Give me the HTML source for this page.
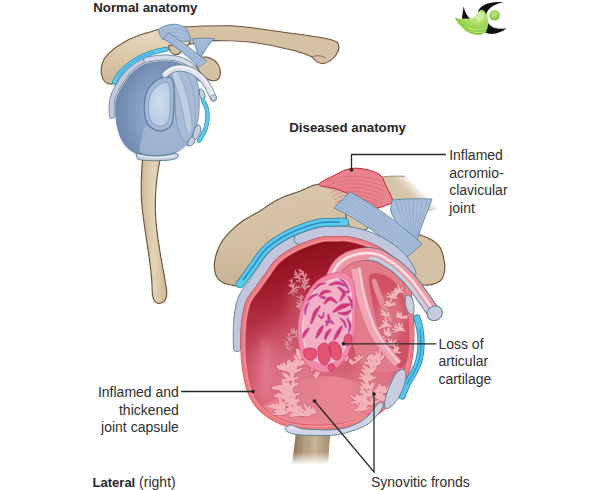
<!DOCTYPE html>
<html><head><meta charset="utf-8"><style>
html,body{margin:0;padding:0;background:#fff;width:600px;height:490px;overflow:hidden;}
svg{display:block;}
text{font-family:"Liberation Sans",sans-serif;fill:#2f2f2f;font-size:14px;}
.b{font-weight:bold;font-size:13.3px;fill:#262626;}
.bone{fill:#d5c2a5;stroke:#6a533d;stroke-width:1.15;}
.lig{fill:#a9bddb;stroke:#4f7f92;stroke-width:0.8;}
.cap{fill:#c9cde0;stroke:#4f7d8e;stroke-width:0.9;}
.bur{fill:#58c2ea;stroke:#2a7f9c;stroke-width:0.9;}
.ll{fill:none;stroke:#2a2a2a;stroke-width:1.3;}
</style></head><body>
<svg width="600" height="490" viewBox="0 0 600 490">
<defs>
  <linearGradient id="acroD" x1="0.2" x2="0.5" y1="0" y2="1">
    <stop offset="0" stop-color="#dbc9ae"/><stop offset="0.55" stop-color="#d3bfa2"/><stop offset="1" stop-color="#c7af90"/>
  </linearGradient>
  <linearGradient id="acroN" x1="0" x2="0.3" y1="1" y2="0">
    <stop offset="0" stop-color="#cdb796"/><stop offset="0.6" stop-color="#dccbab"/><stop offset="1" stop-color="#e6d8be"/>
  </linearGradient>
  <radialGradient id="glenN" cx="0.5" cy="0.45" r="0.6">
    <stop offset="0" stop-color="#d0dcee"/><stop offset="1" stop-color="#b8c9e2"/>
  </radialGradient>
  <linearGradient id="shaftDh" x1="0" x2="1" y1="0" y2="0">
    <stop offset="0" stop-color="#8a6e52"/><stop offset="0.3" stop-color="#b49c7e"/><stop offset="0.6" stop-color="#c8b498"/><stop offset="1" stop-color="#a48c70"/>
  </linearGradient>
  <linearGradient id="shaftFade" x1="0" x2="0" y1="0" y2="1">
    <stop offset="0" stop-color="#fff" stop-opacity="0"/><stop offset="0.43" stop-color="#fff" stop-opacity="0"/><stop offset="0.7" stop-color="#fff" stop-opacity="0.6"/><stop offset="0.88" stop-color="#fff" stop-opacity="1"/><stop offset="1" stop-color="#fff" stop-opacity="1"/>
  </linearGradient>
  <filter id="blur3" x="-50%" y="-50%" width="200%" height="200%"><feGaussianBlur stdDeviation="4"/></filter>
  <linearGradient id="shaftN" x1="0" x2="1" y1="0" y2="0">
    <stop offset="0" stop-color="#cdb792"/><stop offset="0.5" stop-color="#e3d4b8"/><stop offset="1" stop-color="#cdb792"/>
  </linearGradient>
  <linearGradient id="shaftD" x1="0" x2="0" y1="0" y2="1">
    <stop offset="0" stop-color="#a58e72"/><stop offset="0.6" stop-color="#c9b89c"/><stop offset="1" stop-color="#ffffff"/>
  </linearGradient>
  <radialGradient id="sockN" cx="0.62" cy="0.55" r="0.62">
    <stop offset="0" stop-color="#acbfdb"/><stop offset="0.6" stop-color="#849cc0"/><stop offset="1" stop-color="#6c86ae"/>
  </radialGradient>
  <linearGradient id="sockD" x1="0" x2="0.25" y1="0" y2="1">
    <stop offset="0" stop-color="#7c0712"/><stop offset="0.28" stop-color="#a01a2c"/><stop offset="0.6" stop-color="#c6465c"/><stop offset="1" stop-color="#e27688"/>
  </linearGradient>
  <radialGradient id="sockD2" cx="0.3" cy="0.72" r="0.35">
    <stop offset="0" stop-color="#e58096" stop-opacity="0.7"/><stop offset="1" stop-color="#e58096" stop-opacity="0"/>
  </radialGradient>
  <linearGradient id="floorD" x1="0" x2="0" y1="0" y2="1">
    <stop offset="0" stop-color="#e77888"/><stop offset="1" stop-color="#ee8896"/>
  </linearGradient>
  <linearGradient id="clavD" gradientUnits="userSpaceOnUse" x1="411" y1="203.5" x2="424" y2="190.5">
    <stop offset="0" stop-color="#d6c4a8"/><stop offset="0.4" stop-color="#dccbb2"/><stop offset="0.8" stop-color="#f4eee6"/><stop offset="1" stop-color="#ffffff"/>
  </linearGradient>
  <radialGradient id="logoG" cx="0.65" cy="0.3" r="0.8">
    <stop offset="0" stop-color="#c4ea86"/><stop offset="0.6" stop-color="#94d44a"/><stop offset="1" stop-color="#78bf2c"/>
  </radialGradient>
  <radialGradient id="logoB" cx="0.45" cy="0.4" r="0.6">
    <stop offset="0" stop-color="#c8ec94"/><stop offset="1" stop-color="#7cc232"/>
  </radialGradient>
</defs>

<!-- ============ NORMAL ANATOMY ============ -->
<path class="bone" style="fill:url(#shaftN)" d="M143,155 C141,175 140,195 143,215 C146,240 151,262 152,285 C152,296 153,303 159,303.5 C166,303 168,296 166,286 C163,268 158,245 156,222 C154,200 156,178 161,155 Z"/>
<path class="bone" d="M182,27 C200,26 218,25.5 232,25.8 C250,27 262,29 275,31 C290,33 305,35 318,37 C328,38.5 334,40 337.5,42.5 C339.5,46 339,51 336,55 C333,59 329,62 324,63.5 C319,64 315,61 312,57 C304,53 296,51 287,49 C275,46 262,43.5 250,42 C238,41 226,40.5 214,40.5 L190,44 Z"/>
<path fill="none" stroke="#6f5a46" stroke-width="0.8" d="M312,57 C316,55 322,55.5 326,58"/>
<path class="bone" style="fill:url(#acroN);stroke-width:1.1" d="M104.0,80.5 L103.5,79.7 L103.0,78.7 L102.6,77.7 L102.2,76.6 L101.8,75.4 L101.5,74.3 L101.3,73.1 L101.2,72.0 L101.1,70.9 L101.2,69.7 L101.3,68.6 L101.4,67.4 L101.6,66.3 L101.9,65.1 L102.2,64.0 L102.5,63.0 L102.8,62.0 L103.2,61.1 L103.6,60.2 L104.1,59.4 L104.6,58.6 L105.2,57.7 L105.8,56.9 L106.5,56.0 L107.3,55.1 L108.1,54.2 L109.0,53.2 L110.0,52.3 L111.0,51.4 L112.0,50.5 L113.0,49.6 L114.0,48.8 L115.0,48.0 L116.0,47.3 L117.1,46.6 L118.1,45.9 L119.1,45.3 L120.1,44.7 L121.1,44.1 L122.0,43.5 L122.8,43.0 L123.6,42.5 L124.4,42.0 L125.1,41.6 L125.8,41.2 L126.5,40.8 L127.2,40.4 L128.0,40.0 L128.8,39.6 L129.7,39.2 L130.6,38.8 L131.4,38.4 L132.3,38.1 L133.2,37.7 L134.1,37.4 L135.0,37.0 L135.9,36.6 L136.7,36.3 L137.6,35.9 L138.4,35.6 L139.3,35.3 L140.2,34.9 L141.1,34.6 L142.0,34.3 L143.0,34.0 L144.0,33.7 L145.0,33.4 L146.0,33.1 L147.0,32.8 L148.0,32.6 L149.0,32.3 L150.0,32.0 L150.9,31.7 L151.8,31.4 L152.6,31.1 L153.4,30.9 L154.3,30.6 L155.1,30.3 L156.0,30.0 L157.0,29.8 L158.0,29.6 L159.1,29.3 L160.2,29.1 L161.3,28.8 L162.5,28.6 L163.6,28.4 L164.8,28.3 L166.0,28.2 L167.2,28.2 L168.5,28.2 L169.7,28.2 L171.0,28.2 L172.3,28.4 L173.5,28.5 L174.8,28.7 L176.0,29.0 L177.2,29.3 L178.4,29.7 L179.6,30.1 L180.8,30.6 L182.0,31.1 L183.1,31.7 L184.1,32.3 L185.0,33.0 L185.9,33.7 L186.7,34.5 L187.6,35.4 L188.3,36.3 L189.0,37.2 L189.5,38.2 L189.8,39.1 L190.0,40.0 L190.0,40.9 L189.8,41.8 L189.4,42.8 L188.9,43.8 L188.3,44.7 L187.6,45.5 L186.8,46.3 L186.0,47.0 L185.0,47.6 L183.9,48.1 L182.6,48.6 L181.3,49.0 L179.9,49.3 L178.6,49.6 L177.2,49.8 L176.0,50.0 L174.8,50.1 L173.7,50.1 L172.6,50.0 L171.4,49.8 L170.3,49.7 L169.2,49.6 L168.1,49.5 L167.0,49.5 L165.9,49.6 L164.8,49.7 L163.7,49.8 L162.6,50.0 L161.4,50.2 L160.3,50.4 L159.2,50.7 L158.0,51.0 L156.8,51.3 L155.6,51.7 L154.3,52.1 L153.1,52.5 L151.8,53.0 L150.5,53.5 L149.3,54.0 L148.0,54.5 L146.7,55.0 L145.5,55.6 L144.2,56.2 L142.9,56.9 L141.6,57.5 L140.4,58.2 L139.2,58.8 L138.0,59.5 L136.9,60.2 L135.8,60.8 L134.8,61.5 L133.8,62.2 L132.8,62.9 L131.9,63.6 L130.9,64.3 L130.0,65.0 L129.1,65.7 L128.1,66.5 L127.2,67.2 L126.3,68.0 L125.4,68.8 L124.6,69.5 L123.8,70.3 L123.0,71.0 L122.3,71.7 L121.6,72.4 L120.9,73.1 L120.2,73.8 L119.6,74.4 L119.1,75.1 L118.5,75.8 L118.0,76.5 L117.5,77.3 L117.2,78.1 L116.8,78.9 L116.5,79.8 L116.2,80.6 L115.9,81.3 L115.5,82.0 L115.0,82.5 L114.4,82.9 L113.8,83.3 L113.1,83.6 L112.4,83.8 L111.7,84.0 L110.9,84.1 L110.2,84.1 L109.5,84.0 L108.8,83.8 L108.1,83.6 L107.3,83.3 L106.6,82.9 L105.9,82.4 L105.2,81.8 L104.6,81.2 Z"/>
<path class="bone" d="M168.5,46 C173,44.5 178,45 180.5,48 C182,51.5 180,54.5 176,54.5 C172,54.5 169,51 168.5,46 Z"/>
<path class="bone" d="M196,60 C201,55 211,56.5 217,63 C221.5,68.5 221.5,77 217,80 C211,82.5 204,78 200,72 C197,68 195.5,63.5 196,60 Z"/>
<path class="lig" d="M192,39 C199,38 207,38 214.5,38.5 C209,44 205,50 201.5,56.5 L197.5,56 C197,50 195,44 192,39 Z"/>
<path fill="none" stroke="#7d9cc0" stroke-width="0.5" d="M196,40 L199,55 M200,40 L200,55.5 M204,40 L200.5,55.5 M208,40 L201,55.5 M211,40 L201.5,55"/>
<path class="lig" d="M158.5,29.5 C163,26 168,24.5 173,24.3 C180,24.2 184.5,26.5 187,30 C189.5,33.5 190.5,37.5 190.5,41 C185,41.5 180,41 174,40.3 C169,39.8 165,39.5 162.5,39.3 C160,36 158.5,32.5 158.5,29.5 Z"/>
<path fill="none" stroke="#7d9cc0" stroke-width="0.5" d="M161,31 C170,27 180,28 188,33 M162,34 C172,31 182,32 189.5,37 M164,37 C174,35 183,36 190.5,40"/>
<path class="lig" d="M163,38.5 L168.5,33 C180,40 195,52 207,61.5 L199,67.5 C189,57 176,47 163,38.5 Z"/>
<path fill="none" stroke="#7d9cc0" stroke-width="0.5" d="M165,37 L202,65 M167,35 L204.5,63.5 M165.5,39.5 L200.5,66.5"/>
<path fill="#d9c7a6" d="M199,67.5 L207,61.5 L209,64 L201.5,69.5 Z" opacity="0.9"/>
<path fill="url(#sockN)" stroke="#eef1f7" stroke-width="1.3" d="M144.0,63.5 L144.7,63.3 L145.4,63.0 L146.2,62.8 L147.0,62.6 L147.7,62.5 L148.6,62.3 L149.4,62.1 L150.2,62.0 L151.0,61.9 L151.8,61.7 L152.7,61.6 L153.5,61.5 L154.2,61.4 L155.0,61.3 L155.7,61.2 L156.5,61.1 L157.2,61.0 L157.9,60.9 L158.6,60.8 L159.3,60.8 L160.0,60.7 L160.7,60.6 L161.4,60.6 L162.1,60.6 L162.8,60.5 L163.5,60.5 L164.3,60.5 L165.0,60.5 L165.8,60.5 L166.5,60.5 L167.3,60.5 L168.1,60.6 L168.9,60.6 L169.7,60.6 L170.5,60.7 L171.3,60.8 L172.1,60.8 L172.9,60.9 L173.7,61.1 L174.5,61.2 L175.2,61.3 L176.0,61.5 L176.8,61.7 L177.5,61.9 L178.3,62.1 L179.0,62.4 L179.8,62.6 L180.5,62.9 L181.2,63.2 L182.0,63.5 L182.7,63.8 L183.4,64.1 L184.1,64.4 L184.7,64.8 L185.4,65.1 L186.0,65.5 L186.6,65.9 L187.2,66.3 L187.7,66.7 L188.3,67.1 L188.8,67.5 L189.3,67.9 L189.8,68.4 L190.3,68.8 L190.8,69.3 L191.3,69.8 L191.7,70.3 L192.2,70.9 L192.6,71.4 L193.0,72.0 L193.4,72.6 L193.8,73.2 L194.2,73.9 L194.5,74.5 L194.9,75.2 L195.2,75.9 L195.6,76.6 L195.9,77.3 L196.2,78.1 L196.5,78.8 L196.7,79.6 L197.0,80.4 L197.3,81.2 L197.5,82.0 L197.7,82.8 L197.9,83.7 L198.1,84.6 L198.3,85.4 L198.5,86.3 L198.6,87.3 L198.8,88.2 L198.9,89.1 L199.0,90.1 L199.1,91.1 L199.2,92.0 L199.3,93.0 L199.4,94.0 L199.5,95.0 L199.6,96.0 L199.6,97.0 L199.7,98.1 L199.7,99.2 L199.7,100.3 L199.7,101.3 L199.8,102.4 L199.7,103.5 L199.7,104.6 L199.7,105.7 L199.7,106.8 L199.6,107.9 L199.6,109.0 L199.5,110.0 L199.4,111.0 L199.3,112.1 L199.2,113.1 L199.1,114.1 L199.0,115.2 L198.9,116.2 L198.8,117.2 L198.6,118.2 L198.5,119.2 L198.3,120.2 L198.1,121.2 L197.9,122.1 L197.7,123.1 L197.5,124.0 L197.3,124.9 L197.0,125.8 L196.7,126.7 L196.5,127.6 L196.2,128.5 L195.9,129.4 L195.6,130.2 L195.2,131.1 L194.9,131.9 L194.5,132.8 L194.2,133.6 L193.8,134.4 L193.4,135.2 L193.0,136.0 L192.6,136.8 L192.2,137.6 L191.7,138.3 L191.3,139.1 L190.8,139.8 L190.3,140.6 L189.8,141.3 L189.3,142.0 L188.8,142.7 L188.3,143.4 L187.7,144.1 L187.2,144.7 L186.6,145.4 L186.0,146.0 L185.4,146.6 L184.8,147.2 L184.2,147.8 L183.5,148.3 L182.9,148.8 L182.2,149.4 L181.6,149.9 L180.9,150.4 L180.1,150.8 L179.4,151.3 L178.6,151.8 L177.8,152.2 L176.9,152.6 L176.0,153.0 L175.0,153.4 L174.0,153.8 L173.0,154.1 L171.9,154.5 L170.7,154.8 L169.6,155.1 L168.4,155.4 L167.2,155.7 L166.0,156.0 L164.8,156.2 L163.6,156.4 L162.3,156.6 L161.2,156.8 L160.0,157.0 L158.8,157.1 L157.6,157.3 L156.4,157.4 L155.2,157.5 L153.9,157.5 L152.7,157.6 L151.4,157.6 L150.2,157.6 L149.0,157.6 L147.9,157.6 L146.8,157.5 L145.7,157.5 L144.7,157.4 L143.8,157.3 L142.9,157.2 L142.2,157.0 L141.4,156.9 L140.7,156.7 L140.1,156.5 L139.5,156.3 L138.9,156.0 L138.4,155.8 L137.8,155.5 L137.3,155.2 L136.7,155.0 L136.2,154.6 L135.6,154.3 L135.0,154.0 L134.4,153.7 L133.7,153.3 L133.1,152.9 L132.5,152.6 L131.8,152.2 L131.2,151.8 L130.6,151.4 L130.0,150.9 L129.3,150.5 L128.7,150.0 L128.2,149.5 L127.6,149.0 L127.0,148.5 L126.5,148.0 L126.0,147.5 L125.5,146.9 L125.0,146.3 L124.5,145.7 L124.1,145.1 L123.6,144.5 L123.2,143.8 L122.8,143.2 L122.4,142.5 L122.0,141.8 L121.6,141.1 L121.2,140.4 L120.9,139.7 L120.5,139.0 L120.2,138.3 L119.8,137.5 L119.5,136.8 L119.2,136.0 L118.9,135.2 L118.7,134.4 L118.4,133.6 L118.1,132.8 L117.9,132.0 L117.7,131.2 L117.4,130.4 L117.2,129.6 L117.0,128.8 L116.8,128.0 L116.6,127.2 L116.4,126.4 L116.3,125.6 L116.1,124.8 L116.0,124.0 L115.8,123.2 L115.7,122.4 L115.6,121.6 L115.5,120.8 L115.4,120.0 L115.3,119.2 L115.2,118.5 L115.1,117.7 L115.0,117.0 L114.9,116.3 L114.9,115.7 L114.8,115.0 L114.7,114.4 L114.7,113.8 L114.6,113.2 L114.6,112.6 L114.6,112.0 L114.6,111.4 L114.6,110.8 L114.6,110.2 L114.6,109.6 L114.6,109.0 L114.6,108.3 L114.6,107.6 L114.7,106.9 L114.7,106.2 L114.7,105.5 L114.8,104.7 L114.8,104.0 L114.9,103.2 L114.9,102.5 L115.0,101.7 L115.1,101.0 L115.3,100.2 L115.4,99.5 L115.6,98.7 L115.8,98.0 L116.0,97.3 L116.3,96.5 L116.5,95.8 L116.8,95.1 L117.1,94.4 L117.4,93.7 L117.8,93.0 L118.1,92.3 L118.5,91.5 L118.9,90.8 L119.3,90.0 L119.7,89.3 L120.1,88.5 L120.6,87.7 L121.1,86.9 L121.6,86.0 L122.2,85.1 L122.7,84.2 L123.3,83.2 L123.9,82.3 L124.5,81.3 L125.2,80.4 L125.8,79.5 L126.4,78.6 L127.0,77.7 L127.7,76.9 L128.2,76.1 L128.8,75.4 L129.3,74.7 L129.9,74.1 L130.4,73.5 L130.9,73.0 L131.4,72.5 L131.9,72.0 L132.4,71.5 L132.9,71.0 L133.4,70.6 L133.9,70.2 L134.4,69.8 L134.9,69.3 L135.5,68.9 L136.0,68.5 L136.5,68.1 L137.1,67.7 L137.6,67.3 L138.1,66.9 L138.7,66.5 L139.2,66.1 L139.8,65.7 L140.3,65.3 L140.9,65.0 L141.5,64.7 L142.1,64.4 L142.7,64.1 L143.3,63.8 Z"/>
<path fill="none" stroke="#6f8aa8" stroke-width="0.6" d="M144.3,64.3 L145.0,64.1 L145.7,63.9 L146.4,63.7 L147.2,63.5 L147.9,63.3 L148.7,63.2 L149.5,63.0 L150.3,62.9 L151.2,62.8 L152.0,62.6 L152.8,62.5 L153.6,62.4 L154.4,62.3 L155.1,62.2 L155.9,62.1 L156.6,62.0 L157.3,61.9 L158.0,61.8 L158.7,61.7 L159.4,61.7 L160.1,61.6 L160.8,61.5 L161.5,61.5 L162.1,61.5 L162.8,61.4 L163.5,61.4 L164.3,61.4 L165.0,61.4 L165.7,61.4 L166.5,61.4 L167.3,61.4 L168.1,61.5 L168.9,61.5 L169.6,61.5 L170.4,61.6 L171.2,61.7 L172.0,61.7 L172.8,61.8 L173.6,61.9 L174.3,62.1 L175.1,62.2 L175.8,62.4 L176.5,62.6 L177.3,62.8 L178.0,63.0 L178.7,63.2 L179.5,63.5 L180.2,63.7 L180.9,64.0 L181.6,64.3 L182.3,64.6 L183.0,64.9 L183.7,65.2 L184.3,65.6 L184.9,65.9 L185.5,66.3 L186.1,66.6 L186.7,67.0 L187.2,67.4 L187.7,67.8 L188.3,68.2 L188.8,68.6 L189.2,69.0 L189.7,69.5 L190.2,69.9 L190.6,70.4 L191.0,70.9 L191.5,71.4 L191.9,72.0 L192.3,72.5 L192.7,73.1 L193.0,73.7 L193.4,74.3 L193.7,74.9 L194.1,75.6 L194.4,76.3 L194.7,77.0 L195.0,77.7 L195.3,78.4 L195.6,79.1 L195.9,79.9 L196.2,80.7 L196.4,81.4 L196.6,82.2 L196.9,83.1 L197.1,83.9 L197.3,84.7 L197.4,85.6 L197.6,86.5 L197.7,87.4 L197.9,88.3 L198.0,89.3 L198.1,90.2 L198.3,91.2 L198.4,92.1 L198.4,93.1 L198.5,94.1 L198.6,95.1 L198.7,96.1 L198.7,97.1 L198.8,98.1 L198.8,99.2 L198.8,100.3 L198.8,101.3 L198.8,102.4 L198.8,103.5 L198.8,104.6 L198.8,105.7 L198.8,106.8 L198.7,107.8 L198.7,108.9 L198.6,109.9 L198.5,111.0 L198.4,112.0 L198.4,113.0 L198.3,114.0 L198.1,115.1 L198.0,116.1 L197.9,117.1 L197.7,118.1 L197.6,119.0 L197.4,120.0 L197.2,121.0 L197.1,121.9 L196.8,122.9 L196.6,123.8 L196.4,124.7 L196.1,125.6 L195.9,126.5 L195.6,127.4 L195.3,128.2 L195.0,129.1 L194.7,129.9 L194.4,130.8 L194.1,131.6 L193.7,132.4 L193.4,133.2 L193.0,134.0 L192.6,134.8 L192.2,135.6 L191.8,136.4 L191.4,137.1 L190.9,137.9 L190.5,138.6 L190.0,139.4 L189.6,140.1 L189.1,140.8 L188.6,141.5 L188.1,142.2 L187.6,142.9 L187.1,143.5 L186.5,144.1 L185.9,144.8 L185.4,145.4 L184.8,146.0 L184.2,146.5 L183.6,147.1 L182.9,147.6 L182.3,148.1 L181.7,148.7 L181.0,149.1 L180.4,149.6 L179.7,150.1 L178.9,150.5 L178.2,151.0 L177.4,151.4 L176.5,151.8 L175.6,152.2 L174.7,152.5 L173.7,152.9 L172.7,153.3 L171.6,153.6 L170.5,153.9 L169.3,154.2 L168.2,154.5 L167.0,154.8 L165.8,155.1 L164.6,155.3 L163.4,155.6 L162.2,155.8 L161.0,155.9 L159.9,156.1 L158.7,156.2 L157.5,156.4 L156.3,156.5 L155.1,156.6 L153.9,156.6 L152.7,156.7 L151.4,156.7 L150.2,156.7 L149.1,156.7 L147.9,156.7 L146.8,156.6 L145.8,156.6 L144.8,156.5 L143.9,156.4 L143.1,156.3 L142.3,156.2 L141.6,156.0 L141.0,155.8 L140.4,155.6 L139.8,155.4 L139.3,155.2 L138.7,155.0 L138.2,154.7 L137.7,154.4 L137.2,154.2 L136.6,153.9 L136.0,153.5 L135.4,153.2 L134.8,152.9 L134.2,152.5 L133.6,152.2 L132.9,151.8 L132.3,151.4 L131.7,151.0 L131.1,150.6 L130.5,150.2 L129.9,149.8 L129.3,149.3 L128.7,148.8 L128.2,148.4 L127.7,147.9 L127.1,147.4 L126.7,146.8 L126.2,146.3 L125.7,145.7 L125.3,145.2 L124.8,144.6 L124.4,143.9 L124.0,143.3 L123.5,142.7 L123.1,142.0 L122.8,141.4 L122.4,140.7 L122.0,140.0 L121.7,139.3 L121.3,138.6 L121.0,137.9 L120.7,137.2 L120.4,136.4 L120.1,135.7 L119.8,134.9 L119.5,134.1 L119.2,133.3 L119.0,132.6 L118.7,131.8 L118.5,131.0 L118.3,130.2 L118.1,129.4 L117.9,128.6 L117.7,127.8 L117.5,127.0 L117.3,126.2 L117.1,125.4 L117.0,124.6 L116.8,123.8 L116.7,123.0 L116.6,122.2 L116.5,121.4 L116.4,120.6 L116.2,119.9 L116.2,119.1 L116.1,118.3 L116.0,117.6 L115.9,116.9 L115.8,116.2 L115.8,115.6 L115.7,114.9 L115.6,114.3 L115.6,113.7 L115.5,113.1 L115.5,112.6 L115.5,112.0 L115.5,111.4 L115.5,110.8 L115.5,110.2 L115.5,109.6 L115.5,109.0 L115.5,108.3 L115.5,107.6 L115.6,106.9 L115.6,106.2 L115.6,105.5 L115.7,104.8 L115.7,104.1 L115.8,103.3 L115.8,102.6 L115.9,101.9 L116.0,101.1 L116.2,100.4 L116.3,99.7 L116.5,99.0 L116.7,98.2 L116.9,97.5 L117.1,96.8 L117.4,96.1 L117.6,95.5 L117.9,94.8 L118.2,94.1 L118.6,93.4 L118.9,92.7 L119.3,91.9 L119.7,91.2 L120.1,90.5 L120.5,89.7 L120.9,88.9 L121.4,88.2 L121.9,87.3 L122.4,86.5 L122.9,85.6 L123.5,84.7 L124.1,83.7 L124.7,82.8 L125.3,81.8 L125.9,80.9 L126.5,80.0 L127.2,79.1 L127.8,78.2 L128.4,77.4 L129.0,76.7 L129.5,76.0 L130.0,75.3 L130.6,74.7 L131.1,74.1 L131.6,73.6 L132.1,73.1 L132.5,72.6 L133.0,72.2 L133.5,71.7 L134.0,71.3 L134.5,70.9 L135.0,70.5 L135.5,70.0 L136.0,69.6 L136.6,69.2 L137.1,68.8 L137.6,68.4 L138.2,68.0 L138.7,67.6 L139.2,67.2 L139.7,66.8 L140.3,66.5 L140.8,66.1 L141.3,65.8 L141.9,65.5 L142.5,65.2 L143.1,64.9 L143.7,64.6 Z"/>
<path fill="#a3b6d3" opacity="0.85" d="M146.0,126.0 L146.8,125.9 L147.8,126.0 L148.8,126.3 L150.0,126.8 L151.2,127.4 L152.5,128.1 L153.8,128.8 L155.1,129.4 L156.4,130.1 L157.7,130.5 L158.9,130.9 L160.0,131.0 L161.1,130.9 L162.1,130.6 L163.2,130.1 L164.2,129.6 L165.2,129.0 L166.2,128.3 L167.2,127.7 L168.2,127.1 L169.2,126.6 L170.1,126.2 L171.1,126.0 L172.0,126.0 L172.9,126.2 L173.8,126.6 L174.7,127.1 L175.6,127.7 L176.4,128.5 L177.2,129.2 L178.1,130.1 L178.9,130.9 L179.7,131.8 L180.5,132.6 L181.2,133.3 L182.0,134.0 L182.8,134.6 L183.7,135.2 L184.6,135.8 L185.5,136.3 L186.4,136.9 L187.2,137.4 L188.0,138.0 L188.7,138.6 L189.3,139.1 L189.7,139.7 L190.0,140.3 L190.0,141.0 L189.8,141.7 L189.4,142.4 L188.9,143.2 L188.2,144.0 L187.4,144.8 L186.4,145.7 L185.4,146.5 L184.4,147.3 L183.3,148.0 L182.2,148.7 L181.1,149.4 L180.0,150.0 L178.9,150.5 L177.8,151.1 L176.6,151.5 L175.4,152.0 L174.1,152.4 L172.8,152.8 L171.5,153.1 L170.2,153.5 L168.9,153.8 L167.6,154.0 L166.3,154.3 L165.0,154.5 L163.7,154.7 L162.4,154.9 L161.1,155.0 L159.8,155.1 L158.5,155.2 L157.2,155.3 L155.9,155.3 L154.6,155.3 L153.4,155.3 L152.2,155.2 L151.1,155.1 L150.0,155.0 L149.0,154.9 L147.9,154.7 L146.9,154.5 L145.9,154.3 L144.9,154.1 L143.9,153.8 L143.1,153.5 L142.3,153.2 L141.5,152.7 L140.9,152.2 L140.4,151.7 L140.0,151.0 L139.7,150.2 L139.6,149.3 L139.6,148.4 L139.7,147.3 L139.9,146.2 L140.1,145.0 L140.4,143.8 L140.7,142.6 L141.1,141.4 L141.4,140.2 L141.7,139.1 L142.0,138.0 L142.2,136.9 L142.4,135.7 L142.6,134.5 L142.8,133.3 L143.0,132.1 L143.2,130.9 L143.5,129.7 L143.9,128.7 L144.2,127.8 L144.7,127.0 L145.3,126.4 Z"/>
<path fill="#a8bbd7" stroke="#6a8aa6" stroke-width="0.7" d="M168.0,70.0 L168.4,69.2 L169.0,68.5 L169.8,67.9 L170.7,67.5 L171.8,67.1 L172.9,66.8 L174.2,66.7 L175.4,66.5 L176.6,66.5 L177.8,66.5 L179.0,66.5 L180.0,66.5 L181.0,66.6 L181.9,66.7 L182.9,66.9 L183.9,67.2 L184.9,67.5 L185.9,67.8 L186.8,68.3 L187.7,68.7 L188.6,69.2 L189.5,69.8 L190.3,70.4 L191.0,71.0 L191.7,71.7 L192.3,72.4 L192.9,73.2 L193.5,74.0 L194.1,74.9 L194.6,75.8 L195.0,76.7 L195.5,77.7 L195.9,78.7 L196.3,79.8 L196.7,80.9 L197.0,82.0 L197.3,83.2 L197.6,84.4 L197.8,85.6 L198.1,86.9 L198.2,88.3 L198.4,89.6 L198.5,91.0 L198.7,92.4 L198.8,93.8 L198.9,95.2 L198.9,96.6 L199.0,98.0 L199.1,99.4 L199.1,100.8 L199.1,102.2 L199.1,103.7 L199.1,105.1 L199.1,106.6 L199.0,108.0 L199.0,109.4 L198.9,110.9 L198.8,112.3 L198.7,113.7 L198.5,115.0 L198.3,116.3 L198.1,117.7 L197.9,119.0 L197.6,120.3 L197.4,121.6 L197.1,122.9 L196.8,124.1 L196.5,125.4 L196.1,126.6 L195.8,127.8 L195.4,128.9 L195.0,130.0 L194.6,131.1 L194.2,132.2 L193.7,133.4 L193.2,134.5 L192.7,135.6 L192.2,136.6 L191.7,137.6 L191.2,138.5 L190.6,139.3 L190.1,140.0 L189.5,140.6 L189.0,141.0 L188.4,141.3 L187.9,141.4 L187.3,141.5 L186.7,141.4 L186.1,141.3 L185.4,141.1 L184.8,140.7 L184.2,140.3 L183.6,139.9 L183.1,139.3 L182.5,138.7 L182.0,138.0 L181.5,137.2 L181.0,136.4 L180.5,135.4 L180.1,134.3 L179.6,133.2 L179.2,132.0 L178.8,130.7 L178.4,129.4 L178.0,128.1 L177.6,126.8 L177.3,125.4 L177.0,124.0 L176.7,122.6 L176.5,121.1 L176.3,119.6 L176.1,118.0 L175.9,116.3 L175.8,114.7 L175.6,113.0 L175.5,111.4 L175.4,109.7 L175.2,108.1 L175.1,106.5 L175.0,105.0 L174.9,103.5 L174.8,102.1 L174.8,100.6 L174.8,99.2 L174.8,97.8 L174.8,96.4 L174.7,95.1 L174.7,93.7 L174.6,92.3 L174.4,90.9 L174.3,89.4 L174.0,88.0 L173.6,86.5 L173.1,84.9 L172.4,83.2 L171.7,81.5 L170.9,79.8 L170.2,78.2 L169.5,76.5 L168.9,75.0 L168.4,73.5 L168.0,72.2 L167.9,71.0 Z"/>
<path fill="#bfcee5" stroke="#7a98b4" stroke-width="0.6" d="M172.0,74.0 L172.1,73.3 L172.4,72.7 L172.7,72.1 L173.2,71.7 L173.7,71.4 L174.3,71.1 L174.9,71.0 L175.6,71.0 L176.2,71.0 L176.9,71.2 L177.5,71.6 L178.0,72.0 L178.5,72.6 L179.0,73.4 L179.5,74.3 L180.0,75.3 L180.6,76.5 L181.1,77.8 L181.6,79.1 L182.1,80.4 L182.6,81.8 L183.1,83.2 L183.5,84.6 L184.0,86.0 L184.5,87.4 L184.9,88.7 L185.4,90.2 L185.8,91.6 L186.3,93.1 L186.7,94.6 L187.1,96.2 L187.5,97.7 L187.9,99.3 L188.3,100.8 L188.7,102.4 L189.0,104.0 L189.3,105.6 L189.7,107.3 L190.0,109.1 L190.3,110.9 L190.6,112.7 L190.9,114.5 L191.2,116.3 L191.4,118.0 L191.6,119.7 L191.8,121.2 L191.9,122.7 L192.0,124.0 L192.0,125.2 L192.0,126.4 L191.9,127.6 L191.8,128.7 L191.6,129.7 L191.4,130.6 L191.2,131.5 L191.0,132.2 L190.8,132.9 L190.5,133.4 L190.3,133.8 L190.0,134.0 L189.7,134.1 L189.4,134.1 L189.1,134.0 L188.8,133.7 L188.5,133.3 L188.1,132.9 L187.8,132.3 L187.4,131.6 L187.0,130.9 L186.7,130.0 L186.3,129.0 L186.0,128.0 L185.7,126.8 L185.3,125.5 L185.0,123.9 L184.7,122.3 L184.4,120.6 L184.1,118.8 L183.7,116.9 L183.4,115.0 L183.1,113.2 L182.7,111.4 L182.4,109.6 L182.0,108.0 L181.6,106.4 L181.2,104.9 L180.8,103.3 L180.4,101.8 L180.0,100.3 L179.6,98.8 L179.1,97.3 L178.7,95.8 L178.3,94.3 L177.8,92.9 L177.4,91.4 L177.0,90.0 L176.5,88.6 L176.0,87.1 L175.5,85.5 L174.9,84.0 L174.4,82.5 L173.8,81.0 L173.3,79.6 L172.9,78.2 L172.5,77.0 L172.2,75.8 L172.0,74.8 Z"/>
<path fill="none" stroke="#7f9bb8" stroke-width="0.6" d="M186.0,72.0 L186.5,73.2 L187.0,74.3 L187.6,75.4 L188.1,76.5 L188.7,77.6 L189.2,78.8 L189.7,79.9 L190.2,81.0 L190.7,82.2 L191.2,83.4 L191.6,84.7 L192.0,86.0 L192.4,87.4 L192.7,88.7 L193.0,90.2 L193.3,91.6 L193.6,93.1 L193.9,94.6 L194.1,96.2 L194.3,97.7 L194.5,99.3 L194.7,100.8 L194.9,102.4 L195.0,104.0 L195.1,105.6 L195.2,107.3 L195.3,109.0 L195.3,110.8 L195.4,112.6 L195.4,114.4 L195.4,116.1 L195.3,117.9 L195.3,119.5 L195.2,121.1 L195.1,122.6 L195.0,124.0 L194.9,125.3 L194.7,126.5 L194.5,127.6 L194.2,128.6 L194.0,129.6 L193.7,130.5 L193.4,131.4 L193.1,132.3 L192.8,133.2 L192.5,134.1 L192.3,135.0 L192.0,136.0"/>
<path fill="#a3b8d6" stroke="#54789a" stroke-width="1.15" d="M167.0,77.0 L167.6,77.0 L168.1,77.0 L168.6,77.0 L169.1,77.1 L169.5,77.2 L169.9,77.3 L170.3,77.4 L170.7,77.6 L171.1,77.9 L171.4,78.2 L171.7,78.6 L172.0,79.0 L172.3,79.5 L172.5,80.0 L172.8,80.7 L173.0,81.3 L173.1,82.1 L173.3,82.8 L173.5,83.6 L173.6,84.4 L173.7,85.3 L173.8,86.2 L173.9,87.1 L174.0,88.0 L174.1,88.9 L174.1,89.9 L174.2,91.0 L174.2,92.0 L174.2,93.1 L174.2,94.2 L174.1,95.4 L174.1,96.5 L174.1,97.7 L174.1,98.8 L174.0,99.9 L174.0,101.0 L174.0,102.1 L174.0,103.2 L173.9,104.3 L173.9,105.4 L173.9,106.5 L173.9,107.7 L173.8,108.8 L173.8,109.9 L173.7,110.9 L173.7,112.0 L173.6,113.0 L173.5,114.0 L173.4,115.0 L173.3,116.0 L173.2,116.9 L173.1,117.9 L173.0,118.8 L172.8,119.8 L172.7,120.6 L172.5,121.5 L172.3,122.3 L172.1,123.1 L171.8,123.8 L171.5,124.5 L171.2,125.1 L170.8,125.7 L170.4,126.2 L170.0,126.7 L169.5,127.2 L169.1,127.6 L168.6,128.0 L168.1,128.3 L167.6,128.6 L167.0,128.9 L166.5,129.2 L166.0,129.5 L165.5,129.8 L164.9,130.0 L164.4,130.2 L163.8,130.4 L163.2,130.5 L162.7,130.7 L162.1,130.8 L161.5,130.8 L160.9,130.9 L160.2,130.9 L159.6,130.9 L159.0,130.8 L158.4,130.7 L157.7,130.6 L157.0,130.4 L156.3,130.2 L155.6,130.0 L154.9,129.7 L154.2,129.4 L153.5,129.1 L152.8,128.7 L152.2,128.3 L151.6,127.9 L151.0,127.5 L150.5,127.0 L150.0,126.5 L149.5,126.0 L149.0,125.5 L148.5,124.9 L148.1,124.3 L147.7,123.7 L147.3,123.0 L146.9,122.3 L146.6,121.6 L146.3,120.8 L146.0,120.0 L145.7,119.2 L145.5,118.3 L145.3,117.3 L145.1,116.3 L144.9,115.3 L144.8,114.3 L144.6,113.2 L144.5,112.2 L144.4,111.1 L144.4,110.1 L144.3,109.0 L144.3,108.0 L144.3,107.0 L144.3,106.0 L144.3,104.9 L144.4,103.9 L144.4,102.9 L144.5,101.8 L144.6,100.8 L144.7,99.8 L144.9,98.8 L145.1,97.9 L145.3,96.9 L145.5,96.0 L145.7,95.1 L146.0,94.2 L146.3,93.4 L146.6,92.6 L147.0,91.7 L147.3,90.9 L147.7,90.2 L148.1,89.4 L148.6,88.6 L149.0,87.9 L149.5,87.2 L150.0,86.5 L150.5,85.8 L151.1,85.1 L151.7,84.5 L152.4,83.8 L153.0,83.2 L153.7,82.6 L154.4,82.0 L155.1,81.4 L155.8,80.9 L156.6,80.4 L157.3,79.9 L158.0,79.5 L158.7,79.1 L159.5,78.8 L160.3,78.5 L161.1,78.2 L161.9,77.9 L162.7,77.7 L163.5,77.5 L164.3,77.3 L165.0,77.2 L165.7,77.1 L166.4,77.0 Z"/>
<path fill="url(#glenN)" stroke="#7d98ba" stroke-width="0.8" d="M165.5,82.5 L165.9,82.5 L166.2,82.5 L166.6,82.6 L166.9,82.7 L167.2,82.8 L167.4,82.9 L167.7,83.1 L167.9,83.3 L168.2,83.5 L168.4,83.8 L168.6,84.1 L168.8,84.5 L169.0,84.9 L169.2,85.4 L169.3,85.9 L169.5,86.5 L169.6,87.1 L169.7,87.7 L169.8,88.3 L169.9,89.0 L170.0,89.8 L170.1,90.5 L170.1,91.2 L170.2,92.0 L170.3,92.8 L170.3,93.6 L170.3,94.5 L170.4,95.4 L170.4,96.3 L170.4,97.3 L170.4,98.2 L170.4,99.2 L170.3,100.2 L170.3,101.1 L170.3,102.1 L170.3,103.0 L170.3,103.9 L170.3,104.9 L170.3,105.8 L170.2,106.8 L170.2,107.8 L170.2,108.7 L170.1,109.7 L170.1,110.6 L170.0,111.5 L170.0,112.4 L169.9,113.2 L169.8,114.0 L169.7,114.8 L169.6,115.5 L169.5,116.2 L169.3,116.9 L169.2,117.6 L169.0,118.2 L168.9,118.8 L168.7,119.4 L168.5,120.0 L168.3,120.5 L168.1,121.0 L167.8,121.5 L167.5,122.0 L167.2,122.4 L166.9,122.8 L166.6,123.2 L166.2,123.5 L165.8,123.8 L165.5,124.1 L165.1,124.4 L164.7,124.7 L164.3,124.9 L163.9,125.1 L163.5,125.3 L163.1,125.5 L162.7,125.6 L162.3,125.7 L161.9,125.8 L161.5,125.9 L161.1,126.0 L160.7,126.0 L160.2,126.0 L159.8,126.0 L159.4,125.9 L158.9,125.9 L158.5,125.8 L158.1,125.7 L157.6,125.6 L157.1,125.4 L156.6,125.2 L156.1,125.0 L155.7,124.8 L155.2,124.6 L154.7,124.3 L154.2,124.0 L153.8,123.7 L153.4,123.4 L153.0,123.0 L152.6,122.6 L152.3,122.2 L151.9,121.8 L151.6,121.4 L151.3,120.9 L151.0,120.5 L150.7,119.9 L150.5,119.4 L150.2,118.9 L150.0,118.3 L149.8,117.7 L149.6,117.0 L149.4,116.3 L149.3,115.6 L149.1,114.8 L149.0,114.0 L148.9,113.1 L148.8,112.2 L148.7,111.4 L148.6,110.5 L148.6,109.6 L148.5,108.7 L148.5,107.8 L148.5,107.0 L148.5,106.2 L148.6,105.3 L148.6,104.4 L148.7,103.6 L148.8,102.7 L148.9,101.8 L149.0,101.0 L149.1,100.1 L149.3,99.3 L149.4,98.5 L149.6,97.7 L149.8,97.0 L150.0,96.3 L150.3,95.6 L150.5,95.0 L150.8,94.4 L151.1,93.8 L151.4,93.2 L151.7,92.7 L152.0,92.1 L152.4,91.6 L152.7,91.0 L153.1,90.5 L153.5,90.0 L153.9,89.5 L154.4,89.0 L154.8,88.4 L155.3,87.9 L155.8,87.4 L156.4,86.9 L156.9,86.5 L157.4,86.0 L157.9,85.6 L158.5,85.2 L159.0,84.8 L159.5,84.5 L160.0,84.2 L160.5,83.9 L161.1,83.7 L161.6,83.4 L162.1,83.2 L162.7,83.0 L163.2,82.9 L163.7,82.7 L164.2,82.6 L164.7,82.6 L165.1,82.5 Z"/>
<path fill="none" stroke="#587f91" stroke-width="5.8" stroke-linecap="round" d="M111.9,116.0 L111.8,115.3 L111.7,114.6 L111.7,114.0 L111.7,113.4 L111.6,112.8 L111.6,112.1 L111.6,111.5 L111.6,110.9 L111.6,110.2 L111.6,109.6 L111.6,108.9 L111.6,108.2 L111.6,107.5 L111.7,106.8 L111.7,106.1 L111.7,105.3 L111.8,104.6 L111.8,103.8 L111.9,103.0 L112.0,102.2 L112.1,101.4 L112.2,100.5 L112.3,99.7 L112.5,98.9 L112.7,98.0 L112.9,97.2 L113.2,96.4 L113.4,95.6 L113.7,94.8 L114.0,94.0 L114.4,93.2 L114.7,92.4 L115.1,91.7 L115.4,90.9 L115.8,90.1 L116.2,89.4 L116.7,88.6 L117.1,87.8 L117.5,87.0 L118.0,86.2 L118.5,85.3 L119.0,84.5 L119.6,83.5 L120.2,82.6 L120.8,81.6 L121.4,80.7 L122.0,79.7 L122.7,78.7 L123.3,77.8 L124.0,76.9 L124.6,76.0 L125.2,75.1 L125.9,74.3 L126.5,73.5 L127.0,72.8 L127.6,72.1 L128.2,71.5 L128.7,70.9 L129.3,70.3 L129.8,69.8 L130.4,69.3 L130.9,68.8 L131.5,68.3 L132.0,67.9 L132.5,67.4 L133.1,67.0 L133.6,66.6 L134.1,66.1 L134.7,65.7 L135.2,65.3 L135.8,64.9 L136.4,64.4 L136.9,64.0 L137.5,63.6 L138.1,63.2 L138.7,62.8 L139.4,62.4 L140.0,62.0 L140.7,61.7 L141.4,61.3 L142.2,61.0 L142.9,60.7 L143.7,60.4 L144.6,60.1 L145.4,59.9 L146.3,59.7 L147.1,59.5 L148.0,59.3 L148.9,59.2 L149.7,59.0 L150.6,58.9 L151.4,58.8 L152.2,58.7 L153.0,58.5 L153.8,58.4 L154.6,58.3 L155.3,58.2 L156.1,58.1 L156.8,58.0 L157.6,57.9 L158.3,57.9 L159.0,57.8 L159.7,57.7 L160.5,57.7 L161.2,57.6 L162.0,57.6 L162.7,57.5 L163.5,57.5 L164.2,57.5 L165.0,57.5 L165.8,57.5 L166.6,57.5 L167.4,57.5 L168.2,57.6 L169.0,57.6 L169.9,57.7 L170.7,57.7 L171.6,57.8 L172.4,57.9 L173.3,58.0 L174.1,58.1 L175.0,58.2 L175.9,58.4 L176.7,58.6 L177.5,58.8 L178.3,59.0 L179.1,59.2 L179.9,59.5 L180.8,59.8 L181.6,60.1 L182.4,60.4 L183.1,60.7 L183.9,61.0 L184.7,61.4 L185.4,61.7 L186.2,62.1 L186.9,62.5 L187.6,62.9 L188.2,63.4 L188.9,63.8 L189.5,64.2 L190.1,64.7 L190.7,65.2 L191.3,65.7 L191.9,66.2 L192.4,66.7 L193.0,67.2 L193.5,67.8 L194.0,68.4 L194.5,69.0 L195.0,69.6 L195.5,70.3 L195.9,71.0 L196.4,71.7 L196.8,72.4 L197.2,73.1 L197.6,73.8 L197.9,74.6 L198.3,75.4 L198.6,76.2 L199.0,77.0 L199.3,77.8 L199.6,78.6"/>
<path fill="none" stroke="#c6c9df" stroke-width="4.4" stroke-linecap="round" d="M111.9,116.0 L111.8,115.3 L111.7,114.6 L111.7,114.0 L111.7,113.4 L111.6,112.8 L111.6,112.1 L111.6,111.5 L111.6,110.9 L111.6,110.2 L111.6,109.6 L111.6,108.9 L111.6,108.2 L111.6,107.5 L111.7,106.8 L111.7,106.1 L111.7,105.3 L111.8,104.6 L111.8,103.8 L111.9,103.0 L112.0,102.2 L112.1,101.4 L112.2,100.5 L112.3,99.7 L112.5,98.9 L112.7,98.0 L112.9,97.2 L113.2,96.4 L113.4,95.6 L113.7,94.8 L114.0,94.0 L114.4,93.2 L114.7,92.4 L115.1,91.7 L115.4,90.9 L115.8,90.1 L116.2,89.4 L116.7,88.6 L117.1,87.8 L117.5,87.0 L118.0,86.2 L118.5,85.3 L119.0,84.5 L119.6,83.5 L120.2,82.6 L120.8,81.6 L121.4,80.7 L122.0,79.7 L122.7,78.7 L123.3,77.8 L124.0,76.9 L124.6,76.0 L125.2,75.1 L125.9,74.3 L126.5,73.5 L127.0,72.8 L127.6,72.1 L128.2,71.5 L128.7,70.9 L129.3,70.3 L129.8,69.8 L130.4,69.3 L130.9,68.8 L131.5,68.3 L132.0,67.9 L132.5,67.4 L133.1,67.0 L133.6,66.6 L134.1,66.1 L134.7,65.7 L135.2,65.3 L135.8,64.9 L136.4,64.4 L136.9,64.0 L137.5,63.6 L138.1,63.2 L138.7,62.8 L139.4,62.4 L140.0,62.0 L140.7,61.7 L141.4,61.3 L142.2,61.0 L142.9,60.7 L143.7,60.4 L144.6,60.1 L145.4,59.9 L146.3,59.7 L147.1,59.5 L148.0,59.3 L148.9,59.2 L149.7,59.0 L150.6,58.9 L151.4,58.8 L152.2,58.7 L153.0,58.5 L153.8,58.4 L154.6,58.3 L155.3,58.2 L156.1,58.1 L156.8,58.0 L157.6,57.9 L158.3,57.9 L159.0,57.8 L159.7,57.7 L160.5,57.7 L161.2,57.6 L162.0,57.6 L162.7,57.5 L163.5,57.5 L164.2,57.5 L165.0,57.5 L165.8,57.5 L166.6,57.5 L167.4,57.5 L168.2,57.6 L169.0,57.6 L169.9,57.7 L170.7,57.7 L171.6,57.8 L172.4,57.9 L173.3,58.0 L174.1,58.1 L175.0,58.2 L175.9,58.4 L176.7,58.6 L177.5,58.8 L178.3,59.0 L179.1,59.2 L179.9,59.5 L180.8,59.8 L181.6,60.1 L182.4,60.4 L183.1,60.7 L183.9,61.0 L184.7,61.4 L185.4,61.7 L186.2,62.1 L186.9,62.5 L187.6,62.9 L188.2,63.4 L188.9,63.8 L189.5,64.2 L190.1,64.7 L190.7,65.2 L191.3,65.7 L191.9,66.2 L192.4,66.7 L193.0,67.2 L193.5,67.8 L194.0,68.4 L194.5,69.0 L195.0,69.6 L195.5,70.3 L195.9,71.0 L196.4,71.7 L196.8,72.4 L197.2,73.1 L197.6,73.8 L197.9,74.6 L198.3,75.4 L198.6,76.2 L199.0,77.0 L199.3,77.8 L199.6,78.6"/>
<path fill="none" stroke="#587f91" stroke-width="0.7" d="M142.6,57 L144.2,62"/>
<path fill="none" stroke="#d9dcea" stroke-width="3" stroke-linecap="round" d="M146.3,59.7 L147.1,59.5 L148.0,59.3 L148.9,59.2 L149.7,59.0 L150.6,58.9 L151.4,58.8 L152.2,58.7 L153.0,58.5 L153.8,58.4 L154.6,58.3 L155.3,58.2 L156.1,58.1 L156.8,58.0 L157.6,57.9 L158.3,57.9 L159.0,57.8 L159.7,57.7 L160.5,57.7 L161.2,57.6 L162.0,57.6 L162.7,57.5 L163.5,57.5 L164.2,57.5 L165.0,57.5 L165.8,57.5 L166.6,57.5 L167.4,57.5 L168.2,57.6 L169.0,57.6 L169.9,57.7 L170.7,57.7 L171.6,57.8 L172.4,57.9 L173.3,58.0 L174.1,58.1 L175.0,58.2 L175.9,58.4 L176.7,58.6 L177.5,58.8 L178.3,59.0 L179.1,59.2 L179.9,59.5 L180.8,59.8 L181.6,60.1 L182.4,60.4 L183.1,60.7 L183.9,61.0 L184.7,61.4 L185.4,61.7 L186.2,62.1 L186.9,62.5 L187.6,62.9 L188.2,63.4 L188.9,63.8 L189.5,64.2 L190.1,64.7 L190.7,65.2"/>
<path fill="none" stroke="#2a86a6" stroke-width="5" stroke-linecap="round" d="M114.5,82.5 L114.8,81.8 L115.1,81.1 L115.4,80.5 L115.7,79.8 L115.9,79.2 L116.2,78.5 L116.6,77.8 L117.0,77.1 L117.5,76.4 L118.0,75.6 L118.6,74.8 L119.4,74.0 L120.2,73.1 L121.0,72.2 L121.9,71.3 L122.8,70.4 L123.7,69.5 L124.6,68.6 L125.5,67.8 L126.4,67.0 L127.2,66.3 L128.1,65.5 L128.9,64.9 L129.8,64.2 L130.6,63.5 L131.4,62.9 L132.3,62.3 L133.2,61.7 L134.1,61.1 L135.0,60.5 L135.9,59.9 L136.9,59.3 L137.9,58.8 L138.9,58.2 L139.9,57.7 L140.9,57.2 L142.0,56.7 L143.0,56.2 L144.0,55.7 L145.0,55.3 L146.0,54.9 L147.0,54.5 L148.0,54.1 L149.0,53.7 L149.9,53.4 L150.9,53.0 L151.9,52.7 L152.9,52.4 L154.0,52.1 L155.0,51.8 L156.1,51.5 L157.1,51.2 L158.2,51.0 L159.3,50.7 L160.4,50.5 L161.6,50.3 L162.7,50.0 L163.8,49.8 L164.9,49.5 L166.0,49.3"/>
<path fill="none" stroke="#5cc8ef" stroke-width="3.8" stroke-linecap="round" d="M114.5,82.5 L114.8,81.8 L115.1,81.1 L115.4,80.5 L115.7,79.8 L115.9,79.2 L116.2,78.5 L116.6,77.8 L117.0,77.1 L117.5,76.4 L118.0,75.6 L118.6,74.8 L119.4,74.0 L120.2,73.1 L121.0,72.2 L121.9,71.3 L122.8,70.4 L123.7,69.5 L124.6,68.6 L125.5,67.8 L126.4,67.0 L127.2,66.3 L128.1,65.5 L128.9,64.9 L129.8,64.2 L130.6,63.5 L131.4,62.9 L132.3,62.3 L133.2,61.7 L134.1,61.1 L135.0,60.5 L135.9,59.9 L136.9,59.3 L137.9,58.8 L138.9,58.2 L139.9,57.7 L140.9,57.2 L142.0,56.7 L143.0,56.2 L144.0,55.7 L145.0,55.3 L146.0,54.9 L147.0,54.5 L148.0,54.1 L149.0,53.7 L149.9,53.4 L150.9,53.0 L151.9,52.7 L152.9,52.4 L154.0,52.1 L155.0,51.8 L156.1,51.5 L157.1,51.2 L158.2,51.0 L159.3,50.7 L160.4,50.5 L161.6,50.3 L162.7,50.0 L163.8,49.8 L164.9,49.5 L166.0,49.3"/>
<path fill="none" stroke="#2f9ccb" stroke-width="0.8" d="M118.0,75.6 L118.8,74.7 L119.7,73.8 L120.5,73.0 L121.4,72.1 L122.2,71.2 L123.0,70.3 L123.9,69.4 L124.7,68.6 L125.6,67.8 L126.4,67.0 L127.2,66.3 L128.1,65.5 L128.9,64.9 L129.8,64.2 L130.6,63.5 L131.4,62.9 L132.3,62.3 L133.2,61.7 L134.1,61.1 L135.0,60.5 L135.9,59.9 L136.9,59.3 L137.9,58.8 L138.9,58.2 L139.9,57.7 L140.9,57.2 L142.0,56.7 L143.0,56.2 L144.0,55.7 L145.0,55.3 L146.0,54.9 L147.0,54.5 L148.0,54.1 L149.0,53.8 L150.0,53.4 L151.0,53.1 L152.0,52.8 L153.0,52.5 L154.0,52.1 L155.0,51.8"/>
<path fill="none" stroke="#5c7e91" stroke-width="7" stroke-linecap="round" d="M165.0,74.5 L165.7,74.0 L166.4,73.4 L167.0,72.9 L167.7,72.3 L168.4,71.8 L169.1,71.2 L169.8,70.7 L170.5,70.3 L171.2,69.9 L172.0,69.5 L172.8,69.2 L173.7,68.9 L174.5,68.7 L175.4,68.5 L176.3,68.3 L177.2,68.1 L178.2,68.0 L179.1,68.0 L180.1,68.0 L181.0,68.0 L182.0,68.1 L183.0,68.2 L184.0,68.3 L185.0,68.5 L186.0,68.8 L187.0,69.1 L188.0,69.4 L189.0,69.7 L190.0,70.1 L191.0,70.5 L191.9,70.9 L192.9,71.4 L193.8,72.0 L194.8,72.5 L195.7,73.1 L196.6,73.8 L197.5,74.4 L198.3,75.1 L199.2,75.8 L200.0,76.5 L200.8,77.2 L201.5,78.0 L202.3,78.7 L203.0,79.5 L203.7,80.3 L204.3,81.2 L205.0,82.0 L205.7,83.0 L206.3,84.0 L207.0,85.0 L207.7,86.1 L208.3,87.3 L209.0,88.6 L209.6,89.9 L210.3,91.2 L210.9,92.6 L211.6,94.0 L212.2,95.3 L212.9,96.7 L213.5,98.0"/>
<path fill="none" stroke="#dfe2ee" stroke-width="5.6" stroke-linecap="round" d="M165.0,74.5 L165.7,74.0 L166.4,73.4 L167.0,72.9 L167.7,72.3 L168.4,71.8 L169.1,71.2 L169.8,70.7 L170.5,70.3 L171.2,69.9 L172.0,69.5 L172.8,69.2 L173.7,68.9 L174.5,68.7 L175.4,68.5 L176.3,68.3 L177.2,68.1 L178.2,68.0 L179.1,68.0 L180.1,68.0 L181.0,68.0 L182.0,68.1 L183.0,68.2 L184.0,68.3 L185.0,68.5 L186.0,68.8 L187.0,69.1 L188.0,69.4 L189.0,69.7 L190.0,70.1 L191.0,70.5 L191.9,70.9 L192.9,71.4 L193.8,72.0 L194.8,72.5 L195.7,73.1 L196.6,73.8 L197.5,74.4 L198.3,75.1 L199.2,75.8 L200.0,76.5 L200.8,77.2 L201.5,78.0 L202.3,78.7 L203.0,79.5 L203.7,80.3 L204.3,81.2 L205.0,82.0 L205.7,83.0 L206.3,84.0 L207.0,85.0 L207.7,86.1 L208.3,87.3 L209.0,88.6 L209.6,89.9 L210.3,91.2 L210.9,92.6 L211.6,94.0 L212.2,95.3 L212.9,96.7 L213.5,98.0"/>
<path fill="none" stroke="#f6f7fb" stroke-width="1.4" d="M164.3,73.5 L165.0,73.0 L165.6,72.5 L166.3,72.0 L166.9,71.4 L167.6,70.8 L168.3,70.3 L169.1,69.8 L169.9,69.2 L170.7,68.8 L171.5,68.4 L172.4,68.1 L173.3,67.8 L174.2,67.5 L175.2,67.3 L176.1,67.1 L177.1,67.0 L178.1,66.8 L179.1,66.8 L180.1,66.8 L181.1,66.8 L182.1,66.9 L183.1,67.0 L184.2,67.2 L185.2,67.4 L186.3,67.6 L187.4,67.9 L188.4,68.2 L189.5,68.6 L190.5,69.0 L191.5,69.4 L192.5,69.9 L193.5,70.4 L194.4,70.9 L195.4,71.5 L196.4,72.1 L197.3,72.8 L198.2,73.5 L199.1,74.2 L200.0,74.9 L200.8,75.6 L201.6,76.4 L202.4,77.1 L203.1,77.9 L203.9,78.7 L204.6,79.5 L205.3,80.4 L206.0,81.3 L206.6,82.3 L207.3,83.3 L208.0,84.4 L208.7,85.5 L209.4,86.7 L210.1,88.0 L210.7,89.3 L211.4,90.7 L212.0,92.1 L212.7,93.4 L213.3,94.8 L213.9,96.2 L214.6,97.5"/>
<ellipse cx="213.4" cy="97.6" rx="3" ry="2.8" fill="#cdd2e2" stroke="#5c7e91" stroke-width="0.6"/>
<path class="cap" d="M199.5,89 C202,88.5 205,92 205,97 C205,99.5 203,100 201,99 C199.5,96 199,92 199.5,89 Z"/>
<path class="cap" d="M197,125 C200,124 201.5,127.5 200.5,132 C199,136 196,140 193.5,140.5 C192,138 193,130 197,125 Z"/>
<path class="cap" d="M191,137 C193.5,136.5 195.5,139 194.5,142 C193,145 190,146.5 187.5,146 C187,143 189,139.5 191,137 Z"/>
<path fill="none" stroke="#2a86a6" stroke-width="4.4" stroke-linecap="round" d="M203.0,100.5 L203.4,101.2 L203.7,102.0 L204.1,102.7 L204.5,103.4 L204.9,104.2 L205.3,104.9 L205.6,105.6 L206.0,106.4 L206.3,107.2 L206.5,108.0 L206.7,108.8 L206.9,109.7 L207.1,110.6 L207.2,111.4 L207.3,112.3 L207.4,113.3 L207.5,114.2 L207.5,115.1 L207.5,116.1 L207.5,117.0 L207.5,118.0 L207.4,119.0 L207.3,120.0 L207.2,121.0 L207.0,122.1 L206.9,123.1 L206.7,124.1 L206.5,125.1 L206.2,126.1 L206.0,127.0 L205.7,127.9 L205.4,128.8 L205.1,129.6 L204.7,130.4 L204.4,131.3 L204.0,132.1 L203.6,132.8 L203.2,133.6 L202.9,134.3 L202.5,135.0 L202.2,135.7 L201.8,136.3 L201.4,136.9 L201.1,137.5 L200.8,138.0 L200.4,138.6 L200.1,139.1 L199.7,139.7 L199.3,140.2 L199.0,140.8"/>
<path fill="none" stroke="#5cc8ef" stroke-width="3.2" stroke-linecap="round" d="M203.0,100.5 L203.4,101.2 L203.7,102.0 L204.1,102.7 L204.5,103.4 L204.9,104.2 L205.3,104.9 L205.6,105.6 L206.0,106.4 L206.3,107.2 L206.5,108.0 L206.7,108.8 L206.9,109.7 L207.1,110.6 L207.2,111.4 L207.3,112.3 L207.4,113.3 L207.5,114.2 L207.5,115.1 L207.5,116.1 L207.5,117.0 L207.5,118.0 L207.4,119.0 L207.3,120.0 L207.2,121.0 L207.0,122.1 L206.9,123.1 L206.7,124.1 L206.5,125.1 L206.2,126.1 L206.0,127.0 L205.7,127.9 L205.4,128.8 L205.1,129.6 L204.7,130.4 L204.4,131.3 L204.0,132.1 L203.6,132.8 L203.2,133.6 L202.9,134.3 L202.5,135.0 L202.2,135.7 L201.8,136.3 L201.4,136.9 L201.1,137.5 L200.8,138.0 L200.4,138.6 L200.1,139.1 L199.7,139.7 L199.3,140.2 L199.0,140.8"/>
<path class="cap" d="M137,153.2 C146,156 160,157 172,154 C176,152.5 179,153.5 178.5,156.5 C177,159.5 170,160.5 158,160.7 C150,160.8 143,160.4 139,159.6 C136,158.6 135.5,155 137,153.2 Z"/>
<path fill="none" stroke="#eef0f7" stroke-width="1.2" d="M139,155.5 C148,157.6 162,158.3 175,155.6"/>

<!-- ============ DISEASED ANATOMY ============ -->
<path fill="url(#shaftDh)" d="M296,430 C295,442 293.5,452 292,466 L328.5,466 C328.5,452 329.5,442 331,430 Z"/>
<path fill="none" stroke="#7a6248" stroke-width="0.6" opacity="0.22" d="M302,436 L300,462 M309,436 L308,463 M318,436 L318.5,463 M324,436 L323.5,462"/>
<rect x="288" y="440" width="46" height="28" fill="url(#shaftFade)"/>
<path fill="url(#clavD)" d="M377,177 C388,176.5 398,176 406,176.3 C416,186 427,198 438,209 C430,213 416,212 402,207 C392,203 384,199 380,192 Z"/>
<path fill="none" stroke="#9c8468" stroke-width="1.3" opacity="0.75" d="M379,176.8 C390,176.2 398,176 405,176.3"/>
<path class="bone" style="fill:url(#acroD)" d="M318.0,184.3 L315.6,184.7 L313.2,185.4 L310.9,186.3 L308.6,187.3 L306.3,188.3 L304.1,189.4 L301.9,190.3 L299.7,191.2 L297.6,192.0 L295.5,192.7 L293.4,193.4 L291.4,194.1 L289.4,194.8 L287.5,195.4 L285.7,196.1 L284.0,196.8 L282.4,197.5 L280.9,198.1 L279.6,198.8 L278.3,199.4 L277.0,200.1 L275.7,200.8 L274.3,201.5 L272.8,202.4 L271.2,203.4 L269.6,204.4 L268.0,205.5 L266.3,206.7 L264.6,207.9 L262.9,209.1 L261.1,210.3 L259.3,211.4 L257.4,212.5 L255.5,213.6 L253.5,214.7 L251.4,215.8 L249.4,216.9 L247.4,218.0 L245.5,219.2 L243.6,220.4 L241.8,221.7 L240.0,223.0 L238.3,224.3 L236.6,225.7 L234.9,227.1 L233.3,228.6 L231.7,230.1 L230.2,231.6 L228.7,233.1 L227.3,234.7 L225.9,236.3 L224.6,237.9 L223.3,239.6 L222.1,241.3 L221.0,243.1 L220.0,245.0 L219.0,247.0 L218.1,249.1 L217.3,251.3 L216.5,253.5 L215.8,255.8 L215.3,257.9 L214.8,260.0 L214.5,262.0 L214.3,263.9 L214.3,265.7 L214.4,267.4 L214.5,269.1 L214.8,270.7 L215.1,272.3 L215.5,273.7 L216.0,275.0 L216.5,276.2 L217.1,277.3 L217.8,278.2 L218.5,279.1 L219.3,279.9 L220.2,280.7 L221.1,281.4 L222.0,282.0 L223.0,282.6 L224.0,283.1 L225.2,283.5 L226.3,283.9 L227.5,284.2 L228.7,284.5 L229.9,284.8 L231.0,285.0 L232.1,285.2 L233.3,285.4 L234.5,285.6 L235.7,285.8 L236.8,285.9 L238.0,285.9 L239.0,285.7 L240.0,285.5 L240.9,285.1 L241.7,284.7 L242.5,284.1 L243.2,283.4 L243.9,282.7 L244.6,281.8 L245.3,280.9 L246.0,280.0 L246.8,279.0 L247.5,277.8 L248.2,276.5 L249.0,275.2 L249.8,273.9 L250.5,272.5 L251.2,271.2 L252.0,270.0 L252.7,268.8 L253.4,267.7 L254.1,266.6 L254.8,265.6 L255.5,264.5 L256.2,263.4 L257.1,262.2 L258.0,261.0 L259.0,259.7 L260.2,258.4 L261.4,257.0 L262.6,255.6 L263.9,254.1 L265.3,252.7 L266.6,251.3 L268.0,250.0 L269.4,248.7 L270.8,247.4 L272.2,246.1 L273.7,244.9 L275.2,243.6 L276.7,242.4 L278.3,241.2 L280.0,240.0 L281.7,238.8 L283.4,237.6 L285.2,236.5 L287.0,235.3 L288.9,234.2 L290.8,233.1 L292.9,232.0 L295.0,231.0 L297.3,230.0 L299.7,229.0 L302.3,228.1 L304.9,227.1 L307.5,226.2 L310.1,225.4 L312.6,224.7 L315.0,224.0 L317.3,223.4 L319.5,222.9 L321.6,222.5 L323.8,222.1 L325.8,221.8 L327.9,221.5 L329.9,221.3 L332.0,221.0 L334.1,220.9 L336.3,220.9 L338.5,221.0 L340.7,221.2 L342.8,221.2 L344.7,221.1 L346.5,220.7 L348.0,220.0 L349.3,218.9 L350.4,217.4 L351.3,215.7 L352.1,213.8 L352.8,211.7 L353.3,209.7 L353.7,207.8 L354.0,206.0 L354.2,204.3 L354.3,202.5 L354.4,200.8 L354.2,199.0 L354.0,197.4 L353.5,195.8 L352.9,194.3 L352.0,193.0 L350.9,191.8 L349.5,190.8 L347.9,189.9 L346.1,189.1 L344.2,188.3 L342.2,187.7 L340.1,187.1 L338.0,186.5 L335.8,186.0 L333.4,185.4 L330.9,185.0 L328.3,184.6 L325.6,184.3 L323.0,184.1 L320.5,184.1 Z"/>
<path class="bone" d="M346.0,214.0 L346.3,213.5 L346.9,213.0 L347.5,212.7 L348.3,212.5 L349.2,212.3 L350.2,212.2 L351.2,212.2 L352.2,212.2 L353.2,212.3 L354.2,212.3 L355.2,212.4 L356.0,212.5 L356.8,212.6 L357.6,212.8 L358.4,212.9 L359.3,213.2 L360.1,213.4 L360.9,213.7 L361.7,214.0 L362.4,214.4 L363.1,214.8 L363.8,215.2 L364.4,215.6 L365.0,216.0 L365.5,216.5 L366.0,217.0 L366.5,217.5 L367.0,218.1 L367.4,218.7 L367.8,219.3 L368.1,219.9 L368.4,220.6 L368.6,221.2 L368.8,221.8 L368.9,222.4 L369.0,223.0 L369.0,223.6 L369.0,224.2 L368.9,224.8 L368.7,225.4 L368.6,226.0 L368.3,226.6 L368.0,227.2 L367.7,227.7 L367.3,228.2 L366.9,228.7 L366.5,229.1 L366.0,229.5 L365.5,229.8 L364.8,230.1 L364.1,230.4 L363.4,230.6 L362.6,230.8 L361.8,230.9 L360.9,231.0 L360.1,231.1 L359.2,231.1 L358.5,231.1 L357.7,231.1 L357.0,231.0 L356.3,230.9 L355.7,230.8 L355.0,230.6 L354.4,230.4 L353.8,230.2 L353.2,229.9 L352.6,229.6 L352.0,229.2 L351.5,228.8 L351.0,228.3 L350.5,227.7 L350.0,227.0 L349.5,226.2 L349.0,225.2 L348.5,224.1 L347.9,222.9 L347.4,221.6 L346.9,220.3 L346.5,219.1 L346.2,217.8 L345.9,216.7 L345.8,215.6 L345.8,214.7 Z"/>
<path class="bone" d="M404.0,236.0 L404.5,235.2 L405.1,234.5 L405.8,234.0 L406.6,233.6 L407.3,233.4 L408.2,233.2 L409.1,233.2 L410.0,233.2 L411.0,233.3 L412.0,233.4 L413.0,233.5 L414.0,233.6 L415.1,233.7 L416.3,234.0 L417.5,234.3 L418.9,234.6 L420.2,235.0 L421.6,235.5 L422.9,236.0 L424.3,236.5 L425.6,237.0 L426.8,237.5 L427.9,238.0 L429.0,238.5 L430.0,239.0 L430.9,239.5 L431.8,240.0 L432.6,240.5 L433.4,241.0 L434.2,241.5 L434.9,242.1 L435.6,242.6 L436.2,243.2 L436.8,243.8 L437.4,244.4 L438.0,245.0 L438.5,245.6 L439.0,246.2 L439.5,246.8 L439.9,247.4 L440.3,248.0 L440.6,248.6 L440.9,249.2 L441.3,249.9 L441.5,250.6 L441.8,251.4 L442.1,252.3 L442.4,253.2 L442.7,254.2 L443.0,255.3 L443.3,256.5 L443.6,257.7 L443.9,259.0 L444.1,260.4 L444.3,261.7 L444.5,263.0 L444.7,264.3 L444.8,265.6 L444.8,266.8 L444.8,268.0 L444.7,269.1 L444.6,270.2 L444.5,271.4 L444.3,272.5 L444.1,273.6 L443.8,274.6 L443.5,275.6 L443.1,276.6 L442.7,277.6 L442.2,278.4 L441.6,279.3 L441.0,280.0 L440.3,280.7 L439.5,281.3 L438.6,281.9 L437.6,282.5 L436.6,283.0 L435.5,283.4 L434.4,283.8 L433.3,284.1 L432.2,284.4 L431.1,284.7 L430.0,284.9 L429.0,285.0 L428.0,285.1 L426.9,285.1 L425.9,285.1 L424.8,285.0 L423.7,284.9 L422.6,284.7 L421.6,284.5 L420.5,284.2 L419.5,283.9 L418.5,283.5 L417.6,283.0 L416.7,282.5 L415.8,281.9 L415.0,281.3 L414.2,280.6 L413.4,279.8 L412.7,279.0 L412.0,278.1 L411.3,277.2 L410.6,276.2 L409.9,275.2 L409.3,274.2 L408.6,273.1 L408.0,272.0 L407.4,270.9 L406.8,269.7 L406.1,268.5 L405.5,267.2 L404.9,265.9 L404.3,264.6 L403.8,263.2 L403.3,261.8 L402.9,260.4 L402.5,259.0 L402.2,257.5 L402.0,256.0 L401.9,254.4 L401.8,252.7 L401.8,250.9 L401.8,249.0 L401.9,247.1 L402.0,245.2 L402.2,243.3 L402.4,241.5 L402.8,239.9 L403.1,238.4 L403.5,237.1 Z"/>
<path fill="#e9838e" stroke="#c21c2c" stroke-width="1" d="M319.0,184.5 L319.4,183.6 L320.6,182.6 L322.4,181.4 L324.6,180.2 L327.0,178.9 L329.5,177.7 L331.9,176.6 L334.0,175.5 L336.0,174.5 L337.9,173.5 L339.9,172.5 L341.9,171.5 L344.0,170.6 L346.0,169.8 L348.0,169.2 L350.0,168.7 L352.0,168.4 L354.0,168.3 L356.1,168.2 L358.1,168.3 L360.1,168.5 L362.1,168.8 L364.1,169.1 L366.0,169.5 L367.9,169.9 L369.8,170.4 L371.7,171.0 L373.6,171.6 L375.4,172.3 L377.1,173.1 L378.6,174.0 L380.0,175.0 L381.1,176.1 L382.1,177.3 L382.8,178.5 L383.5,179.9 L384.1,181.3 L384.7,182.8 L385.3,184.4 L386.0,186.0 L386.9,187.8 L387.9,189.7 L389.1,191.8 L390.2,193.9 L391.1,195.9 L391.9,197.9 L392.4,199.6 L392.5,201.0 L392.2,202.1 L391.4,203.0 L390.4,203.8 L389.2,204.3 L387.9,204.8 L386.5,205.2 L385.2,205.6 L384.0,206.0 L382.9,206.4 L381.9,206.8 L380.8,207.2 L379.8,207.5 L378.7,207.8 L377.5,207.8 L376.3,207.8 L375.0,207.5 L373.6,207.0 L372.1,206.2 L370.5,205.3 L368.8,204.2 L367.1,203.1 L365.4,202.0 L363.7,201.0 L362.0,200.0 L360.3,199.1 L358.6,198.3 L356.8,197.4 L355.1,196.6 L353.3,195.8 L351.5,195.0 L349.8,194.2 L348.0,193.5 L346.3,192.8 L344.5,192.1 L342.8,191.5 L341.1,190.8 L339.3,190.2 L337.6,189.6 L335.8,189.1 L334.0,188.5 L332.0,188.0 L329.6,187.5 L327.1,187.1 L324.7,186.8 L322.5,186.3 L320.7,185.8 L319.4,185.2 Z"/>
<path fill="none" stroke="#cf5868" stroke-width="0.6" opacity="0.8" d="M326.0,182.0 C345.0,174.0 365.0,175.0 385.0,182.0"/>
<path fill="none" stroke="#cf5868" stroke-width="0.6" opacity="0.8" d="M327.5,185.6 C345.0,177.6 365.0,178.6 384.6,186.4"/>
<path fill="none" stroke="#cf5868" stroke-width="0.6" opacity="0.8" d="M329.0,189.2 C345.0,181.2 365.0,182.2 384.2,190.8"/>
<path fill="none" stroke="#cf5868" stroke-width="0.6" opacity="0.8" d="M330.5,192.8 C345.0,184.8 365.0,185.8 383.8,195.2"/>
<path fill="none" stroke="#cf5868" stroke-width="0.6" opacity="0.8" d="M332.0,196.4 C345.0,188.4 365.0,189.4 383.4,199.6"/>
<path fill="none" stroke="#cf5868" stroke-width="0.6" opacity="0.8" d="M333.5,200.0 C345.0,192.0 365.0,193.0 383.0,204.0"/>
<path fill="none" stroke="#cf5868" stroke-width="0.6" opacity="0.8" d="M335.0,203.6 C345.0,195.6 365.0,196.6 382.6,208.4"/>
<path fill="none" stroke="#cf5868" stroke-width="0.6" opacity="0.8" d="M336.5,207.2 C345.0,199.2 365.0,200.2 382.2,212.8"/>
<path fill="none" stroke="#cf5868" stroke-width="0.6" opacity="0.8" d="M338.0,210.8 C345.0,202.8 365.0,203.8 381.8,217.2"/>
<path class="lig" d="M392,200 C405,198.8 420,198.3 432,199 C428,210 422,224 417,240 L407,239 C401,228 392,218 390.5,210 Z"/>
<line x1="395.0" y1="200" x2="408.5" y2="238" stroke="#7f9fc4" stroke-width="0.6"/>
<line x1="399.6" y1="200" x2="409.6" y2="238" stroke="#7f9fc4" stroke-width="0.6"/>
<line x1="404.2" y1="200" x2="410.7" y2="238" stroke="#7f9fc4" stroke-width="0.6"/>
<line x1="408.8" y1="200" x2="411.8" y2="238" stroke="#7f9fc4" stroke-width="0.6"/>
<line x1="413.4" y1="200" x2="412.9" y2="238" stroke="#7f9fc4" stroke-width="0.6"/>
<line x1="418.0" y1="200" x2="414.0" y2="238" stroke="#7f9fc4" stroke-width="0.6"/>
<line x1="422.6" y1="200" x2="415.1" y2="238" stroke="#7f9fc4" stroke-width="0.6"/>
<line x1="427.2" y1="200" x2="416.2" y2="238" stroke="#7f9fc4" stroke-width="0.6"/>
<path class="lig" d="M334,208 L350,192 C375,205 400,224 422,244 L406,258 C385,238 360,220 334,208 Z"/>
<path fill="none" stroke="#7f9fc4" stroke-width="0.6" d="M336.0,206.0 C364.0,218.0 382.0,236.2 408.0,256.2"/>
<path fill="none" stroke="#7f9fc4" stroke-width="0.6" d="M338.0,204.0 C366.0,216.0 384.0,234.5 410.0,254.5"/>
<path fill="none" stroke="#7f9fc4" stroke-width="0.6" d="M340.0,202.0 C368.0,214.0 386.0,232.8 412.0,252.8"/>
<path fill="none" stroke="#7f9fc4" stroke-width="0.6" d="M342.0,200.0 C370.0,212.0 388.0,231.0 414.0,251.0"/>
<path fill="none" stroke="#7f9fc4" stroke-width="0.6" d="M344.0,198.0 C372.0,210.0 390.0,229.2 416.0,249.2"/>
<path fill="none" stroke="#7f9fc4" stroke-width="0.6" d="M346.0,196.0 C374.0,208.0 392.0,227.5 418.0,247.5"/>
<path fill="none" stroke="#7f9fc4" stroke-width="0.6" d="M348.0,194.0 C376.0,206.0 394.0,225.8 420.0,245.8"/>
<path fill="url(#sockD)" d="M320.0,240.0 L321.1,239.7 L322.2,239.5 L323.2,239.4 L324.2,239.2 L325.2,239.1 L326.1,239.0 L327.0,239.0 L327.9,239.0 L328.8,239.0 L329.7,239.0 L330.5,239.0 L331.4,239.0 L332.3,239.0 L333.2,239.0 L334.1,239.0 L335.0,239.0 L335.9,239.0 L336.8,239.0 L337.7,238.9 L338.6,238.9 L339.5,238.9 L340.4,238.8 L341.3,238.8 L342.2,238.8 L343.1,238.8 L344.0,238.8 L344.9,238.9 L345.9,239.0 L346.9,239.0 L347.9,239.2 L348.9,239.3 L350.0,239.5 L351.1,239.7 L352.3,240.0 L353.5,240.2 L354.7,240.5 L355.9,240.8 L357.2,241.1 L358.5,241.5 L359.8,241.9 L361.1,242.3 L362.4,242.7 L363.7,243.1 L365.0,243.6 L366.3,244.0 L367.6,244.5 L368.8,245.0 L370.0,245.5 L371.2,246.0 L372.4,246.6 L373.6,247.2 L374.8,247.8 L376.0,248.4 L377.2,249.0 L378.3,249.7 L379.5,250.3 L380.6,251.0 L381.8,251.7 L382.9,252.4 L384.0,253.1 L385.0,253.8 L386.1,254.6 L387.0,255.3 L388.0,256.0 L388.9,256.7 L389.8,257.4 L390.7,258.1 L391.5,258.8 L392.3,259.5 L393.1,260.2 L393.9,261.0 L394.6,261.7 L395.3,262.4 L396.1,263.2 L396.7,264.0 L397.4,264.8 L398.1,265.7 L398.7,266.6 L399.4,267.5 L400.0,268.5 L400.6,269.5 L401.2,270.5 L401.8,271.6 L402.4,272.7 L403.0,273.8 L403.5,274.9 L404.0,276.1 L404.6,277.3 L405.1,278.5 L405.5,279.8 L406.0,281.0 L406.4,282.4 L406.9,283.7 L407.3,285.1 L407.6,286.5 L408.0,288.0 L408.3,289.5 L408.6,291.1 L408.9,292.8 L409.2,294.5 L409.4,296.3 L409.6,298.1 L409.8,299.9 L410.0,301.7 L410.1,303.6 L410.3,305.4 L410.4,307.3 L410.5,309.1 L410.7,310.9 L410.8,312.6 L410.9,314.3 L411.0,316.0 L411.1,317.6 L411.2,319.2 L411.3,320.8 L411.4,322.3 L411.4,323.8 L411.5,325.3 L411.6,326.8 L411.6,328.3 L411.6,329.8 L411.6,331.2 L411.6,332.7 L411.6,334.2 L411.6,335.6 L411.6,337.1 L411.6,338.5 L411.5,340.0 L411.4,341.5 L411.4,342.9 L411.3,344.4 L411.2,345.9 L411.1,347.3 L411.0,348.8 L410.9,350.2 L410.7,351.7 L410.6,353.1 L410.4,354.6 L410.2,356.0 L410.0,357.4 L409.8,358.8 L409.5,360.2 L409.3,361.6 L409.0,363.0 L408.7,364.4 L408.4,365.7 L408.0,367.1 L407.7,368.5 L407.3,369.8 L406.9,371.2 L406.5,372.5 L406.1,373.9 L405.7,375.2 L405.2,376.5 L404.7,377.8 L404.2,379.1 L403.7,380.3 L403.1,381.6 L402.6,382.8 L402.0,384.0 L401.4,385.2 L400.8,386.3 L400.1,387.5 L399.5,388.6 L398.8,389.7 L398.1,390.8 L397.4,391.9 L396.7,392.9 L395.9,394.0 L395.2,395.0 L394.4,396.0 L393.5,397.1 L392.7,398.1 L391.8,399.0 L390.9,400.0 L390.0,401.0 L389.0,402.0 L388.1,402.9 L387.1,403.9 L386.0,404.8 L385.0,405.8 L383.9,406.7 L382.8,407.6 L381.6,408.5 L380.5,409.4 L379.3,410.2 L378.1,411.1 L376.9,411.9 L375.7,412.7 L374.5,413.5 L373.2,414.3 L372.0,415.0 L370.7,415.7 L369.5,416.4 L368.2,417.1 L366.9,417.7 L365.5,418.4 L364.2,419.0 L362.8,419.6 L361.4,420.2 L360.0,420.7 L358.6,421.2 L357.2,421.8 L355.8,422.3 L354.4,422.7 L352.9,423.2 L351.5,423.6 L350.0,424.0 L348.5,424.4 L347.0,424.7 L345.5,425.1 L344.0,425.4 L342.4,425.7 L340.8,425.9 L339.3,426.2 L337.7,426.4 L336.1,426.6 L334.5,426.8 L332.9,426.9 L331.3,427.1 L329.7,427.2 L328.1,427.3 L326.6,427.4 L325.0,427.5 L323.4,427.6 L321.8,427.6 L320.2,427.6 L318.5,427.6 L316.9,427.6 L315.2,427.6 L313.6,427.5 L311.9,427.4 L310.3,427.4 L308.7,427.3 L307.1,427.1 L305.6,427.0 L304.1,426.9 L302.7,426.8 L301.3,426.6 L300.0,426.5 L298.8,426.4 L297.6,426.2 L296.4,426.1 L295.4,425.9 L294.3,425.8 L293.3,425.6 L292.4,425.4 L291.4,425.2 L290.5,425.0 L289.6,424.8 L288.7,424.5 L287.8,424.3 L286.9,424.0 L285.9,423.7 L285.0,423.4 L284.0,423.0 L283.0,422.6 L282.0,422.2 L280.9,421.8 L279.9,421.3 L278.9,420.8 L277.8,420.3 L276.8,419.8 L275.8,419.2 L274.7,418.7 L273.7,418.1 L272.7,417.5 L271.7,417.0 L270.8,416.4 L269.8,415.7 L268.9,415.1 L268.0,414.5 L267.1,413.9 L266.3,413.2 L265.4,412.6 L264.6,411.9 L263.8,411.3 L263.0,410.6 L262.2,409.9 L261.5,409.2 L260.7,408.5 L260.0,407.8 L259.3,407.0 L258.6,406.3 L257.9,405.5 L257.3,404.7 L256.6,403.8 L256.0,403.0 L255.4,402.1 L254.8,401.2 L254.3,400.3 L253.7,399.4 L253.2,398.5 L252.7,397.5 L252.2,396.6 L251.8,395.6 L251.3,394.6 L250.9,393.6 L250.4,392.5 L250.0,391.5 L249.6,390.4 L249.2,389.3 L248.9,388.1 L248.5,387.0 L248.1,385.8 L247.8,384.6 L247.5,383.3 L247.2,382.0 L246.9,380.7 L246.6,379.4 L246.4,378.0 L246.1,376.6 L245.9,375.2 L245.6,373.9 L245.4,372.5 L245.2,371.2 L245.0,369.8 L244.8,368.5 L244.7,367.2 L244.5,366.0 L244.3,364.8 L244.2,363.6 L244.1,362.4 L243.9,361.3 L243.8,360.2 L243.7,359.0 L243.7,357.9 L243.6,356.8 L243.5,355.7 L243.5,354.6 L243.4,353.5 L243.3,352.4 L243.3,351.3 L243.3,350.2 L243.2,349.1 L243.2,348.0 L243.2,346.9 L243.2,345.7 L243.1,344.6 L243.1,343.4 L243.1,342.2 L243.1,341.1 L243.2,339.9 L243.2,338.8 L243.2,337.6 L243.2,336.5 L243.3,335.3 L243.3,334.2 L243.3,333.1 L243.4,332.1 L243.4,331.0 L243.5,330.0 L243.6,329.0 L243.6,328.1 L243.7,327.1 L243.7,326.2 L243.8,325.4 L243.9,324.5 L243.9,323.7 L244.0,322.8 L244.1,322.0 L244.2,321.1 L244.3,320.3 L244.4,319.5 L244.5,318.6 L244.7,317.8 L244.8,316.9 L245.0,316.0 L245.2,315.1 L245.3,314.2 L245.5,313.2 L245.7,312.3 L245.9,311.3 L246.1,310.4 L246.3,309.4 L246.5,308.5 L246.7,307.5 L247.0,306.5 L247.3,305.6 L247.6,304.7 L247.9,303.7 L248.2,302.8 L248.6,301.9 L249.0,301.0 L249.4,300.1 L249.9,299.3 L250.4,298.4 L251.0,297.5 L251.6,296.7 L252.1,295.9 L252.8,295.0 L253.4,294.2 L254.0,293.4 L254.7,292.6 L255.3,291.8 L256.0,290.9 L256.6,290.1 L257.2,289.3 L257.8,288.5 L258.4,287.7 L259.0,286.9 L259.5,286.1 L260.1,285.3 L260.6,284.5 L261.2,283.8 L261.7,283.0 L262.2,282.2 L262.8,281.5 L263.3,280.7 L263.9,279.9 L264.4,279.1 L265.0,278.3 L265.6,277.5 L266.2,276.7 L266.8,275.9 L267.4,275.0 L268.0,274.1 L268.7,273.2 L269.3,272.3 L269.9,271.3 L270.6,270.4 L271.2,269.4 L271.9,268.4 L272.6,267.5 L273.3,266.5 L274.0,265.5 L274.7,264.5 L275.5,263.6 L276.3,262.7 L277.2,261.7 L278.1,260.9 L279.0,260.0 L280.0,259.2 L281.0,258.3 L282.1,257.5 L283.2,256.7 L284.3,255.9 L285.5,255.1 L286.6,254.3 L287.9,253.6 L289.1,252.8 L290.3,252.1 L291.6,251.4 L292.9,250.6 L294.1,250.0 L295.4,249.3 L296.7,248.6 L298.0,248.0 L299.3,247.4 L300.7,246.8 L302.0,246.2 L303.5,245.6 L304.9,245.0 L306.3,244.4 L307.8,243.8 L309.2,243.3 L310.7,242.8 L312.1,242.3 L313.5,241.8 L314.9,241.4 L316.3,241.0 L317.6,240.6 L318.8,240.3 Z"/>
<path fill="url(#sockD2)" d="M320.0,240.0 L321.1,239.7 L322.2,239.5 L323.2,239.4 L324.2,239.2 L325.2,239.1 L326.1,239.0 L327.0,239.0 L327.9,239.0 L328.8,239.0 L329.7,239.0 L330.5,239.0 L331.4,239.0 L332.3,239.0 L333.2,239.0 L334.1,239.0 L335.0,239.0 L335.9,239.0 L336.8,239.0 L337.7,238.9 L338.6,238.9 L339.5,238.9 L340.4,238.8 L341.3,238.8 L342.2,238.8 L343.1,238.8 L344.0,238.8 L344.9,238.9 L345.9,239.0 L346.9,239.0 L347.9,239.2 L348.9,239.3 L350.0,239.5 L351.1,239.7 L352.3,240.0 L353.5,240.2 L354.7,240.5 L355.9,240.8 L357.2,241.1 L358.5,241.5 L359.8,241.9 L361.1,242.3 L362.4,242.7 L363.7,243.1 L365.0,243.6 L366.3,244.0 L367.6,244.5 L368.8,245.0 L370.0,245.5 L371.2,246.0 L372.4,246.6 L373.6,247.2 L374.8,247.8 L376.0,248.4 L377.2,249.0 L378.3,249.7 L379.5,250.3 L380.6,251.0 L381.8,251.7 L382.9,252.4 L384.0,253.1 L385.0,253.8 L386.1,254.6 L387.0,255.3 L388.0,256.0 L388.9,256.7 L389.8,257.4 L390.7,258.1 L391.5,258.8 L392.3,259.5 L393.1,260.2 L393.9,261.0 L394.6,261.7 L395.3,262.4 L396.1,263.2 L396.7,264.0 L397.4,264.8 L398.1,265.7 L398.7,266.6 L399.4,267.5 L400.0,268.5 L400.6,269.5 L401.2,270.5 L401.8,271.6 L402.4,272.7 L403.0,273.8 L403.5,274.9 L404.0,276.1 L404.6,277.3 L405.1,278.5 L405.5,279.8 L406.0,281.0 L406.4,282.4 L406.9,283.7 L407.3,285.1 L407.6,286.5 L408.0,288.0 L408.3,289.5 L408.6,291.1 L408.9,292.8 L409.2,294.5 L409.4,296.3 L409.6,298.1 L409.8,299.9 L410.0,301.7 L410.1,303.6 L410.3,305.4 L410.4,307.3 L410.5,309.1 L410.7,310.9 L410.8,312.6 L410.9,314.3 L411.0,316.0 L411.1,317.6 L411.2,319.2 L411.3,320.8 L411.4,322.3 L411.4,323.8 L411.5,325.3 L411.6,326.8 L411.6,328.3 L411.6,329.8 L411.6,331.2 L411.6,332.7 L411.6,334.2 L411.6,335.6 L411.6,337.1 L411.6,338.5 L411.5,340.0 L411.4,341.5 L411.4,342.9 L411.3,344.4 L411.2,345.9 L411.1,347.3 L411.0,348.8 L410.9,350.2 L410.7,351.7 L410.6,353.1 L410.4,354.6 L410.2,356.0 L410.0,357.4 L409.8,358.8 L409.5,360.2 L409.3,361.6 L409.0,363.0 L408.7,364.4 L408.4,365.7 L408.0,367.1 L407.7,368.5 L407.3,369.8 L406.9,371.2 L406.5,372.5 L406.1,373.9 L405.7,375.2 L405.2,376.5 L404.7,377.8 L404.2,379.1 L403.7,380.3 L403.1,381.6 L402.6,382.8 L402.0,384.0 L401.4,385.2 L400.8,386.3 L400.1,387.5 L399.5,388.6 L398.8,389.7 L398.1,390.8 L397.4,391.9 L396.7,392.9 L395.9,394.0 L395.2,395.0 L394.4,396.0 L393.5,397.1 L392.7,398.1 L391.8,399.0 L390.9,400.0 L390.0,401.0 L389.0,402.0 L388.1,402.9 L387.1,403.9 L386.0,404.8 L385.0,405.8 L383.9,406.7 L382.8,407.6 L381.6,408.5 L380.5,409.4 L379.3,410.2 L378.1,411.1 L376.9,411.9 L375.7,412.7 L374.5,413.5 L373.2,414.3 L372.0,415.0 L370.7,415.7 L369.5,416.4 L368.2,417.1 L366.9,417.7 L365.5,418.4 L364.2,419.0 L362.8,419.6 L361.4,420.2 L360.0,420.7 L358.6,421.2 L357.2,421.8 L355.8,422.3 L354.4,422.7 L352.9,423.2 L351.5,423.6 L350.0,424.0 L348.5,424.4 L347.0,424.7 L345.5,425.1 L344.0,425.4 L342.4,425.7 L340.8,425.9 L339.3,426.2 L337.7,426.4 L336.1,426.6 L334.5,426.8 L332.9,426.9 L331.3,427.1 L329.7,427.2 L328.1,427.3 L326.6,427.4 L325.0,427.5 L323.4,427.6 L321.8,427.6 L320.2,427.6 L318.5,427.6 L316.9,427.6 L315.2,427.6 L313.6,427.5 L311.9,427.4 L310.3,427.4 L308.7,427.3 L307.1,427.1 L305.6,427.0 L304.1,426.9 L302.7,426.8 L301.3,426.6 L300.0,426.5 L298.8,426.4 L297.6,426.2 L296.4,426.1 L295.4,425.9 L294.3,425.8 L293.3,425.6 L292.4,425.4 L291.4,425.2 L290.5,425.0 L289.6,424.8 L288.7,424.5 L287.8,424.3 L286.9,424.0 L285.9,423.7 L285.0,423.4 L284.0,423.0 L283.0,422.6 L282.0,422.2 L280.9,421.8 L279.9,421.3 L278.9,420.8 L277.8,420.3 L276.8,419.8 L275.8,419.2 L274.7,418.7 L273.7,418.1 L272.7,417.5 L271.7,417.0 L270.8,416.4 L269.8,415.7 L268.9,415.1 L268.0,414.5 L267.1,413.9 L266.3,413.2 L265.4,412.6 L264.6,411.9 L263.8,411.3 L263.0,410.6 L262.2,409.9 L261.5,409.2 L260.7,408.5 L260.0,407.8 L259.3,407.0 L258.6,406.3 L257.9,405.5 L257.3,404.7 L256.6,403.8 L256.0,403.0 L255.4,402.1 L254.8,401.2 L254.3,400.3 L253.7,399.4 L253.2,398.5 L252.7,397.5 L252.2,396.6 L251.8,395.6 L251.3,394.6 L250.9,393.6 L250.4,392.5 L250.0,391.5 L249.6,390.4 L249.2,389.3 L248.9,388.1 L248.5,387.0 L248.1,385.8 L247.8,384.6 L247.5,383.3 L247.2,382.0 L246.9,380.7 L246.6,379.4 L246.4,378.0 L246.1,376.6 L245.9,375.2 L245.6,373.9 L245.4,372.5 L245.2,371.2 L245.0,369.8 L244.8,368.5 L244.7,367.2 L244.5,366.0 L244.3,364.8 L244.2,363.6 L244.1,362.4 L243.9,361.3 L243.8,360.2 L243.7,359.0 L243.7,357.9 L243.6,356.8 L243.5,355.7 L243.5,354.6 L243.4,353.5 L243.3,352.4 L243.3,351.3 L243.3,350.2 L243.2,349.1 L243.2,348.0 L243.2,346.9 L243.2,345.7 L243.1,344.6 L243.1,343.4 L243.1,342.2 L243.1,341.1 L243.2,339.9 L243.2,338.8 L243.2,337.6 L243.2,336.5 L243.3,335.3 L243.3,334.2 L243.3,333.1 L243.4,332.1 L243.4,331.0 L243.5,330.0 L243.6,329.0 L243.6,328.1 L243.7,327.1 L243.7,326.2 L243.8,325.4 L243.9,324.5 L243.9,323.7 L244.0,322.8 L244.1,322.0 L244.2,321.1 L244.3,320.3 L244.4,319.5 L244.5,318.6 L244.7,317.8 L244.8,316.9 L245.0,316.0 L245.2,315.1 L245.3,314.2 L245.5,313.2 L245.7,312.3 L245.9,311.3 L246.1,310.4 L246.3,309.4 L246.5,308.5 L246.7,307.5 L247.0,306.5 L247.3,305.6 L247.6,304.7 L247.9,303.7 L248.2,302.8 L248.6,301.9 L249.0,301.0 L249.4,300.1 L249.9,299.3 L250.4,298.4 L251.0,297.5 L251.6,296.7 L252.1,295.9 L252.8,295.0 L253.4,294.2 L254.0,293.4 L254.7,292.6 L255.3,291.8 L256.0,290.9 L256.6,290.1 L257.2,289.3 L257.8,288.5 L258.4,287.7 L259.0,286.9 L259.5,286.1 L260.1,285.3 L260.6,284.5 L261.2,283.8 L261.7,283.0 L262.2,282.2 L262.8,281.5 L263.3,280.7 L263.9,279.9 L264.4,279.1 L265.0,278.3 L265.6,277.5 L266.2,276.7 L266.8,275.9 L267.4,275.0 L268.0,274.1 L268.7,273.2 L269.3,272.3 L269.9,271.3 L270.6,270.4 L271.2,269.4 L271.9,268.4 L272.6,267.5 L273.3,266.5 L274.0,265.5 L274.7,264.5 L275.5,263.6 L276.3,262.7 L277.2,261.7 L278.1,260.9 L279.0,260.0 L280.0,259.2 L281.0,258.3 L282.1,257.5 L283.2,256.7 L284.3,255.9 L285.5,255.1 L286.6,254.3 L287.9,253.6 L289.1,252.8 L290.3,252.1 L291.6,251.4 L292.9,250.6 L294.1,250.0 L295.4,249.3 L296.7,248.6 L298.0,248.0 L299.3,247.4 L300.7,246.8 L302.0,246.2 L303.5,245.6 L304.9,245.0 L306.3,244.4 L307.8,243.8 L309.2,243.3 L310.7,242.8 L312.1,242.3 L313.5,241.8 L314.9,241.4 L316.3,241.0 L317.6,240.6 L318.8,240.3 Z"/>
<path fill="url(#floorD)" d="M262.0,408.0 L262.2,407.2 L262.7,406.4 L263.6,405.5 L264.7,404.7 L266.1,403.9 L267.6,403.1 L269.3,402.3 L271.0,401.5 L272.8,400.6 L274.6,399.8 L276.4,398.9 L278.0,398.0 L279.6,397.1 L281.2,396.0 L282.9,395.0 L284.6,393.9 L286.3,392.8 L288.1,391.8 L290.0,390.7 L291.9,389.6 L293.8,388.6 L295.8,387.7 L297.9,386.8 L300.0,386.0 L302.2,385.3 L304.5,384.6 L306.9,383.9 L309.4,383.3 L311.9,382.7 L314.5,382.1 L317.1,381.6 L319.7,381.2 L322.3,380.8 L324.9,380.5 L327.5,380.2 L330.0,380.0 L332.5,379.9 L335.1,379.8 L337.6,379.8 L340.2,379.9 L342.8,380.1 L345.3,380.2 L347.9,380.5 L350.4,380.7 L352.9,381.0 L355.3,381.3 L357.7,381.7 L360.0,382.0 L362.3,382.4 L364.5,382.9 L366.8,383.4 L369.0,384.0 L371.2,384.6 L373.3,385.2 L375.4,385.9 L377.4,386.4 L379.4,387.0 L381.4,387.4 L383.2,387.8 L385.0,388.0 L386.8,388.1 L388.6,387.9 L390.4,387.7 L392.1,387.3 L393.8,386.9 L395.4,386.5 L397.0,386.1 L398.3,385.8 L399.6,385.6 L400.6,385.5 L401.4,385.6 L402.0,386.0 L402.3,386.6 L402.4,387.4 L402.4,388.4 L402.1,389.6 L401.6,390.8 L401.1,392.1 L400.4,393.5 L399.6,394.9 L398.7,396.3 L397.8,397.6 L396.9,398.9 L396.0,400.0 L395.0,401.1 L394.0,402.1 L392.9,403.2 L391.7,404.2 L390.5,405.2 L389.2,406.2 L387.8,407.2 L386.4,408.2 L384.9,409.2 L383.3,410.1 L381.7,411.1 L380.0,412.0 L378.2,412.9 L376.4,413.9 L374.5,414.8 L372.5,415.7 L370.5,416.6 L368.4,417.5 L366.2,418.4 L364.0,419.2 L361.8,420.0 L359.6,420.7 L357.3,421.4 L355.0,422.0 L352.7,422.5 L350.3,423.0 L347.8,423.4 L345.3,423.8 L342.7,424.2 L340.1,424.5 L337.5,424.7 L335.0,424.9 L332.4,425.1 L329.9,425.3 L327.4,425.4 L325.0,425.5 L322.6,425.6 L320.2,425.6 L317.9,425.6 L315.5,425.5 L313.2,425.5 L310.9,425.3 L308.6,425.2 L306.4,425.0 L304.2,424.8 L302.1,424.6 L300.0,424.3 L298.0,424.0 L296.1,423.7 L294.2,423.3 L292.4,422.9 L290.7,422.5 L289.0,422.0 L287.3,421.5 L285.7,421.0 L284.1,420.5 L282.6,419.9 L281.0,419.3 L279.5,418.7 L278.0,418.0 L276.4,417.3 L274.7,416.6 L273.0,415.8 L271.2,415.0 L269.4,414.1 L267.8,413.2 L266.2,412.4 L264.8,411.5 L263.7,410.6 L262.8,409.7 L262.2,408.8 Z"/>
<path fill="#c3c6df" stroke="#4d7b8c" stroke-width="0.9" d="M233.6,348.2 L233.5,347.1 L233.5,345.9 L233.4,344.6 L233.4,343.4 L233.4,342.2 L233.3,341.0 L233.3,339.8 L233.3,338.6 L233.3,337.4 L233.3,336.2 L233.3,335.0 L233.3,333.8 L233.3,332.7 L233.3,331.6 L233.3,330.5 L233.3,329.4 L233.4,328.4 L233.4,327.4 L233.4,326.5 L233.4,325.5 L233.5,324.6 L233.5,323.6 L233.6,322.7 L233.6,321.8 L233.7,320.8 L233.8,319.9 L233.8,318.9 L233.9,318.0 L234.0,317.0 L234.2,316.0 L234.3,315.0 L234.4,314.0 L234.6,313.1 L234.7,312.2 L234.9,311.2 L235.0,310.2 L235.2,309.2 L235.4,308.1 L235.6,307.0 L235.8,305.9 L236.0,304.8 L236.3,303.6 L236.6,302.4 L237.0,301.2 L237.4,300.0 L237.8,298.7 L238.3,297.5 L238.9,296.2 L239.5,294.9 L240.2,293.6 L240.8,292.4 L241.5,291.3 L242.2,290.2 L243.0,289.2 L243.7,288.2 L244.3,287.3 L245.0,286.3 L245.7,285.5 L246.3,284.6 L246.9,283.8 L247.5,283.1 L248.0,282.3 L248.5,281.7 L249.0,281.0 L249.5,280.2 L250.0,279.4 L250.5,278.6 L251.0,277.8 L251.5,277.1 L252.0,276.3 L252.6,275.5 L253.1,274.7 L253.6,273.9 L254.2,273.1 L254.7,272.2 L255.3,271.4 L255.9,270.5 L256.5,269.7 L257.1,268.8 L257.7,267.9 L258.3,267.1 L258.8,266.4 L259.3,265.5 L259.9,264.6 L260.5,263.6 L261.2,262.6 L261.9,261.5 L262.6,260.4 L263.4,259.3 L264.2,258.1 L265.1,256.9 L266.1,255.7 L267.2,254.4 L268.3,253.2 L269.5,251.9 L270.8,250.7 L272.0,249.6 L273.3,248.6 L274.5,247.6 L275.8,246.6 L277.1,245.6 L278.5,244.7 L279.8,243.7 L281.2,242.9 L282.6,242.0 L284.0,241.1 L285.4,240.3 L286.8,239.5 L288.2,238.7 L289.6,238.0 L291.0,237.2 L292.3,236.5 L294.3,236.0 L296.3,236.3 L298.1,237.3 L299.3,238.9 L299.8,240.8 L299.6,242.9 L298.5,244.6 L296.9,245.8 L295.6,246.5 L294.3,247.2 L293.0,247.8 L291.7,248.5 L290.4,249.3 L289.1,250.0 L287.8,250.8 L286.6,251.5 L285.3,252.3 L284.1,253.1 L282.9,253.9 L281.8,254.8 L280.6,255.6 L279.5,256.4 L278.4,257.3 L277.4,258.2 L276.4,259.1 L275.5,260.1 L274.5,261.1 L273.7,262.0 L272.9,263.0 L272.1,264.1 L271.3,265.1 L270.6,266.1 L269.9,267.1 L269.2,268.1 L268.6,269.0 L267.9,270.0 L267.3,270.9 L266.7,271.8 L266.1,272.7 L265.5,273.6 L264.8,274.4 L264.2,275.3 L263.6,276.1 L263.0,276.9 L262.5,277.7 L261.9,278.5 L261.3,279.3 L260.8,280.1 L260.3,280.9 L259.7,281.6 L259.2,282.4 L258.6,283.2 L258.1,283.9 L257.6,284.7 L257.0,285.5 L256.4,286.3 L255.9,287.1 L255.3,287.9 L254.7,288.7 L254.1,289.5 L253.4,290.3 L252.8,291.1 L252.1,291.9 L251.5,292.7 L250.8,293.6 L250.2,294.5 L249.6,295.3 L249.0,296.2 L248.4,297.1 L247.8,298.1 L247.3,299.0 L246.8,300.0 L246.4,300.9 L246.0,301.9 L245.6,302.9 L245.3,303.9 L245.0,304.9 L244.7,305.9 L244.4,306.9 L244.2,307.9 L243.9,308.9 L243.7,309.9 L243.5,310.9 L243.3,311.8 L243.2,312.8 L243.0,313.7 L242.8,314.6 L242.6,315.6 L242.5,316.5 L242.3,317.4 L242.2,318.3 L242.0,319.1 L241.9,320.0 L241.8,320.9 L241.7,321.7 L241.6,322.6 L241.5,323.4 L241.5,324.3 L241.4,325.2 L241.3,326.1 L241.3,327.0 L241.2,327.9 L241.2,328.9 L241.1,329.9 L241.0,330.9 L241.0,331.9 L240.9,333.0 L240.9,334.1 L240.9,335.3 L240.8,336.4 L240.8,337.5 L240.8,338.7 L240.8,339.9 L240.7,341.1 L240.7,342.2 L240.7,343.4 L240.7,344.6 L240.8,345.8 L240.8,346.9 L240.8,348.1 L240.6,349.4 L239.8,350.6 L238.7,351.4 L237.3,351.7 L235.9,351.5 L234.7,350.8 L233.9,349.6 Z"/>
<path fill="#c3c6df" stroke="#4d7b8c" stroke-width="0.9" d="M297.1,234.5 L298.6,233.9 L300.2,233.3 L301.8,232.6 L303.4,232.0 L305.0,231.5 L306.6,230.9 L308.1,230.4 L309.7,229.9 L311.2,229.4 L312.7,228.9 L314.2,228.5 L315.6,228.1 L317.1,227.7 L318.5,227.4 L320.0,227.1 L321.4,226.9 L322.7,226.7 L324.0,226.6 L325.3,226.5 L326.5,226.4 L327.6,226.4 L328.7,226.4 L329.8,226.4 L330.7,226.4 L331.6,226.4 L332.5,226.4 L333.3,226.4 L334.0,226.4 L334.8,226.4 L335.6,226.4 L336.4,226.4 L337.3,226.3 L338.2,226.3 L339.1,226.3 L340.1,226.2 L341.1,226.2 L342.2,226.2 L343.3,226.2 L344.5,226.3 L345.7,226.3 L346.9,226.4 L348.2,226.5 L349.5,226.7 L350.9,226.9 L352.3,227.1 L353.6,227.4 L354.9,227.6 L356.3,227.9 L357.6,228.3 L359.0,228.6 L360.5,229.0 L361.9,229.4 L363.4,229.8 L364.8,230.2 L366.3,230.7 L367.8,231.2 L369.2,231.7 L370.7,232.2 L372.1,232.8 L373.6,233.3 L375.0,233.9 L376.4,234.6 L377.8,235.2 L379.1,235.9 L380.5,236.5 L381.9,237.2 L383.2,238.0 L384.5,238.7 L385.9,239.5 L387.2,240.2 L388.4,241.0 L389.7,241.8 L390.9,242.6 L392.2,243.5 L393.4,244.3 L394.5,245.1 L395.6,246.0 L396.7,246.8 L397.7,247.6 L398.7,248.4 L399.7,249.2 L400.7,250.1 L401.6,251.0 L402.6,251.9 L403.6,252.8 L404.5,253.8 L405.5,254.8 L406.4,255.9 L407.3,257.0 L408.2,258.1 L409.0,259.3 L409.9,260.6 L410.7,261.8 L411.4,263.0 L412.2,264.3 L412.9,265.5 L413.6,266.8 L414.2,268.2 L414.9,269.6 L415.5,270.8 L416.0,272.8 L415.6,274.7 L414.6,276.4 L413.0,277.6 L411.1,278.1 L409.1,277.7 L407.4,276.7 L406.2,275.1 L405.7,273.9 L405.1,272.7 L404.5,271.6 L403.9,270.4 L403.3,269.3 L402.7,268.3 L402.0,267.2 L401.4,266.2 L400.7,265.2 L400.0,264.3 L399.3,263.3 L398.6,262.5 L397.8,261.6 L397.1,260.8 L396.3,260.0 L395.5,259.2 L394.7,258.5 L393.9,257.7 L393.1,257.0 L392.2,256.3 L391.3,255.5 L390.4,254.8 L389.5,254.1 L388.5,253.3 L387.4,252.6 L386.4,251.9 L385.3,251.1 L384.2,250.4 L383.0,249.7 L381.9,249.0 L380.7,248.3 L379.5,247.6 L378.3,246.9 L377.1,246.3 L375.9,245.6 L374.6,245.0 L373.4,244.4 L372.2,243.8 L371.0,243.3 L369.7,242.8 L368.4,242.3 L367.1,241.8 L365.8,241.3 L364.5,240.8 L363.2,240.4 L361.8,240.0 L360.5,239.6 L359.2,239.2 L357.8,238.8 L356.5,238.5 L355.3,238.2 L354.0,237.9 L352.8,237.6 L351.6,237.4 L350.4,237.1 L349.3,236.9 L348.2,236.8 L347.1,236.7 L346.1,236.6 L345.1,236.5 L344.1,236.4 L343.1,236.4 L342.2,236.4 L341.3,236.4 L340.3,236.4 L339.4,236.5 L338.5,236.5 L337.7,236.5 L336.8,236.6 L335.9,236.6 L335.0,236.6 L334.1,236.6 L333.2,236.6 L332.3,236.6 L331.5,236.6 L330.6,236.6 L329.7,236.6 L328.8,236.6 L327.9,236.6 L326.9,236.6 L326.0,236.7 L325.0,236.7 L324.0,236.8 L322.9,237.0 L321.8,237.2 L320.6,237.4 L319.4,237.7 L318.2,238.0 L316.9,238.3 L315.6,238.7 L314.2,239.1 L312.8,239.6 L311.4,240.0 L309.9,240.5 L308.4,241.1 L307.0,241.6 L305.5,242.2 L304.0,242.7 L302.5,243.3 L301.1,243.9 L299.2,244.3 L297.2,244.0 L295.5,242.9 L294.4,241.2 L294.0,239.3 L294.4,237.3 L295.5,235.7 Z"/>
<path fill="none" stroke="#cf4c5a" stroke-width="5.6" d="M320.0,240.0 L321.1,239.7 L322.2,239.5 L323.2,239.4 L324.2,239.2 L325.2,239.1 L326.1,239.0 L327.0,239.0 L327.9,239.0 L328.8,239.0 L329.7,239.0 L330.5,239.0 L331.4,239.0 L332.3,239.0 L333.2,239.0 L334.1,239.0 L335.0,239.0 L335.9,239.0 L336.8,239.0 L337.7,238.9 L338.6,238.9 L339.5,238.9 L340.4,238.8 L341.3,238.8 L342.2,238.8 L343.1,238.8 L344.0,238.8 L344.9,238.9 L345.9,239.0 L346.9,239.0 L347.9,239.2 L348.9,239.3 L350.0,239.5 L351.1,239.7 L352.3,240.0 L353.5,240.2 L354.7,240.5 L355.9,240.8 L357.2,241.1 L358.5,241.5 L359.8,241.9 L361.1,242.3 L362.4,242.7 L363.7,243.1 L365.0,243.6 L366.3,244.0 L367.6,244.5 L368.8,245.0 L370.0,245.5 L371.2,246.0 L372.4,246.6 L373.6,247.2 L374.8,247.8 L376.0,248.4 L377.2,249.0 L378.3,249.7 L379.5,250.3 L380.6,251.0 L381.8,251.7 L382.9,252.4 L384.0,253.1 L385.0,253.8 L386.1,254.6 L387.0,255.3 L388.0,256.0 L388.9,256.7 L389.8,257.4 L390.7,258.1 L391.5,258.8 L392.3,259.5 L393.1,260.2 L393.9,261.0 L394.6,261.7 L395.3,262.4 L396.1,263.2 L396.7,264.0 L397.4,264.8 L398.1,265.7 L398.7,266.6 L399.4,267.5 L400.0,268.5 L400.6,269.5 L401.2,270.5 L401.8,271.6 L402.4,272.7 L403.0,273.8 L403.5,274.9 L404.0,276.1 L404.6,277.3 L405.1,278.5 L405.5,279.8 L406.0,281.0 L406.4,282.4 L406.9,283.7 L407.3,285.1 L407.6,286.5 L408.0,288.0 L408.3,289.5 L408.6,291.1 L408.9,292.8 L409.2,294.5 L409.4,296.3 L409.6,298.1 L409.8,299.9 L410.0,301.7 L410.1,303.6 L410.3,305.4 L410.4,307.3 L410.5,309.1 L410.7,310.9 L410.8,312.6 L410.9,314.3 L411.0,316.0 L411.1,317.6 L411.2,319.2 L411.3,320.8 L411.4,322.3 L411.4,323.8 L411.5,325.3 L411.6,326.8 L411.6,328.3 L411.6,329.8 L411.6,331.2 L411.6,332.7 L411.6,334.2 L411.6,335.6 L411.6,337.1 L411.6,338.5 L411.5,340.0 L411.4,341.5 L411.4,342.9 L411.3,344.4 L411.2,345.9 L411.1,347.3 L411.0,348.8 L410.9,350.2 L410.7,351.7 L410.6,353.1 L410.4,354.6 L410.2,356.0 L410.0,357.4 L409.8,358.8 L409.5,360.2 L409.3,361.6 L409.0,363.0 L408.7,364.4 L408.4,365.7 L408.0,367.1 L407.7,368.5 L407.3,369.8 L406.9,371.2 L406.5,372.5 L406.1,373.9 L405.7,375.2 L405.2,376.5 L404.7,377.8 L404.2,379.1 L403.7,380.3 L403.1,381.6 L402.6,382.8 L402.0,384.0 L401.4,385.2 L400.8,386.3 L400.1,387.5 L399.5,388.6 L398.8,389.7 L398.1,390.8 L397.4,391.9 L396.7,392.9 L395.9,394.0 L395.2,395.0 L394.4,396.0 L393.5,397.1 L392.7,398.1 L391.8,399.0 L390.9,400.0 L390.0,401.0 L389.0,402.0 L388.1,402.9 L387.1,403.9 L386.0,404.8 L385.0,405.8 L383.9,406.7 L382.8,407.6 L381.6,408.5 L380.5,409.4 L379.3,410.2 L378.1,411.1 L376.9,411.9 L375.7,412.7 L374.5,413.5 L373.2,414.3 L372.0,415.0 L370.7,415.7 L369.5,416.4 L368.2,417.1 L366.9,417.7 L365.5,418.4 L364.2,419.0 L362.8,419.6 L361.4,420.2 L360.0,420.7 L358.6,421.2 L357.2,421.8 L355.8,422.3 L354.4,422.7 L352.9,423.2 L351.5,423.6 L350.0,424.0 L348.5,424.4 L347.0,424.7 L345.5,425.1 L344.0,425.4 L342.4,425.7 L340.8,425.9 L339.3,426.2 L337.7,426.4 L336.1,426.6 L334.5,426.8 L332.9,426.9 L331.3,427.1 L329.7,427.2 L328.1,427.3 L326.6,427.4 L325.0,427.5 L323.4,427.6 L321.8,427.6 L320.2,427.6 L318.5,427.6 L316.9,427.6 L315.2,427.6 L313.6,427.5 L311.9,427.4 L310.3,427.4 L308.7,427.3 L307.1,427.1 L305.6,427.0 L304.1,426.9 L302.7,426.8 L301.3,426.6 L300.0,426.5 L298.8,426.4 L297.6,426.2 L296.4,426.1 L295.4,425.9 L294.3,425.8 L293.3,425.6 L292.4,425.4 L291.4,425.2 L290.5,425.0 L289.6,424.8 L288.7,424.5 L287.8,424.3 L286.9,424.0 L285.9,423.7 L285.0,423.4 L284.0,423.0 L283.0,422.6 L282.0,422.2 L280.9,421.8 L279.9,421.3 L278.9,420.8 L277.8,420.3 L276.8,419.8 L275.8,419.2 L274.7,418.7 L273.7,418.1 L272.7,417.5 L271.7,417.0 L270.8,416.4 L269.8,415.7 L268.9,415.1 L268.0,414.5 L267.1,413.9 L266.3,413.2 L265.4,412.6 L264.6,411.9 L263.8,411.3 L263.0,410.6 L262.2,409.9 L261.5,409.2 L260.7,408.5 L260.0,407.8 L259.3,407.0 L258.6,406.3 L257.9,405.5 L257.3,404.7 L256.6,403.8 L256.0,403.0 L255.4,402.1 L254.8,401.2 L254.3,400.3 L253.7,399.4 L253.2,398.5 L252.7,397.5 L252.2,396.6 L251.8,395.6 L251.3,394.6 L250.9,393.6 L250.4,392.5 L250.0,391.5 L249.6,390.4 L249.2,389.3 L248.9,388.1 L248.5,387.0 L248.1,385.8 L247.8,384.6 L247.5,383.3 L247.2,382.0 L246.9,380.7 L246.6,379.4 L246.4,378.0 L246.1,376.6 L245.9,375.2 L245.6,373.9 L245.4,372.5 L245.2,371.2 L245.0,369.8 L244.8,368.5 L244.7,367.2 L244.5,366.0 L244.3,364.8 L244.2,363.6 L244.1,362.4 L243.9,361.3 L243.8,360.2 L243.7,359.0 L243.7,357.9 L243.6,356.8 L243.5,355.7 L243.5,354.6 L243.4,353.5 L243.3,352.4 L243.3,351.3 L243.3,350.2 L243.2,349.1 L243.2,348.0 L243.2,346.9 L243.2,345.7 L243.1,344.6 L243.1,343.4 L243.1,342.2 L243.1,341.1 L243.2,339.9 L243.2,338.8 L243.2,337.6 L243.2,336.5 L243.3,335.3 L243.3,334.2 L243.3,333.1 L243.4,332.1 L243.4,331.0 L243.5,330.0 L243.6,329.0 L243.6,328.1 L243.7,327.1 L243.7,326.2 L243.8,325.4 L243.9,324.5 L243.9,323.7 L244.0,322.8 L244.1,322.0 L244.2,321.1 L244.3,320.3 L244.4,319.5 L244.5,318.6 L244.7,317.8 L244.8,316.9 L245.0,316.0 L245.2,315.1 L245.3,314.2 L245.5,313.2 L245.7,312.3 L245.9,311.3 L246.1,310.4 L246.3,309.4 L246.5,308.5 L246.7,307.5 L247.0,306.5 L247.3,305.6 L247.6,304.7 L247.9,303.7 L248.2,302.8 L248.6,301.9 L249.0,301.0 L249.4,300.1 L249.9,299.3 L250.4,298.4 L251.0,297.5 L251.6,296.7 L252.1,295.9 L252.8,295.0 L253.4,294.2 L254.0,293.4 L254.7,292.6 L255.3,291.8 L256.0,290.9 L256.6,290.1 L257.2,289.3 L257.8,288.5 L258.4,287.7 L259.0,286.9 L259.5,286.1 L260.1,285.3 L260.6,284.5 L261.2,283.8 L261.7,283.0 L262.2,282.2 L262.8,281.5 L263.3,280.7 L263.9,279.9 L264.4,279.1 L265.0,278.3 L265.6,277.5 L266.2,276.7 L266.8,275.9 L267.4,275.0 L268.0,274.1 L268.7,273.2 L269.3,272.3 L269.9,271.3 L270.6,270.4 L271.2,269.4 L271.9,268.4 L272.6,267.5 L273.3,266.5 L274.0,265.5 L274.7,264.5 L275.5,263.6 L276.3,262.7 L277.2,261.7 L278.1,260.9 L279.0,260.0 L280.0,259.2 L281.0,258.3 L282.1,257.5 L283.2,256.7 L284.3,255.9 L285.5,255.1 L286.6,254.3 L287.9,253.6 L289.1,252.8 L290.3,252.1 L291.6,251.4 L292.9,250.6 L294.1,250.0 L295.4,249.3 L296.7,248.6 L298.0,248.0 L299.3,247.4 L300.7,246.8 L302.0,246.2 L303.5,245.6 L304.9,245.0 L306.3,244.4 L307.8,243.8 L309.2,243.3 L310.7,242.8 L312.1,242.3 L313.5,241.8 L314.9,241.4 L316.3,241.0 L317.6,240.6 L318.8,240.3 Z"/>
<path fill="none" stroke="#ee7a82" stroke-width="4.4" d="M320.0,240.0 L321.1,239.7 L322.2,239.5 L323.2,239.4 L324.2,239.2 L325.2,239.1 L326.1,239.0 L327.0,239.0 L327.9,239.0 L328.8,239.0 L329.7,239.0 L330.5,239.0 L331.4,239.0 L332.3,239.0 L333.2,239.0 L334.1,239.0 L335.0,239.0 L335.9,239.0 L336.8,239.0 L337.7,238.9 L338.6,238.9 L339.5,238.9 L340.4,238.8 L341.3,238.8 L342.2,238.8 L343.1,238.8 L344.0,238.8 L344.9,238.9 L345.9,239.0 L346.9,239.0 L347.9,239.2 L348.9,239.3 L350.0,239.5 L351.1,239.7 L352.3,240.0 L353.5,240.2 L354.7,240.5 L355.9,240.8 L357.2,241.1 L358.5,241.5 L359.8,241.9 L361.1,242.3 L362.4,242.7 L363.7,243.1 L365.0,243.6 L366.3,244.0 L367.6,244.5 L368.8,245.0 L370.0,245.5 L371.2,246.0 L372.4,246.6 L373.6,247.2 L374.8,247.8 L376.0,248.4 L377.2,249.0 L378.3,249.7 L379.5,250.3 L380.6,251.0 L381.8,251.7 L382.9,252.4 L384.0,253.1 L385.0,253.8 L386.1,254.6 L387.0,255.3 L388.0,256.0 L388.9,256.7 L389.8,257.4 L390.7,258.1 L391.5,258.8 L392.3,259.5 L393.1,260.2 L393.9,261.0 L394.6,261.7 L395.3,262.4 L396.1,263.2 L396.7,264.0 L397.4,264.8 L398.1,265.7 L398.7,266.6 L399.4,267.5 L400.0,268.5 L400.6,269.5 L401.2,270.5 L401.8,271.6 L402.4,272.7 L403.0,273.8 L403.5,274.9 L404.0,276.1 L404.6,277.3 L405.1,278.5 L405.5,279.8 L406.0,281.0 L406.4,282.4 L406.9,283.7 L407.3,285.1 L407.6,286.5 L408.0,288.0 L408.3,289.5 L408.6,291.1 L408.9,292.8 L409.2,294.5 L409.4,296.3 L409.6,298.1 L409.8,299.9 L410.0,301.7 L410.1,303.6 L410.3,305.4 L410.4,307.3 L410.5,309.1 L410.7,310.9 L410.8,312.6 L410.9,314.3 L411.0,316.0 L411.1,317.6 L411.2,319.2 L411.3,320.8 L411.4,322.3 L411.4,323.8 L411.5,325.3 L411.6,326.8 L411.6,328.3 L411.6,329.8 L411.6,331.2 L411.6,332.7 L411.6,334.2 L411.6,335.6 L411.6,337.1 L411.6,338.5 L411.5,340.0 L411.4,341.5 L411.4,342.9 L411.3,344.4 L411.2,345.9 L411.1,347.3 L411.0,348.8 L410.9,350.2 L410.7,351.7 L410.6,353.1 L410.4,354.6 L410.2,356.0 L410.0,357.4 L409.8,358.8 L409.5,360.2 L409.3,361.6 L409.0,363.0 L408.7,364.4 L408.4,365.7 L408.0,367.1 L407.7,368.5 L407.3,369.8 L406.9,371.2 L406.5,372.5 L406.1,373.9 L405.7,375.2 L405.2,376.5 L404.7,377.8 L404.2,379.1 L403.7,380.3 L403.1,381.6 L402.6,382.8 L402.0,384.0 L401.4,385.2 L400.8,386.3 L400.1,387.5 L399.5,388.6 L398.8,389.7 L398.1,390.8 L397.4,391.9 L396.7,392.9 L395.9,394.0 L395.2,395.0 L394.4,396.0 L393.5,397.1 L392.7,398.1 L391.8,399.0 L390.9,400.0 L390.0,401.0 L389.0,402.0 L388.1,402.9 L387.1,403.9 L386.0,404.8 L385.0,405.8 L383.9,406.7 L382.8,407.6 L381.6,408.5 L380.5,409.4 L379.3,410.2 L378.1,411.1 L376.9,411.9 L375.7,412.7 L374.5,413.5 L373.2,414.3 L372.0,415.0 L370.7,415.7 L369.5,416.4 L368.2,417.1 L366.9,417.7 L365.5,418.4 L364.2,419.0 L362.8,419.6 L361.4,420.2 L360.0,420.7 L358.6,421.2 L357.2,421.8 L355.8,422.3 L354.4,422.7 L352.9,423.2 L351.5,423.6 L350.0,424.0 L348.5,424.4 L347.0,424.7 L345.5,425.1 L344.0,425.4 L342.4,425.7 L340.8,425.9 L339.3,426.2 L337.7,426.4 L336.1,426.6 L334.5,426.8 L332.9,426.9 L331.3,427.1 L329.7,427.2 L328.1,427.3 L326.6,427.4 L325.0,427.5 L323.4,427.6 L321.8,427.6 L320.2,427.6 L318.5,427.6 L316.9,427.6 L315.2,427.6 L313.6,427.5 L311.9,427.4 L310.3,427.4 L308.7,427.3 L307.1,427.1 L305.6,427.0 L304.1,426.9 L302.7,426.8 L301.3,426.6 L300.0,426.5 L298.8,426.4 L297.6,426.2 L296.4,426.1 L295.4,425.9 L294.3,425.8 L293.3,425.6 L292.4,425.4 L291.4,425.2 L290.5,425.0 L289.6,424.8 L288.7,424.5 L287.8,424.3 L286.9,424.0 L285.9,423.7 L285.0,423.4 L284.0,423.0 L283.0,422.6 L282.0,422.2 L280.9,421.8 L279.9,421.3 L278.9,420.8 L277.8,420.3 L276.8,419.8 L275.8,419.2 L274.7,418.7 L273.7,418.1 L272.7,417.5 L271.7,417.0 L270.8,416.4 L269.8,415.7 L268.9,415.1 L268.0,414.5 L267.1,413.9 L266.3,413.2 L265.4,412.6 L264.6,411.9 L263.8,411.3 L263.0,410.6 L262.2,409.9 L261.5,409.2 L260.7,408.5 L260.0,407.8 L259.3,407.0 L258.6,406.3 L257.9,405.5 L257.3,404.7 L256.6,403.8 L256.0,403.0 L255.4,402.1 L254.8,401.2 L254.3,400.3 L253.7,399.4 L253.2,398.5 L252.7,397.5 L252.2,396.6 L251.8,395.6 L251.3,394.6 L250.9,393.6 L250.4,392.5 L250.0,391.5 L249.6,390.4 L249.2,389.3 L248.9,388.1 L248.5,387.0 L248.1,385.8 L247.8,384.6 L247.5,383.3 L247.2,382.0 L246.9,380.7 L246.6,379.4 L246.4,378.0 L246.1,376.6 L245.9,375.2 L245.6,373.9 L245.4,372.5 L245.2,371.2 L245.0,369.8 L244.8,368.5 L244.7,367.2 L244.5,366.0 L244.3,364.8 L244.2,363.6 L244.1,362.4 L243.9,361.3 L243.8,360.2 L243.7,359.0 L243.7,357.9 L243.6,356.8 L243.5,355.7 L243.5,354.6 L243.4,353.5 L243.3,352.4 L243.3,351.3 L243.3,350.2 L243.2,349.1 L243.2,348.0 L243.2,346.9 L243.2,345.7 L243.1,344.6 L243.1,343.4 L243.1,342.2 L243.1,341.1 L243.2,339.9 L243.2,338.8 L243.2,337.6 L243.2,336.5 L243.3,335.3 L243.3,334.2 L243.3,333.1 L243.4,332.1 L243.4,331.0 L243.5,330.0 L243.6,329.0 L243.6,328.1 L243.7,327.1 L243.7,326.2 L243.8,325.4 L243.9,324.5 L243.9,323.7 L244.0,322.8 L244.1,322.0 L244.2,321.1 L244.3,320.3 L244.4,319.5 L244.5,318.6 L244.7,317.8 L244.8,316.9 L245.0,316.0 L245.2,315.1 L245.3,314.2 L245.5,313.2 L245.7,312.3 L245.9,311.3 L246.1,310.4 L246.3,309.4 L246.5,308.5 L246.7,307.5 L247.0,306.5 L247.3,305.6 L247.6,304.7 L247.9,303.7 L248.2,302.8 L248.6,301.9 L249.0,301.0 L249.4,300.1 L249.9,299.3 L250.4,298.4 L251.0,297.5 L251.6,296.7 L252.1,295.9 L252.8,295.0 L253.4,294.2 L254.0,293.4 L254.7,292.6 L255.3,291.8 L256.0,290.9 L256.6,290.1 L257.2,289.3 L257.8,288.5 L258.4,287.7 L259.0,286.9 L259.5,286.1 L260.1,285.3 L260.6,284.5 L261.2,283.8 L261.7,283.0 L262.2,282.2 L262.8,281.5 L263.3,280.7 L263.9,279.9 L264.4,279.1 L265.0,278.3 L265.6,277.5 L266.2,276.7 L266.8,275.9 L267.4,275.0 L268.0,274.1 L268.7,273.2 L269.3,272.3 L269.9,271.3 L270.6,270.4 L271.2,269.4 L271.9,268.4 L272.6,267.5 L273.3,266.5 L274.0,265.5 L274.7,264.5 L275.5,263.6 L276.3,262.7 L277.2,261.7 L278.1,260.9 L279.0,260.0 L280.0,259.2 L281.0,258.3 L282.1,257.5 L283.2,256.7 L284.3,255.9 L285.5,255.1 L286.6,254.3 L287.9,253.6 L289.1,252.8 L290.3,252.1 L291.6,251.4 L292.9,250.6 L294.1,250.0 L295.4,249.3 L296.7,248.6 L298.0,248.0 L299.3,247.4 L300.7,246.8 L302.0,246.2 L303.5,245.6 L304.9,245.0 L306.3,244.4 L307.8,243.8 L309.2,243.3 L310.7,242.8 L312.1,242.3 L313.5,241.8 L314.9,241.4 L316.3,241.0 L317.6,240.6 L318.8,240.3 Z"/>
<path fill="none" stroke="#f6a4a8" stroke-width="0.9" d="M320.3,241.2 L321.4,240.9 L322.4,240.7 L323.4,240.5 L324.4,240.4 L325.3,240.3 L326.2,240.2 L327.1,240.2 L328.0,240.2 L328.8,240.2 L329.7,240.2 L330.5,240.2 L331.4,240.2 L332.3,240.2 L333.2,240.2 L334.1,240.2 L335.0,240.2 L336.0,240.2 L336.9,240.2 L337.8,240.1 L338.7,240.1 L339.6,240.1 L340.4,240.0 L341.3,240.0 L342.2,240.0 L343.1,240.0 L344.0,240.0 L344.9,240.1 L345.8,240.1 L346.8,240.2 L347.7,240.4 L348.7,240.5 L349.8,240.7 L350.9,240.9 L352.0,241.1 L353.2,241.4 L354.4,241.7 L355.7,242.0 L356.9,242.3 L358.2,242.7 L359.5,243.0 L360.8,243.4 L362.1,243.8 L363.3,244.2 L364.6,244.7 L365.9,245.1 L367.1,245.6 L368.3,246.1 L369.5,246.6 L370.7,247.1 L371.9,247.7 L373.1,248.2 L374.2,248.8 L375.4,249.4 L376.6,250.1 L377.7,250.7 L378.9,251.4 L380.0,252.1 L381.1,252.7 L382.2,253.4 L383.3,254.1 L384.3,254.8 L385.4,255.5 L386.3,256.2 L387.3,257.0 L388.2,257.7 L389.1,258.4 L389.9,259.0 L390.7,259.7 L391.5,260.4 L392.3,261.1 L393.0,261.8 L393.8,262.5 L394.5,263.3 L395.2,264.0 L395.8,264.8 L396.5,265.6 L397.1,266.4 L397.8,267.3 L398.4,268.2 L399.0,269.1 L399.6,270.1 L400.2,271.1 L400.8,272.2 L401.3,273.2 L401.9,274.3 L402.4,275.4 L402.9,276.6 L403.5,277.7 L403.9,278.9 L404.4,280.2 L404.9,281.4 L405.3,282.7 L405.7,284.1 L406.1,285.4 L406.5,286.8 L406.8,288.3 L407.2,289.8 L407.4,291.3 L407.7,293.0 L408.0,294.7 L408.2,296.4 L408.4,298.2 L408.6,300.0 L408.8,301.8 L408.9,303.7 L409.1,305.5 L409.2,307.3 L409.3,309.2 L409.5,311.0 L409.6,312.7 L409.7,314.4 L409.8,316.1 L409.9,317.7 L410.0,319.3 L410.1,320.8 L410.2,322.4 L410.2,323.9 L410.3,325.4 L410.4,326.9 L410.4,328.3 L410.4,329.8 L410.4,331.3 L410.4,332.7 L410.4,334.2 L410.4,335.6 L410.4,337.0 L410.4,338.5 L410.3,340.0 L410.2,341.4 L410.2,342.9 L410.1,344.3 L410.0,345.8 L409.9,347.2 L409.8,348.7 L409.7,350.1 L409.5,351.6 L409.4,353.0 L409.2,354.4 L409.0,355.8 L408.8,357.2 L408.6,358.6 L408.4,360.0 L408.1,361.4 L407.8,362.7 L407.5,364.1 L407.2,365.5 L406.9,366.8 L406.5,368.2 L406.2,369.5 L405.8,370.9 L405.4,372.2 L405.0,373.5 L404.5,374.8 L404.1,376.1 L403.6,377.4 L403.1,378.6 L402.6,379.9 L402.0,381.1 L401.5,382.3 L400.9,383.5 L400.3,384.6 L399.7,385.8 L399.1,386.9 L398.5,388.0 L397.8,389.1 L397.1,390.1 L396.4,391.2 L395.7,392.2 L395.0,393.3 L394.2,394.3 L393.4,395.3 L392.6,396.3 L391.8,397.3 L390.9,398.2 L390.0,399.2 L389.1,400.2 L388.2,401.1 L387.2,402.1 L386.2,403.0 L385.2,403.9 L384.2,404.9 L383.1,405.8 L382.0,406.7 L380.9,407.6 L379.8,408.4 L378.6,409.3 L377.4,410.1 L376.2,410.9 L375.1,411.7 L373.8,412.5 L372.6,413.2 L371.4,414.0 L370.2,414.7 L368.9,415.3 L367.6,416.0 L366.3,416.7 L365.0,417.3 L363.7,417.9 L362.3,418.5 L361.0,419.0 L359.6,419.6 L358.2,420.1 L356.8,420.6 L355.4,421.1 L354.0,421.6 L352.6,422.0 L351.1,422.4 L349.7,422.8 L348.2,423.2 L346.8,423.6 L345.3,423.9 L343.7,424.2 L342.2,424.5 L340.7,424.7 L339.1,425.0 L337.5,425.2 L336.0,425.4 L334.4,425.6 L332.8,425.7 L331.2,425.9 L329.6,426.0 L328.1,426.1 L326.5,426.2 L324.9,426.3 L323.4,426.4 L321.8,426.4 L320.2,426.4 L318.5,426.4 L316.9,426.4 L315.3,426.4 L313.6,426.3 L312.0,426.2 L310.4,426.2 L308.8,426.1 L307.2,426.0 L305.7,425.8 L304.2,425.7 L302.8,425.6 L301.4,425.4 L300.1,425.3 L298.9,425.2 L297.7,425.0 L296.6,424.9 L295.5,424.7 L294.5,424.6 L293.6,424.4 L292.6,424.2 L291.7,424.0 L290.8,423.8 L289.9,423.6 L289.0,423.4 L288.1,423.1 L287.2,422.9 L286.3,422.6 L285.4,422.2 L284.4,421.9 L283.4,421.5 L282.4,421.1 L281.4,420.7 L280.4,420.2 L279.4,419.7 L278.4,419.2 L277.3,418.7 L276.3,418.2 L275.3,417.6 L274.3,417.1 L273.3,416.5 L272.3,415.9 L271.4,415.3 L270.5,414.7 L269.6,414.1 L268.7,413.5 L267.8,412.9 L267.0,412.3 L266.2,411.6 L265.4,411.0 L264.6,410.4 L263.8,409.7 L263.0,409.0 L262.3,408.3 L261.6,407.6 L260.9,406.9 L260.2,406.2 L259.5,405.5 L258.8,404.7 L258.2,403.9 L257.6,403.1 L257.0,402.3 L256.4,401.5 L255.8,400.6 L255.3,399.7 L254.8,398.8 L254.3,397.9 L253.8,397.0 L253.3,396.1 L252.8,395.1 L252.4,394.1 L252.0,393.1 L251.5,392.1 L251.1,391.0 L250.8,390.0 L250.4,388.9 L250.0,387.8 L249.6,386.6 L249.3,385.5 L249.0,384.3 L248.7,383.0 L248.4,381.8 L248.1,380.5 L247.8,379.1 L247.5,377.8 L247.3,376.4 L247.1,375.0 L246.8,373.7 L246.6,372.3 L246.4,371.0 L246.2,369.7 L246.0,368.3 L245.9,367.1 L245.7,365.8 L245.5,364.6 L245.4,363.5 L245.3,362.3 L245.1,361.2 L245.0,360.0 L244.9,358.9 L244.9,357.8 L244.8,356.7 L244.7,355.6 L244.7,354.6 L244.6,353.5 L244.5,352.4 L244.5,351.3 L244.5,350.2 L244.4,349.1 L244.4,348.0 L244.4,346.8 L244.4,345.7 L244.3,344.6 L244.3,343.4 L244.3,342.2 L244.3,341.1 L244.4,339.9 L244.4,338.8 L244.4,337.6 L244.4,336.5 L244.5,335.4 L244.5,334.3 L244.5,333.2 L244.6,332.1 L244.6,331.1 L244.7,330.1 L244.8,329.1 L244.8,328.1 L244.9,327.2 L244.9,326.3 L245.0,325.5 L245.1,324.6 L245.1,323.8 L245.2,322.9 L245.3,322.1 L245.4,321.3 L245.5,320.5 L245.6,319.6 L245.7,318.8 L245.9,318.0 L246.0,317.1 L246.2,316.2 L246.4,315.3 L246.5,314.4 L246.7,313.4 L246.9,312.5 L247.1,311.6 L247.3,310.6 L247.5,309.7 L247.7,308.7 L247.9,307.8 L248.2,306.9 L248.4,305.9 L248.7,305.0 L249.0,304.1 L249.3,303.2 L249.7,302.4 L250.1,301.5 L250.5,300.7 L251.0,299.9 L251.5,299.0 L252.0,298.2 L252.5,297.4 L253.1,296.6 L253.7,295.8 L254.3,294.9 L255.0,294.1 L255.6,293.3 L256.3,292.5 L256.9,291.7 L257.5,290.9 L258.2,290.0 L258.8,289.2 L259.4,288.4 L260.0,287.6 L260.5,286.8 L261.1,286.0 L261.6,285.2 L262.1,284.4 L262.7,283.7 L263.2,282.9 L263.7,282.1 L264.3,281.4 L264.8,280.6 L265.4,279.8 L266.0,279.0 L266.5,278.2 L267.1,277.4 L267.7,276.6 L268.4,275.7 L269.0,274.8 L269.7,273.9 L270.3,273.0 L270.9,272.0 L271.6,271.0 L272.2,270.1 L272.9,269.1 L273.6,268.1 L274.2,267.2 L274.9,266.2 L275.7,265.3 L276.4,264.4 L277.2,263.5 L278.0,262.6 L278.9,261.7 L279.8,260.9 L280.7,260.1 L281.7,259.3 L282.8,258.5 L283.9,257.7 L285.0,256.9 L286.1,256.1 L287.3,255.3 L288.5,254.6 L289.7,253.8 L290.9,253.1 L292.2,252.4 L293.4,251.7 L294.7,251.0 L296.0,250.4 L297.3,249.7 L298.5,249.1 L299.8,248.5 L301.1,247.9 L302.5,247.3 L303.9,246.7 L305.3,246.1 L306.8,245.5 L308.2,245.0 L309.7,244.4 L311.1,243.9 L312.5,243.4 L313.9,243.0 L315.3,242.6 L316.6,242.2 L317.9,241.8 L319.1,241.5 Z"/>
<path fill="none" stroke="#2a7f9c" stroke-width="8.6" stroke-linecap="round" d="M240.1,284.0 L240.8,283.0 L241.5,282.2 L242.1,281.3 L242.7,280.6 L243.3,279.8 L243.8,279.2 L244.3,278.6 L244.7,277.9 L245.2,277.2 L245.8,276.5 L246.3,275.7 L246.8,274.9 L247.4,274.2 L247.9,273.4 L248.4,272.6 L249.0,271.8 L249.6,271.0 L250.1,270.2 L250.7,269.4 L251.3,268.5 L251.9,267.7 L252.6,266.8 L253.2,265.9 L253.9,265.1 L254.4,264.4 L254.9,263.7 L255.4,262.9 L256.0,262.0 L256.6,261.0 L257.3,260.0 L258.0,258.9 L258.8,257.8 L259.7,256.6 L260.6,255.4 L261.6,254.1 L262.7,252.8 L263.8,251.4 L265.1,250.1 L266.4,248.7 L267.8,247.4 L269.2,246.3 L270.6,245.2 L271.9,244.1 L273.3,243.1 L274.7,242.1 L276.1,241.1 L277.6,240.2 L279.0,239.3 L280.4,238.4 L281.9,237.5 L283.4,236.7 L284.8,235.9 L286.3,235.1 L287.7,234.4 L289.2,233.6 L290.7,232.9 L292.2,232.2 L293.8,231.4 L295.4,230.7 L297.0,230.0 L298.6,229.4 L300.3,228.7 L301.9,228.1 L303.6,227.5 L305.2,226.9 L306.8,226.4 L308.4,225.9 L310.0,225.4 L311.5,224.9 L313.1,224.5 L314.6,224.0 L316.1,223.7 L317.6,223.3 L319.2,223.0 L320.7,222.7 L322.2,222.5 L323.6,222.4 L325.0,222.3 L326.3,222.2 L327.6,222.2 L328.7,222.2 L329.8,222.2 L330.8,222.2 L331.7,222.2 L332.5,222.2 L333.3,222.2 L334.0,222.2 L334.7,222.2 L335.5,222.2 L336.3,222.2 L337.2,222.1 L338.1,222.1 L339.0,222.1 L340.0,222.0 L341.1,222.0 L342.2,222.0 L343.4,222.0 L344.6,222.1"/>
<path fill="none" stroke="#5ccaf0" stroke-width="7.0" stroke-linecap="round" d="M240.1,284.0 L240.8,283.0 L241.5,282.2 L242.1,281.3 L242.7,280.6 L243.3,279.8 L243.8,279.2 L244.3,278.6 L244.7,277.9 L245.2,277.2 L245.8,276.5 L246.3,275.7 L246.8,274.9 L247.4,274.2 L247.9,273.4 L248.4,272.6 L249.0,271.8 L249.6,271.0 L250.1,270.2 L250.7,269.4 L251.3,268.5 L251.9,267.7 L252.6,266.8 L253.2,265.9 L253.9,265.1 L254.4,264.4 L254.9,263.7 L255.4,262.9 L256.0,262.0 L256.6,261.0 L257.3,260.0 L258.0,258.9 L258.8,257.8 L259.7,256.6 L260.6,255.4 L261.6,254.1 L262.7,252.8 L263.8,251.4 L265.1,250.1 L266.4,248.7 L267.8,247.4 L269.2,246.3 L270.6,245.2 L271.9,244.1 L273.3,243.1 L274.7,242.1 L276.1,241.1 L277.6,240.2 L279.0,239.3 L280.4,238.4 L281.9,237.5 L283.4,236.7 L284.8,235.9 L286.3,235.1 L287.7,234.4 L289.2,233.6 L290.7,232.9 L292.2,232.2 L293.8,231.4 L295.4,230.7 L297.0,230.0 L298.6,229.4 L300.3,228.7 L301.9,228.1 L303.6,227.5 L305.2,226.9 L306.8,226.4 L308.4,225.9 L310.0,225.4 L311.5,224.9 L313.1,224.5 L314.6,224.0 L316.1,223.7 L317.6,223.3 L319.2,223.0 L320.7,222.7 L322.2,222.5 L323.6,222.4 L325.0,222.3 L326.3,222.2 L327.6,222.2 L328.7,222.2 L329.8,222.2 L330.8,222.2 L331.7,222.2 L332.5,222.2 L333.3,222.2 L334.0,222.2 L334.7,222.2 L335.5,222.2 L336.3,222.2 L337.2,222.1 L338.1,222.1 L339.0,222.1 L340.0,222.0 L341.1,222.0 L342.2,222.0 L343.4,222.0 L344.6,222.1"/>
<path fill="none" stroke="#2b8fc2" stroke-width="1.7" stroke-linecap="round" d="M243.3,279.8 L243.8,279.2 L244.3,278.6 L244.7,277.9 L245.2,277.2 L245.8,276.5 L246.3,275.7 L246.8,274.9 L247.4,274.2 L247.9,273.4 L248.4,272.6 L249.0,271.8 L249.6,271.0 L250.1,270.2 L250.7,269.4 L251.3,268.5 L251.9,267.7 L252.6,266.8 L253.2,265.9 L253.9,265.1 L254.4,264.4 L254.9,263.7 L255.4,262.9 L256.0,262.0 L256.6,261.0 L257.3,260.0 L258.0,258.9 L258.8,257.8 L259.7,256.6 L260.6,255.4 L261.6,254.1 L262.7,252.8 L263.8,251.4 L265.1,250.1 L266.4,248.7 L267.8,247.4 L269.2,246.3 L270.6,245.2 L271.9,244.1 L273.3,243.1 L274.7,242.1 L276.1,241.1 L277.6,240.2 L279.0,239.3 L280.4,238.4 L281.9,237.5 L283.4,236.7 L284.8,235.9 L286.3,235.1 L287.7,234.4 L289.2,233.6 L290.7,232.9 L292.2,232.2 L293.8,231.4 L295.4,230.7 L297.0,230.0 L298.6,229.4 L300.3,228.7 L301.9,228.1 L303.6,227.5 L305.2,226.9 L306.8,226.4 L308.4,225.9 L310.0,225.4 L311.5,224.9 L313.1,224.5 L314.6,224.0 L316.1,223.7 L317.6,223.3 L319.2,223.0 L320.7,222.7 L322.2,222.5 L323.6,222.4 L325.0,222.3 L326.3,222.2 L327.6,222.2 L328.7,222.2 L329.8,222.2 L330.8,222.2 L331.7,222.2 L332.5,222.2 L333.3,222.2 L334.0,222.2 L334.7,222.2 L335.5,222.2 L336.3,222.2 L337.2,222.1 L338.1,222.1 L339.0,222.1"/>
<path fill="#e27c8a" d="M340.0,262.0 L340.7,260.3 L341.8,259.0 L343.2,258.0 L344.9,257.2 L346.8,256.6 L348.9,256.2 L351.1,256.0 L353.4,255.9 L355.7,255.9 L357.9,255.9 L360.0,256.0 L362.0,256.0 L363.9,256.0 L365.8,256.2 L367.8,256.4 L369.8,256.7 L371.8,257.0 L373.8,257.5 L375.8,258.0 L377.7,258.7 L379.6,259.4 L381.5,260.2 L383.3,261.0 L385.0,262.0 L386.7,263.0 L388.3,264.2 L389.9,265.4 L391.4,266.7 L393.0,268.0 L394.4,269.5 L395.9,271.0 L397.2,272.7 L398.5,274.4 L399.8,276.2 L400.9,278.0 L402.0,280.0 L403.0,282.1 L403.9,284.3 L404.8,286.7 L405.6,289.1 L406.3,291.6 L407.0,294.2 L407.6,296.9 L408.2,299.6 L408.7,302.2 L409.2,304.9 L409.6,307.5 L410.0,310.0 L410.3,312.5 L410.6,315.1 L410.8,317.7 L411.0,320.3 L411.1,322.9 L411.2,325.5 L411.2,328.1 L411.2,330.6 L411.2,333.1 L411.1,335.5 L411.1,337.8 L411.0,340.0 L410.9,342.2 L410.8,344.3 L410.7,346.4 L410.6,348.4 L410.4,350.4 L410.2,352.4 L409.9,354.2 L409.7,356.0 L409.3,357.7 L409.0,359.2 L408.5,360.7 L408.0,362.0 L407.4,363.2 L406.8,364.2 L406.2,365.1 L405.5,365.9 L404.7,366.6 L403.9,367.2 L403.1,367.8 L402.2,368.3 L401.2,368.8 L400.2,369.2 L399.1,369.6 L398.0,370.0 L396.8,370.4 L395.5,370.8 L394.1,371.1 L392.6,371.4 L391.1,371.7 L389.5,371.9 L387.9,372.1 L386.3,372.2 L384.7,372.3 L383.1,372.3 L381.5,372.2 L380.0,372.0 L378.5,371.8 L376.9,371.6 L375.3,371.3 L373.7,371.0 L372.1,370.6 L370.5,370.2 L368.9,369.6 L367.4,369.0 L365.9,368.2 L364.5,367.3 L363.2,366.2 L362.0,365.0 L360.9,363.6 L359.8,362.0 L358.8,360.4 L357.8,358.6 L356.9,356.6 L356.0,354.6 L355.2,352.4 L354.4,350.1 L353.8,347.7 L353.1,345.2 L352.5,342.7 L352.0,340.0 L351.6,337.2 L351.3,334.2 L351.1,331.0 L351.0,327.7 L351.0,324.3 L351.0,320.8 L351.0,317.3 L351.0,313.7 L350.9,310.2 L350.7,306.7 L350.4,303.3 L350.0,300.0 L349.3,296.7 L348.4,293.2 L347.3,289.6 L346.1,286.0 L344.8,282.4 L343.5,278.9 L342.3,275.5 L341.3,272.2 L340.4,269.2 L339.9,266.5 L339.7,264.0 Z"/>
<path fill="#cf5063" d="M370.0,275.0 L370.9,274.2 L372.1,273.7 L373.6,273.4 L375.3,273.3 L377.1,273.4 L379.0,273.7 L381.0,274.1 L383.0,274.7 L384.9,275.4 L386.8,276.2 L388.5,277.1 L390.0,278.0 L391.4,279.0 L392.8,280.3 L394.1,281.6 L395.4,283.1 L396.7,284.8 L397.9,286.5 L399.1,288.3 L400.2,290.2 L401.3,292.1 L402.3,294.1 L403.2,296.0 L404.0,298.0 L404.8,300.0 L405.4,302.1 L406.0,304.2 L406.6,306.4 L407.0,308.6 L407.4,310.9 L407.8,313.2 L408.1,315.5 L408.4,317.9 L408.6,320.2 L408.8,322.6 L409.0,325.0 L409.1,327.4 L409.2,330.0 L409.3,332.7 L409.3,335.4 L409.3,338.1 L409.2,340.9 L409.1,343.6 L408.9,346.1 L408.7,348.6 L408.5,350.9 L408.3,353.1 L408.0,355.0 L407.7,356.7 L407.3,358.4 L406.9,359.9 L406.5,361.4 L406.1,362.7 L405.6,363.9 L405.0,364.9 L404.5,365.9 L403.9,366.6 L403.3,367.2 L402.7,367.7 L402.0,368.0 L401.3,368.1 L400.6,368.1 L399.8,367.9 L399.0,367.5 L398.2,367.0 L397.4,366.4 L396.5,365.6 L395.6,364.7 L394.7,363.7 L393.8,362.6 L392.9,361.3 L392.0,360.0 L391.1,358.5 L390.1,356.9 L389.0,355.2 L388.0,353.3 L386.9,351.3 L385.9,349.2 L384.8,347.0 L383.8,344.7 L382.8,342.4 L381.8,339.9 L380.9,337.5 L380.0,335.0 L379.2,332.4 L378.4,329.6 L377.6,326.7 L376.8,323.7 L376.1,320.6 L375.4,317.5 L374.7,314.4 L374.1,311.3 L373.5,308.3 L372.9,305.4 L372.4,302.6 L372.0,300.0 L371.6,297.5 L371.1,294.9 L370.6,292.4 L370.1,289.9 L369.6,287.5 L369.2,285.1 L369.0,282.9 L368.8,280.9 L368.8,279.0 L369.0,277.4 L369.4,276.1 Z"/>
<path fill="#e9a0a6" opacity="0.8" d="M372.0,282.0 L372.0,281.2 L372.0,280.5 L372.2,279.9 L372.4,279.3 L372.8,278.9 L373.1,278.6 L373.5,278.5 L374.0,278.4 L374.5,278.6 L375.0,278.9 L375.5,279.3 L376.0,280.0 L376.5,280.9 L377.1,282.1 L377.7,283.5 L378.4,285.1 L379.0,286.9 L379.8,288.8 L380.5,290.7 L381.2,292.7 L381.9,294.6 L382.6,296.5 L383.3,298.3 L384.0,300.0 L384.7,301.6 L385.5,303.3 L386.3,305.0 L387.1,306.7 L387.9,308.5 L388.8,310.1 L389.5,311.7 L390.2,313.3 L390.8,314.7 L391.4,315.9 L391.8,317.1 L392.0,318.0 L392.1,318.8 L392.1,319.5 L392.0,320.1 L391.8,320.7 L391.5,321.1 L391.1,321.4 L390.7,321.5 L390.2,321.6 L389.7,321.4 L389.2,321.1 L388.6,320.7 L388.0,320.0 L387.4,319.1 L386.6,317.9 L385.8,316.5 L385.0,314.9 L384.1,313.1 L383.1,311.2 L382.2,309.3 L381.3,307.3 L380.4,305.4 L379.5,303.5 L378.7,301.7 L378.0,300.0 L377.3,298.4 L376.7,296.7 L376.0,295.0 L375.3,293.3 L374.7,291.5 L374.1,289.9 L373.6,288.3 L373.1,286.7 L372.7,285.3 L372.4,284.1 L372.1,282.9 Z"/>
<ellipse cx="390" cy="318" rx="14" ry="26" fill="#e48896" opacity="0.6" filter="url(#blur3)"/>
<path fill="none" stroke="#c04a5c" stroke-width="2.25" stroke-linecap="round" opacity="0.7" d="M388.0,336.0 Q388.5,332.9 388.9,329.9 M388.0,336.0 Q390.0,333.6 392.4,331.8 M386.0,326.0 Q386.4,323.3 387.1,320.6 M386.0,316.0 Q387.0,313.9 388.3,311.9 M389.0,306.0 Q389.9,304.0 390.5,301.9 M399.0,292.0 Q396.9,290.3 395.2,288.2 M400.0,330.0 Q401.5,329.3 402.7,328.3 M400.0,330.0 Q402.6,330.4 405.2,331.2 M380.0,340.0 Q378.5,338.4 376.7,337.2 M396.0,352.0 Q398.3,352.1 400.6,352.3"/>
<path fill="none" stroke="#c04a5c" stroke-width="2.50" stroke-linecap="round" opacity="0.7" d="M392.0,345.0 Q391.7,342.3 391.7,339.6 M392.0,345.0 Q393.0,343.8 394.3,342.8 M392.0,345.0 Q393.7,344.6 395.2,343.8 M388.0,336.0 Q388.4,333.4 389.0,330.9 M388.0,336.0 Q387.8,332.0 388.0,328.0 M388.0,336.0 Q389.5,335.3 391.0,334.9 M386.0,326.0 Q384.4,325.3 382.9,324.6 M386.0,326.0 Q383.5,325.5 381.1,324.9 M386.0,326.0 Q387.3,324.3 389.0,323.0 M386.0,326.0 Q387.2,325.1 388.4,324.1 M386.0,316.0 Q384.7,313.7 383.7,311.2 M386.0,316.0 Q384.0,313.2 381.4,311.1 M386.0,316.0 Q384.5,314.2 382.9,312.6 M386.0,316.0 Q383.2,314.8 380.4,314.0 M386.0,316.0 Q387.3,314.5 388.7,313.2 M386.0,316.0 Q387.5,314.4 389.2,313.0 M389.0,306.0 Q388.5,303.4 387.7,300.9 M389.0,306.0 Q388.1,303.8 386.8,301.8 M389.0,306.0 Q388.3,303.9 387.5,301.9 M389.0,306.0 Q387.1,304.2 385.8,302.1 M389.0,306.0 Q391.8,304.0 394.9,302.7 M389.0,306.0 Q392.1,305.2 395.2,304.8 M394.0,298.0 Q392.9,296.1 392.1,294.0 M394.0,298.0 Q390.9,295.8 387.9,293.4 M394.0,298.0 Q394.1,296.0 394.0,293.9 M399.0,292.0 Q397.2,292.6 395.7,293.5 M399.0,292.0 Q397.3,290.3 395.3,288.9 M399.0,292.0 Q396.1,291.8 393.3,291.2 M399.0,292.0 Q399.3,290.2 399.4,288.3 M399.0,292.0 Q400.9,289.8 402.8,287.6 M400.0,330.0 Q397.4,328.0 394.4,326.8 M400.0,330.0 Q397.3,327.4 395.4,324.2 M400.0,330.0 Q397.1,330.8 394.5,332.3 M402.0,318.0 Q401.4,315.3 401.2,312.5 M402.0,318.0 Q400.1,314.6 397.4,311.8 M402.0,318.0 Q399.4,315.5 396.5,313.5 M402.0,318.0 Q399.1,317.0 396.4,315.5 M402.0,318.0 Q399.7,317.0 397.4,316.2 M402.0,318.0 Q399.2,317.7 396.7,316.7 M380.0,340.0 Q377.9,338.7 375.6,337.8 M396.0,352.0 Q394.7,348.3 394.2,344.4 M396.0,352.0 Q393.7,350.8 391.6,349.4 M396.0,352.0 Q392.4,352.6 389.0,353.6 M396.0,352.0 Q393.5,349.9 390.6,348.6 M396.0,352.0 Q397.5,350.0 398.7,347.8 M396.0,352.0 Q397.7,352.2 399.3,352.9"/>
<path fill="none" stroke="#c04a5c" stroke-width="2.75" stroke-linecap="round" opacity="0.7" d="M392.0,345.0 Q389.2,344.5 386.3,344.3 M392.0,345.0 Q390.8,343.8 389.4,343.0 M392.0,345.0 Q390.1,344.0 388.6,342.6 M392.0,345.0 Q390.1,341.9 388.2,338.7 M392.0,345.0 Q391.4,343.4 391.0,341.8 M392.0,345.0 Q395.2,344.2 398.4,343.7 M392.0,345.0 Q393.9,342.6 395.8,340.1 M388.0,336.0 Q386.1,334.4 384.1,333.0 M388.0,336.0 Q388.2,332.0 389.4,328.3 M388.0,336.0 Q387.5,334.0 387.3,332.0 M388.0,336.0 Q389.0,334.7 390.3,333.7 M386.0,326.0 Q385.9,323.6 385.7,321.1 M386.0,326.0 Q384.5,323.4 383.1,320.8 M386.0,326.0 Q388.5,325.9 391.0,325.8 M386.0,316.0 Q383.8,312.7 381.3,309.8 M386.0,316.0 Q385.6,314.5 385.3,313.0 M386.0,316.0 Q387.8,315.6 389.6,315.1 M389.0,306.0 Q387.8,304.4 386.9,302.6 M389.0,306.0 Q386.8,305.5 384.8,304.6 M389.0,306.0 Q389.8,302.7 391.3,299.6 M394.0,298.0 Q393.3,295.1 391.9,292.5 M394.0,298.0 Q391.8,297.7 389.6,297.1 M394.0,298.0 Q390.4,297.1 386.9,296.3 M394.0,298.0 Q395.1,296.5 396.3,295.0 M394.0,298.0 Q395.6,295.3 397.7,293.1 M394.0,298.0 Q395.5,297.8 397.0,297.7 M399.0,292.0 Q398.8,288.3 397.8,284.8 M399.0,292.0 Q396.8,291.3 394.6,290.8 M399.0,292.0 Q401.3,291.7 403.5,291.8 M399.0,292.0 Q400.5,290.4 402.1,288.7 M400.0,330.0 Q399.5,326.5 398.6,323.2 M400.0,330.0 Q399.5,326.8 399.5,323.7 M400.0,330.0 Q401.8,329.5 403.4,328.5 M400.0,330.0 Q401.1,327.0 402.4,324.1 M402.0,318.0 Q403.8,317.6 405.6,317.4 M402.0,318.0 Q404.3,316.9 406.6,315.9 M402.0,318.0 Q403.8,317.6 405.4,316.8 M402.0,318.0 Q404.5,317.9 407.1,317.6 M380.0,340.0 Q377.8,340.0 375.7,340.4 M380.0,340.0 Q376.9,339.0 373.7,338.2 M380.0,340.0 Q382.0,338.2 383.9,336.3 M380.0,340.0 Q382.6,339.5 385.1,339.0 M380.0,340.0 Q382.3,339.9 384.6,340.2 M380.0,340.0 Q381.3,338.5 382.3,336.8 M396.0,352.0 Q393.8,352.0 391.7,352.4 M396.0,352.0 Q395.2,348.3 393.9,344.8 M396.0,352.0 Q397.0,349.3 397.3,346.5"/>
<path fill="none" stroke="#c04a5c" stroke-width="3.00" stroke-linecap="round" opacity="0.7" d="M388.0,336.0 Q385.9,332.9 384.2,329.5 M386.0,326.0 Q385.7,322.1 385.5,318.1 M386.0,326.0 Q382.4,326.9 379.0,328.2 M394.0,298.0 Q394.5,294.8 395.8,291.8 M400.0,330.0 Q396.5,329.8 393.0,329.3 M380.0,340.0 Q378.1,339.1 376.4,338.0 M380.0,340.0 Q376.6,339.2 373.2,339.1"/>
<path fill="none" stroke="#f0b6bc" stroke-width="1.25" stroke-linecap="round" d="M388.0,336.0 Q388.5,332.9 388.9,329.9 M388.0,336.0 Q390.0,333.6 392.4,331.8 M386.0,326.0 Q386.4,323.3 387.1,320.6 M386.0,316.0 Q387.0,313.9 388.3,311.9 M389.0,306.0 Q389.9,304.0 390.5,301.9 M399.0,292.0 Q396.9,290.3 395.2,288.2 M400.0,330.0 Q401.5,329.3 402.7,328.3 M400.0,330.0 Q402.6,330.4 405.2,331.2 M380.0,340.0 Q378.5,338.4 376.7,337.2 M396.0,352.0 Q398.3,352.1 400.6,352.3"/>
<path fill="none" stroke="#f0b6bc" stroke-width="1.50" stroke-linecap="round" d="M392.0,345.0 Q391.7,342.3 391.7,339.6 M392.0,345.0 Q393.0,343.8 394.3,342.8 M392.0,345.0 Q393.7,344.6 395.2,343.8 M388.0,336.0 Q388.4,333.4 389.0,330.9 M388.0,336.0 Q387.8,332.0 388.0,328.0 M388.0,336.0 Q389.5,335.3 391.0,334.9 M386.0,326.0 Q384.4,325.3 382.9,324.6 M386.0,326.0 Q383.5,325.5 381.1,324.9 M386.0,326.0 Q387.3,324.3 389.0,323.0 M386.0,326.0 Q387.2,325.1 388.4,324.1 M386.0,316.0 Q384.7,313.7 383.7,311.2 M386.0,316.0 Q384.0,313.2 381.4,311.1 M386.0,316.0 Q384.5,314.2 382.9,312.6 M386.0,316.0 Q383.2,314.8 380.4,314.0 M386.0,316.0 Q387.3,314.5 388.7,313.2 M386.0,316.0 Q387.5,314.4 389.2,313.0 M389.0,306.0 Q388.5,303.4 387.7,300.9 M389.0,306.0 Q388.1,303.8 386.8,301.8 M389.0,306.0 Q388.3,303.9 387.5,301.9 M389.0,306.0 Q387.1,304.2 385.8,302.1 M389.0,306.0 Q391.8,304.0 394.9,302.7 M389.0,306.0 Q392.1,305.2 395.2,304.8 M394.0,298.0 Q392.9,296.1 392.1,294.0 M394.0,298.0 Q390.9,295.8 387.9,293.4 M394.0,298.0 Q394.1,296.0 394.0,293.9 M399.0,292.0 Q397.2,292.6 395.7,293.5 M399.0,292.0 Q397.3,290.3 395.3,288.9 M399.0,292.0 Q396.1,291.8 393.3,291.2 M399.0,292.0 Q399.3,290.2 399.4,288.3 M399.0,292.0 Q400.9,289.8 402.8,287.6 M400.0,330.0 Q397.4,328.0 394.4,326.8 M400.0,330.0 Q397.3,327.4 395.4,324.2 M400.0,330.0 Q397.1,330.8 394.5,332.3 M402.0,318.0 Q401.4,315.3 401.2,312.5 M402.0,318.0 Q400.1,314.6 397.4,311.8 M402.0,318.0 Q399.4,315.5 396.5,313.5 M402.0,318.0 Q399.1,317.0 396.4,315.5 M402.0,318.0 Q399.7,317.0 397.4,316.2 M402.0,318.0 Q399.2,317.7 396.7,316.7 M380.0,340.0 Q377.9,338.7 375.6,337.8 M396.0,352.0 Q394.7,348.3 394.2,344.4 M396.0,352.0 Q393.7,350.8 391.6,349.4 M396.0,352.0 Q392.4,352.6 389.0,353.6 M396.0,352.0 Q393.5,349.9 390.6,348.6 M396.0,352.0 Q397.5,350.0 398.7,347.8 M396.0,352.0 Q397.7,352.2 399.3,352.9"/>
<path fill="none" stroke="#f0b6bc" stroke-width="1.75" stroke-linecap="round" d="M392.0,345.0 Q389.2,344.5 386.3,344.3 M392.0,345.0 Q390.8,343.8 389.4,343.0 M392.0,345.0 Q390.1,344.0 388.6,342.6 M392.0,345.0 Q390.1,341.9 388.2,338.7 M392.0,345.0 Q391.4,343.4 391.0,341.8 M392.0,345.0 Q395.2,344.2 398.4,343.7 M392.0,345.0 Q393.9,342.6 395.8,340.1 M388.0,336.0 Q386.1,334.4 384.1,333.0 M388.0,336.0 Q388.2,332.0 389.4,328.3 M388.0,336.0 Q387.5,334.0 387.3,332.0 M388.0,336.0 Q389.0,334.7 390.3,333.7 M386.0,326.0 Q385.9,323.6 385.7,321.1 M386.0,326.0 Q384.5,323.4 383.1,320.8 M386.0,326.0 Q388.5,325.9 391.0,325.8 M386.0,316.0 Q383.8,312.7 381.3,309.8 M386.0,316.0 Q385.6,314.5 385.3,313.0 M386.0,316.0 Q387.8,315.6 389.6,315.1 M389.0,306.0 Q387.8,304.4 386.9,302.6 M389.0,306.0 Q386.8,305.5 384.8,304.6 M389.0,306.0 Q389.8,302.7 391.3,299.6 M394.0,298.0 Q393.3,295.1 391.9,292.5 M394.0,298.0 Q391.8,297.7 389.6,297.1 M394.0,298.0 Q390.4,297.1 386.9,296.3 M394.0,298.0 Q395.1,296.5 396.3,295.0 M394.0,298.0 Q395.6,295.3 397.7,293.1 M394.0,298.0 Q395.5,297.8 397.0,297.7 M399.0,292.0 Q398.8,288.3 397.8,284.8 M399.0,292.0 Q396.8,291.3 394.6,290.8 M399.0,292.0 Q401.3,291.7 403.5,291.8 M399.0,292.0 Q400.5,290.4 402.1,288.7 M400.0,330.0 Q399.5,326.5 398.6,323.2 M400.0,330.0 Q399.5,326.8 399.5,323.7 M400.0,330.0 Q401.8,329.5 403.4,328.5 M400.0,330.0 Q401.1,327.0 402.4,324.1 M402.0,318.0 Q403.8,317.6 405.6,317.4 M402.0,318.0 Q404.3,316.9 406.6,315.9 M402.0,318.0 Q403.8,317.6 405.4,316.8 M402.0,318.0 Q404.5,317.9 407.1,317.6 M380.0,340.0 Q377.8,340.0 375.7,340.4 M380.0,340.0 Q376.9,339.0 373.7,338.2 M380.0,340.0 Q382.0,338.2 383.9,336.3 M380.0,340.0 Q382.6,339.5 385.1,339.0 M380.0,340.0 Q382.3,339.9 384.6,340.2 M380.0,340.0 Q381.3,338.5 382.3,336.8 M396.0,352.0 Q393.8,352.0 391.7,352.4 M396.0,352.0 Q395.2,348.3 393.9,344.8 M396.0,352.0 Q397.0,349.3 397.3,346.5"/>
<path fill="none" stroke="#f0b6bc" stroke-width="2.00" stroke-linecap="round" d="M388.0,336.0 Q385.9,332.9 384.2,329.5 M386.0,326.0 Q385.7,322.1 385.5,318.1 M386.0,326.0 Q382.4,326.9 379.0,328.2 M394.0,298.0 Q394.5,294.8 395.8,291.8 M400.0,330.0 Q396.5,329.8 393.0,329.3 M380.0,340.0 Q378.1,339.1 376.4,338.0 M380.0,340.0 Q376.6,339.2 373.2,339.1"/>
<path fill="#f0a6b4" stroke="#d4707f" stroke-width="0.7" d="M361.4,267.0 L361.8,269.3 L362.2,271.5 L362.5,273.7 L362.8,275.9 L363.2,278.1 L363.6,280.3 L363.9,282.4 L364.3,284.6 L364.7,286.7 L365.2,288.8 L365.7,291.0 L366.2,293.2 L366.7,295.4 L367.2,297.6 L367.8,299.8 L368.3,301.9 L368.9,304.1 L369.6,306.2 L370.2,308.3 L370.8,310.4 L371.5,312.5 L372.2,314.5 L372.9,316.5 L373.6,318.5 L374.3,320.4 L375.0,322.4 L375.8,324.2 L376.6,326.1 L377.4,327.9 L378.3,329.7 L379.3,331.5 L380.3,333.3 L381.4,335.1 L382.5,336.9 L383.7,338.7 L384.9,340.4 L386.1,342.2 L387.4,343.9 L388.6,345.6 L389.7,347.2 L390.9,348.7 L392.0,350.1 L393.1,351.5 L394.3,352.9 L395.4,354.2 L396.6,355.5 L397.8,356.9 L399.0,358.2 L400.2,359.6 L401.4,361.0 L394.6,367.0 L393.4,365.6 L392.2,364.3 L391.0,363.0 L389.8,361.6 L388.6,360.3 L387.3,358.9 L386.1,357.5 L384.8,356.0 L383.5,354.5 L382.3,352.8 L381.0,351.2 L379.7,349.5 L378.4,347.7 L377.1,345.9 L375.8,344.1 L374.5,342.2 L373.2,340.3 L372.0,338.3 L370.8,336.3 L369.7,334.3 L368.6,332.3 L367.6,330.2 L366.7,328.2 L365.8,326.1 L365.0,324.1 L364.2,322.0 L363.4,319.9 L362.6,317.8 L361.9,315.7 L361.2,313.6 L360.4,311.4 L359.7,309.2 L359.0,307.0 L358.4,304.7 L357.7,302.5 L357.1,300.2 L356.5,297.9 L355.9,295.7 L355.4,293.4 L354.8,291.2 L354.3,288.9 L353.8,286.6 L353.4,284.4 L353.0,282.1 L352.6,279.9 L352.2,277.7 L351.8,275.5 L351.4,273.3 L351.0,271.1 L350.6,269.0 Z"/>
<path fill="none" stroke="#f9d2da" stroke-width="1.6" d="M359.0,267.5 L359.3,269.7 L359.7,271.9 L360.0,274.1 L360.4,276.3 L360.7,278.5 L361.1,280.7 L361.5,282.9 L361.9,285.1 L362.3,287.2 L362.7,289.4 L363.2,291.6 L363.7,293.8 L364.2,296.0 L364.8,298.2 L365.4,300.4 L365.9,302.6 L366.5,304.8 L367.2,307.0 L367.8,309.1 L368.5,311.2 L369.1,313.3 L369.8,315.3 L370.5,317.4 L371.2,319.4 L372.0,321.3 L372.7,323.3 L373.5,325.2 L374.3,327.1 L375.2,329.0 L376.1,330.9 L377.1,332.7 L378.2,334.6 L379.3,336.4 L380.4,338.3 L381.6,340.1 L382.9,341.9 L384.1,343.6 L385.3,345.4 L386.6,347.0 L387.8,348.7 L388.9,350.2 L390.1,351.7 L391.2,353.1 L392.4,354.5 L393.6,355.9 L394.7,357.2 L395.9,358.5 L397.1,359.9 L398.3,361.3 L399.5,362.7"/>
<ellipse cx="266" cy="368" rx="7" ry="30" fill="#e88a9c" opacity="0.55" filter="url(#blur3)"/>
<path fill="#e98492" d="M296.0,384.0 L296.9,383.2 L297.9,382.5 L299.1,381.8 L300.3,381.1 L301.6,380.4 L303.0,379.8 L304.4,379.2 L305.9,378.7 L307.4,378.2 L309.0,377.8 L310.5,377.4 L312.0,377.0 L313.5,376.7 L315.1,376.4 L316.7,376.2 L318.4,376.0 L320.0,375.9 L321.8,375.8 L323.5,375.8 L325.2,375.7 L326.9,375.8 L328.6,375.8 L330.3,375.9 L332.0,376.0 L333.7,376.1 L335.4,376.3 L337.1,376.6 L338.9,376.8 L340.6,377.1 L342.4,377.4 L344.1,377.8 L345.8,378.2 L347.4,378.6 L349.0,379.0 L350.5,379.5 L352.0,380.0 L353.4,380.5 L354.8,381.0 L356.1,381.6 L357.4,382.1 L358.7,382.7 L359.9,383.4 L361.0,384.0 L362.1,384.7 L363.2,385.5 L364.2,386.3 L365.1,387.1 L366.0,388.0 L366.8,389.0 L367.6,390.0 L368.3,391.1 L369.0,392.3 L369.6,393.5 L370.1,394.8 L370.6,396.0 L371.0,397.3 L371.4,398.5 L371.7,399.7 L371.9,400.9 L372.0,402.0 L372.1,403.1 L372.1,404.2 L372.0,405.3 L371.9,406.3 L371.6,407.4 L371.4,408.4 L371.0,409.5 L370.6,410.4 L370.1,411.4 L369.5,412.3 L368.8,413.2 L368.0,414.0 L367.1,414.8 L366.1,415.5 L365.0,416.2 L363.8,416.9 L362.5,417.5 L361.1,418.1 L359.7,418.7 L358.2,419.2 L356.7,419.7 L355.2,420.2 L353.6,420.6 L352.0,421.0 L350.4,421.4 L348.7,421.7 L346.9,422.1 L345.1,422.4 L343.3,422.6 L341.4,422.8 L339.5,423.0 L337.6,423.2 L335.6,423.3 L333.7,423.4 L331.9,423.5 L330.0,423.5 L328.1,423.5 L326.2,423.5 L324.3,423.4 L322.3,423.4 L320.3,423.2 L318.4,423.1 L316.5,422.9 L314.6,422.6 L312.8,422.3 L311.1,422.0 L309.5,421.5 L308.0,421.0 L306.6,420.4 L305.3,419.7 L304.1,418.9 L303.0,418.1 L301.9,417.2 L300.9,416.2 L299.9,415.2 L299.0,414.2 L298.2,413.2 L297.4,412.1 L296.7,411.0 L296.0,410.0 L295.4,408.9 L294.8,407.8 L294.2,406.7 L293.8,405.5 L293.4,404.3 L293.0,403.1 L292.7,401.8 L292.4,400.6 L292.2,399.4 L292.1,398.3 L292.0,397.1 L292.0,396.0 L292.0,394.9 L292.1,393.8 L292.2,392.7 L292.3,391.7 L292.5,390.6 L292.8,389.6 L293.1,388.5 L293.5,387.6 L294.0,386.6 L294.5,385.7 L295.2,384.8 Z"/>
<path fill="none" stroke="#d4606e" stroke-width="1" opacity="0.7" d="M296.0,384.0 L297.3,383.4 L298.6,382.8 L299.9,382.1 L301.2,381.4 L302.5,380.8 L303.8,380.1 L305.0,379.5 L306.4,378.9 L307.7,378.3 L309.1,377.8 L310.5,377.4 L312.0,377.0 L313.5,376.7 L315.1,376.4 L316.7,376.2 L318.4,376.0 L320.0,375.9 L321.8,375.8 L323.5,375.8 L325.2,375.7 L326.9,375.8 L328.6,375.8 L330.3,375.9 L332.0,376.0 L333.7,376.1 L335.4,376.3 L337.1,376.6 L338.9,376.8 L340.6,377.1 L342.4,377.4 L344.1,377.8 L345.8,378.2 L347.4,378.6 L349.0,379.0 L350.5,379.5 L352.0,380.0 L353.4,380.5 L354.7,381.1 L355.9,381.7 L357.1,382.4 L358.3,383.0 L359.4,383.8 L360.5,384.5 L361.6,385.2 L362.6,385.9 L363.7,386.6 L364.9,387.3 L366.0,388.0"/>
<ellipse cx="300" cy="390" rx="20" ry="28" fill="#e07b8c" opacity="0.6" filter="url(#blur3)"/>
<ellipse cx="372" cy="380" rx="20" ry="24" fill="#e07b8c" opacity="0.6" filter="url(#blur3)"/>
<ellipse cx="297" cy="318" rx="10" ry="36" fill="#cc5468" opacity="0.6" filter="url(#blur3)"/>














<path fill="none" stroke="#a52a40" stroke-width="2.0" stroke-linecap="round" stroke-linejoin="round" opacity="0.55" d="M301.7,340.1 L301.2,338.3 L301.1,336.4 L300.8,334.5 L300.7,332.6 L301.3,330.8 L302.1,329.1 M301.2,338.3 L300.6,333.9 M301.2,338.3 L306.2,337.2 M301.1,336.4 L300.3,331.9 M301.1,336.4 L305.7,333.6 M300.8,334.5 L300.0,329.5 M300.8,334.5 L304.8,332.6 M300.7,332.6 L299.2,329.1 M300.7,332.6 L303.1,331.4 M301.3,330.8 L299.5,327.5 M301.3,330.8 L304.0,330.2 M302.1,329.1 L301.0,325.7 M302.1,329.1 L304.2,328.3"/>
<path fill="none" stroke="#a52a40" stroke-width="2.0" stroke-linecap="round" stroke-linejoin="round" opacity="0.55" d="M301.6,307.0 L301.2,305.4 L301.0,303.8 L300.7,302.1 L300.8,300.5 L300.5,298.8 L299.9,297.3 M301.2,305.4 L296.8,302.2 M301.2,305.4 L302.0,302.1 M301.0,303.8 L296.1,302.5 M301.0,303.8 L302.5,301.1 M300.7,302.1 L297.5,300.0 M300.7,302.1 L301.5,299.1 M300.8,300.5 L303.4,296.8 M300.5,298.8 L302.0,295.8 M299.9,297.3 L296.7,296.9 M299.9,297.3 L301.6,295.1"/>
<path fill="none" stroke="#a52a40" stroke-width="2.0" stroke-linecap="round" stroke-linejoin="round" opacity="0.55" d="M298.4,337.6 L297.1,336.1 L295.8,334.6 L294.6,333.1 L293.2,331.6 L291.6,330.5 L290.1,329.3 M297.1,336.1 L292.2,336.9 M297.1,336.1 L296.6,330.1 M295.8,334.6 L296.1,330.1 M294.6,333.1 L291.5,333.3 M294.6,333.1 L294.1,328.1 M293.2,331.6 L289.5,333.1 M293.2,331.6 L293.6,327.9 M291.6,330.5 L291.7,327.7"/>
<path fill="none" stroke="#a52a40" stroke-width="2.0" stroke-linecap="round" stroke-linejoin="round" opacity="0.55" d="M303.4,313.8 L303.6,312.1 L303.2,310.4 L302.3,308.9 L301.2,307.6 L299.8,306.6 L298.4,305.6 M303.6,312.1 L299.4,313.0 M303.6,312.1 L302.4,307.9 M303.2,310.4 L301.4,305.4 M302.3,308.9 L298.9,309.3 M302.3,308.9 L302.0,305.9 M301.2,307.6 L297.0,307.6 M301.2,307.6 L300.7,305.0 M299.8,306.6 L296.9,306.5 M299.8,306.6 L298.8,304.6 M298.4,305.6 L296.5,305.9 M298.4,305.6 L297.9,303.0"/>
<path fill="none" stroke="#a52a40" stroke-width="2.0" stroke-linecap="round" stroke-linejoin="round" opacity="0.55" d="M300.4,282.2 L299.5,280.7 L299.2,279.1 L298.6,277.6 L297.6,276.3 L296.5,275.0 L295.2,274.0 M299.5,280.7 L296.3,280.9 M299.5,280.7 L299.6,277.0 M299.2,279.1 L299.7,275.6 M298.6,277.6 L293.9,277.6 M298.6,277.6 L298.0,275.0 M297.6,276.3 L294.2,277.8 M297.6,276.3 L296.6,274.1 M296.5,275.0 L294.4,274.7 M296.5,275.0 L296.8,272.6 M295.2,274.0 L295.4,270.3"/>
<path fill="none" stroke="#a52a40" stroke-width="2.0" stroke-linecap="round" stroke-linejoin="round" opacity="0.55" d="M304.9,280.8 L304.8,279.0 L304.2,277.2 L303.4,275.6 L303.0,273.8 L302.2,272.2 L301.2,270.6 M304.8,279.0 L298.9,278.4 M304.8,279.0 L306.8,274.1 M304.2,277.2 L306.0,273.9 M303.4,275.6 L299.1,273.9 M303.4,275.6 L303.7,272.7 M303.0,273.8 L299.0,273.2 M303.0,273.8 L303.6,271.3 M302.2,272.2 L299.5,270.7 M301.2,270.6 L299.1,269.6"/>
<path fill="none" stroke="#a52a40" stroke-width="2.0" stroke-linecap="round" stroke-linejoin="round" opacity="0.55" d="M299.2,350.0 L300.5,348.9 L301.9,348.0 L303.3,346.9 L304.5,345.7 L305.3,344.2 L306.0,342.7 M300.5,348.9 L303.5,348.0 M301.9,348.0 L300.4,345.0 M301.9,348.0 L305.8,345.6 M303.3,346.9 L303.0,343.9 M304.5,345.7 L303.2,342.7 M305.3,344.2 L303.6,341.5 M305.3,344.2 L307.1,343.1 M306.0,342.7 L309.1,340.5"/>
<path fill="none" stroke="#a52a40" stroke-width="2.0" stroke-linecap="round" stroke-linejoin="round" opacity="0.55" d="M290.8,351.2 L289.5,350.2 L288.4,348.8 L287.5,347.4 L286.7,345.8 L286.2,344.2 L286.1,342.5 M289.5,350.2 L286.1,347.5 M289.5,350.2 L293.4,347.5 M288.4,348.8 L291.3,346.0 M287.5,347.4 L285.6,344.5 M287.5,347.4 L289.4,343.9 M286.7,345.8 L284.0,343.1 M286.7,345.8 L288.4,343.3 M286.2,344.2 L287.6,342.6 M286.1,342.5 L283.9,339.5 M286.1,342.5 L289.3,340.4"/>
<path fill="none" stroke="#a52a40" stroke-width="2.0" stroke-linecap="round" stroke-linejoin="round" opacity="0.55" d="M298.6,354.4 L299.2,352.8 L300.2,351.4 L301.5,350.4 L302.9,349.4 L304.4,348.7 L305.9,347.8 M300.2,351.4 L300.2,348.3 M300.2,351.4 L303.4,352.8 M301.5,350.4 L302.0,348.0 M301.5,350.4 L305.1,351.0 M302.9,349.4 L303.3,345.3 M302.9,349.4 L305.8,349.5 M304.4,348.7 L305.5,346.7 M305.9,347.8 L305.7,344.0"/>
<path fill="none" stroke="#a52a40" stroke-width="2.0" stroke-linecap="round" stroke-linejoin="round" opacity="0.55" d="M294.1,291.2 L293.6,289.6 L293.1,287.9 L292.4,286.3 L292.2,284.6 L291.7,283.0 L291.2,281.4 M293.1,287.9 L288.9,285.0 M293.1,287.9 L294.2,283.9 M292.4,286.3 L290.4,284.8 M292.4,286.3 L294.7,283.4 M291.7,283.0 L292.3,281.1 M291.2,281.4 L289.6,280.4 M291.2,281.4 L291.8,279.0"/>
<path fill="none" stroke="#a52a40" stroke-width="2.0" stroke-linecap="round" stroke-linejoin="round" opacity="0.55" d="M291.7,343.8 L291.0,342.4 L290.2,341.1 L289.5,339.7 L289.1,338.2 L289.0,336.6 L289.3,335.1 M291.0,342.4 L288.9,337.5 M290.2,341.1 L287.1,338.1 M290.2,341.1 L292.1,339.2 M289.5,339.7 L285.8,336.4 M289.5,339.7 L294.0,337.3 M289.1,338.2 L291.9,336.1 M289.0,336.6 L287.6,333.4 M289.3,335.1 L288.0,333.0 M289.3,335.1 L291.8,334.1"/>
<path fill="none" stroke="#a52a40" stroke-width="2.0" stroke-linecap="round" stroke-linejoin="round" opacity="0.55" d="M305.2,290.7 L304.6,289.1 L304.3,287.3 L304.5,285.6 L305.1,283.9 L305.9,282.4 L306.2,280.6 M304.6,289.1 L301.7,285.7 M304.6,289.1 L309.7,286.3 M304.3,287.3 L301.7,284.6 M304.3,287.3 L309.4,285.2 M304.5,285.6 L302.2,281.1 M304.5,285.6 L308.1,282.5 M305.1,283.9 L302.8,279.9 M305.9,282.4 L304.5,280.2 M305.9,282.4 L309.0,279.4 M306.2,280.6 L305.1,278.7 M306.2,280.6 L308.9,278.7"/>
<path fill="none" stroke="#a52a40" stroke-width="2.0" stroke-linecap="round" stroke-linejoin="round" opacity="0.55" d="M302.9,329.8 L303.4,328.5 L304.2,327.4 L304.6,326.2 L304.9,324.8 L305.1,323.5 L305.1,322.2 M303.4,328.5 L301.6,325.4 M304.2,327.4 L301.5,325.8 M304.6,326.2 L302.5,324.4 M304.6,326.2 L307.0,324.5 M304.9,324.8 L301.2,322.4 M304.9,324.8 L308.0,323.2 M305.1,323.5 L303.6,321.1 M305.1,322.2 L304.0,320.5 M305.1,322.2 L307.5,319.4"/>
<path fill="none" stroke="#a52a40" stroke-width="2.0" stroke-linecap="round" stroke-linejoin="round" opacity="0.55" d="M288.5,293.7 L290.3,292.6 L291.9,291.1 L293.3,289.5 L295.2,288.4 L297.1,287.3 L299.1,286.5 M290.3,292.6 L292.7,289.5 M290.3,292.6 L294.2,295.1 M291.9,291.1 L293.3,287.4 M291.9,291.1 L294.5,293.0 M293.3,289.5 L293.9,284.8 M293.3,289.5 L297.0,292.5 M295.2,288.4 L296.5,286.1 M295.2,288.4 L297.7,290.5 M297.1,287.3 L301.0,287.8"/>
<path fill="none" stroke="#de8e9a" stroke-width="1.1" stroke-linecap="round" stroke-linejoin="round" d="M301.7,340.1 L301.2,338.3 L301.1,336.4 L300.8,334.5 L300.7,332.6 L301.3,330.8 L302.1,329.1 M301.2,338.3 L300.6,333.9 M301.2,338.3 L306.2,337.2 M301.1,336.4 L300.3,331.9 M301.1,336.4 L305.7,333.6 M300.8,334.5 L300.0,329.5 M300.8,334.5 L304.8,332.6 M300.7,332.6 L299.2,329.1 M300.7,332.6 L303.1,331.4 M301.3,330.8 L299.5,327.5 M301.3,330.8 L304.0,330.2 M302.1,329.1 L301.0,325.7 M302.1,329.1 L304.2,328.3"/>
<path fill="none" stroke="#de8e9a" stroke-width="1.1" stroke-linecap="round" stroke-linejoin="round" d="M301.6,307.0 L301.2,305.4 L301.0,303.8 L300.7,302.1 L300.8,300.5 L300.5,298.8 L299.9,297.3 M301.2,305.4 L296.8,302.2 M301.2,305.4 L302.0,302.1 M301.0,303.8 L296.1,302.5 M301.0,303.8 L302.5,301.1 M300.7,302.1 L297.5,300.0 M300.7,302.1 L301.5,299.1 M300.8,300.5 L303.4,296.8 M300.5,298.8 L302.0,295.8 M299.9,297.3 L296.7,296.9 M299.9,297.3 L301.6,295.1"/>
<path fill="none" stroke="#de8e9a" stroke-width="1.1" stroke-linecap="round" stroke-linejoin="round" d="M298.4,337.6 L297.1,336.1 L295.8,334.6 L294.6,333.1 L293.2,331.6 L291.6,330.5 L290.1,329.3 M297.1,336.1 L292.2,336.9 M297.1,336.1 L296.6,330.1 M295.8,334.6 L296.1,330.1 M294.6,333.1 L291.5,333.3 M294.6,333.1 L294.1,328.1 M293.2,331.6 L289.5,333.1 M293.2,331.6 L293.6,327.9 M291.6,330.5 L291.7,327.7"/>
<path fill="none" stroke="#de8e9a" stroke-width="1.1" stroke-linecap="round" stroke-linejoin="round" d="M303.4,313.8 L303.6,312.1 L303.2,310.4 L302.3,308.9 L301.2,307.6 L299.8,306.6 L298.4,305.6 M303.6,312.1 L299.4,313.0 M303.6,312.1 L302.4,307.9 M303.2,310.4 L301.4,305.4 M302.3,308.9 L298.9,309.3 M302.3,308.9 L302.0,305.9 M301.2,307.6 L297.0,307.6 M301.2,307.6 L300.7,305.0 M299.8,306.6 L296.9,306.5 M299.8,306.6 L298.8,304.6 M298.4,305.6 L296.5,305.9 M298.4,305.6 L297.9,303.0"/>
<path fill="none" stroke="#de8e9a" stroke-width="1.1" stroke-linecap="round" stroke-linejoin="round" d="M300.4,282.2 L299.5,280.7 L299.2,279.1 L298.6,277.6 L297.6,276.3 L296.5,275.0 L295.2,274.0 M299.5,280.7 L296.3,280.9 M299.5,280.7 L299.6,277.0 M299.2,279.1 L299.7,275.6 M298.6,277.6 L293.9,277.6 M298.6,277.6 L298.0,275.0 M297.6,276.3 L294.2,277.8 M297.6,276.3 L296.6,274.1 M296.5,275.0 L294.4,274.7 M296.5,275.0 L296.8,272.6 M295.2,274.0 L295.4,270.3"/>
<path fill="none" stroke="#de8e9a" stroke-width="1.1" stroke-linecap="round" stroke-linejoin="round" d="M304.9,280.8 L304.8,279.0 L304.2,277.2 L303.4,275.6 L303.0,273.8 L302.2,272.2 L301.2,270.6 M304.8,279.0 L298.9,278.4 M304.8,279.0 L306.8,274.1 M304.2,277.2 L306.0,273.9 M303.4,275.6 L299.1,273.9 M303.4,275.6 L303.7,272.7 M303.0,273.8 L299.0,273.2 M303.0,273.8 L303.6,271.3 M302.2,272.2 L299.5,270.7 M301.2,270.6 L299.1,269.6"/>
<path fill="none" stroke="#de8e9a" stroke-width="1.1" stroke-linecap="round" stroke-linejoin="round" d="M299.2,350.0 L300.5,348.9 L301.9,348.0 L303.3,346.9 L304.5,345.7 L305.3,344.2 L306.0,342.7 M300.5,348.9 L303.5,348.0 M301.9,348.0 L300.4,345.0 M301.9,348.0 L305.8,345.6 M303.3,346.9 L303.0,343.9 M304.5,345.7 L303.2,342.7 M305.3,344.2 L303.6,341.5 M305.3,344.2 L307.1,343.1 M306.0,342.7 L309.1,340.5"/>
<path fill="none" stroke="#de8e9a" stroke-width="1.1" stroke-linecap="round" stroke-linejoin="round" d="M290.8,351.2 L289.5,350.2 L288.4,348.8 L287.5,347.4 L286.7,345.8 L286.2,344.2 L286.1,342.5 M289.5,350.2 L286.1,347.5 M289.5,350.2 L293.4,347.5 M288.4,348.8 L291.3,346.0 M287.5,347.4 L285.6,344.5 M287.5,347.4 L289.4,343.9 M286.7,345.8 L284.0,343.1 M286.7,345.8 L288.4,343.3 M286.2,344.2 L287.6,342.6 M286.1,342.5 L283.9,339.5 M286.1,342.5 L289.3,340.4"/>
<path fill="none" stroke="#de8e9a" stroke-width="1.1" stroke-linecap="round" stroke-linejoin="round" d="M298.6,354.4 L299.2,352.8 L300.2,351.4 L301.5,350.4 L302.9,349.4 L304.4,348.7 L305.9,347.8 M300.2,351.4 L300.2,348.3 M300.2,351.4 L303.4,352.8 M301.5,350.4 L302.0,348.0 M301.5,350.4 L305.1,351.0 M302.9,349.4 L303.3,345.3 M302.9,349.4 L305.8,349.5 M304.4,348.7 L305.5,346.7 M305.9,347.8 L305.7,344.0"/>
<path fill="none" stroke="#de8e9a" stroke-width="1.1" stroke-linecap="round" stroke-linejoin="round" d="M294.1,291.2 L293.6,289.6 L293.1,287.9 L292.4,286.3 L292.2,284.6 L291.7,283.0 L291.2,281.4 M293.1,287.9 L288.9,285.0 M293.1,287.9 L294.2,283.9 M292.4,286.3 L290.4,284.8 M292.4,286.3 L294.7,283.4 M291.7,283.0 L292.3,281.1 M291.2,281.4 L289.6,280.4 M291.2,281.4 L291.8,279.0"/>
<path fill="none" stroke="#de8e9a" stroke-width="1.1" stroke-linecap="round" stroke-linejoin="round" d="M291.7,343.8 L291.0,342.4 L290.2,341.1 L289.5,339.7 L289.1,338.2 L289.0,336.6 L289.3,335.1 M291.0,342.4 L288.9,337.5 M290.2,341.1 L287.1,338.1 M290.2,341.1 L292.1,339.2 M289.5,339.7 L285.8,336.4 M289.5,339.7 L294.0,337.3 M289.1,338.2 L291.9,336.1 M289.0,336.6 L287.6,333.4 M289.3,335.1 L288.0,333.0 M289.3,335.1 L291.8,334.1"/>
<path fill="none" stroke="#de8e9a" stroke-width="1.1" stroke-linecap="round" stroke-linejoin="round" d="M305.2,290.7 L304.6,289.1 L304.3,287.3 L304.5,285.6 L305.1,283.9 L305.9,282.4 L306.2,280.6 M304.6,289.1 L301.7,285.7 M304.6,289.1 L309.7,286.3 M304.3,287.3 L301.7,284.6 M304.3,287.3 L309.4,285.2 M304.5,285.6 L302.2,281.1 M304.5,285.6 L308.1,282.5 M305.1,283.9 L302.8,279.9 M305.9,282.4 L304.5,280.2 M305.9,282.4 L309.0,279.4 M306.2,280.6 L305.1,278.7 M306.2,280.6 L308.9,278.7"/>
<path fill="none" stroke="#de8e9a" stroke-width="1.1" stroke-linecap="round" stroke-linejoin="round" d="M302.9,329.8 L303.4,328.5 L304.2,327.4 L304.6,326.2 L304.9,324.8 L305.1,323.5 L305.1,322.2 M303.4,328.5 L301.6,325.4 M304.2,327.4 L301.5,325.8 M304.6,326.2 L302.5,324.4 M304.6,326.2 L307.0,324.5 M304.9,324.8 L301.2,322.4 M304.9,324.8 L308.0,323.2 M305.1,323.5 L303.6,321.1 M305.1,322.2 L304.0,320.5 M305.1,322.2 L307.5,319.4"/>
<path fill="none" stroke="#de8e9a" stroke-width="1.1" stroke-linecap="round" stroke-linejoin="round" d="M288.5,293.7 L290.3,292.6 L291.9,291.1 L293.3,289.5 L295.2,288.4 L297.1,287.3 L299.1,286.5 M290.3,292.6 L292.7,289.5 M290.3,292.6 L294.2,295.1 M291.9,291.1 L293.3,287.4 M291.9,291.1 L294.5,293.0 M293.3,289.5 L293.9,284.8 M293.3,289.5 L297.0,292.5 M295.2,288.4 L296.5,286.1 M295.2,288.4 L297.7,290.5 M297.1,287.3 L301.0,287.8"/>
<path fill="none" stroke="#c24c5e" stroke-width="2.50" stroke-linecap="round" opacity="0.7" d="M293.0,404.0 Q295.9,401.9 298.2,399.3 M280.0,408.0 Q280.8,405.8 281.7,403.7 M312.0,370.0 Q313.3,367.2 315.3,365.0 M318.0,366.0 Q318.4,363.9 318.9,361.8 M316.0,378.0 Q314.7,376.4 313.7,374.7 M380.0,360.0 Q382.0,359.0 383.8,357.7"/>
<path fill="none" stroke="#c24c5e" stroke-width="2.75" stroke-linecap="round" opacity="0.7" d="M296.0,412.0 Q294.4,408.0 293.4,403.7 M296.0,412.0 Q298.6,408.7 301.5,405.7 M293.0,404.0 Q290.2,399.2 287.7,394.2 M293.0,404.0 Q289.4,402.9 285.8,401.6 M293.0,404.0 Q289.4,404.4 285.9,405.2 M293.0,404.0 Q294.2,402.3 295.6,400.9 M293.0,404.0 Q295.7,401.5 298.3,398.9 M291.0,396.0 Q287.8,390.8 283.5,386.7 M291.0,396.0 Q291.7,392.7 292.6,389.5 M291.0,396.0 Q291.5,393.9 291.9,391.8 M290.0,388.0 Q285.7,384.6 282.1,380.4 M290.0,388.0 Q285.2,386.8 280.3,386.0 M290.0,388.0 Q287.1,384.3 284.0,380.8 M290.0,388.0 Q291.8,384.1 293.9,380.5 M290.0,388.0 Q291.7,386.2 293.5,384.6 M292.0,380.0 Q292.8,377.1 293.8,374.2 M292.0,380.0 Q295.0,378.6 297.9,377.1 M295.0,372.0 Q291.8,370.2 289.3,367.7 M295.0,372.0 Q298.4,370.3 301.7,368.3 M299.0,365.0 Q298.0,362.1 296.2,359.7 M299.0,365.0 Q297.2,362.1 295.8,359.0 M299.0,365.0 Q294.1,364.0 289.2,363.8 M299.0,365.0 Q301.2,363.2 303.8,362.1 M303.0,358.0 Q300.3,355.6 297.1,354.1 M303.0,358.0 Q299.9,355.4 296.6,353.2 M303.0,358.0 Q300.0,354.4 296.8,351.0 M306.0,352.0 Q304.8,347.9 303.9,343.7 M306.0,352.0 Q304.6,347.9 304.4,343.6 M306.0,352.0 Q306.2,349.1 305.7,346.3 M306.0,352.0 Q308.2,349.2 310.0,346.2 M306.0,352.0 Q306.3,349.6 306.5,347.1 M306.0,352.0 Q306.5,348.2 307.5,344.5 M284.0,414.0 Q278.9,412.7 274.3,410.2 M284.0,414.0 Q286.8,412.6 289.2,410.6 M284.0,414.0 Q285.7,411.5 288.0,409.7 M284.0,414.0 Q283.9,409.8 283.3,405.6 M280.0,408.0 Q280.4,402.8 281.8,397.9 M280.0,408.0 Q279.6,402.3 279.3,396.6 M280.0,408.0 Q282.5,406.6 284.7,404.7 M302.0,415.0 Q297.8,412.0 293.5,409.0 M302.0,415.0 Q296.7,414.7 291.4,415.1 M302.0,415.0 Q304.1,414.4 306.1,413.7 M302.0,415.0 Q301.6,410.7 300.3,406.7 M309.0,414.0 Q308.4,410.6 308.2,407.1 M309.0,414.0 Q306.4,409.5 304.3,404.8 M309.0,414.0 Q309.7,409.8 310.3,405.6 M309.0,414.0 Q311.2,410.9 313.1,407.7 M309.0,414.0 Q312.2,411.7 315.2,409.1 M309.0,414.0 Q311.9,412.9 314.5,411.3 M286.0,398.0 Q284.3,395.2 282.3,392.8 M286.0,398.0 Q285.9,394.9 285.8,391.8 M286.0,398.0 Q287.0,396.1 288.0,394.2 M284.0,390.0 Q280.9,387.8 277.3,386.7 M284.0,390.0 Q279.3,388.4 274.7,386.4 M284.0,390.0 Q283.4,386.7 283.8,383.4 M284.0,390.0 Q287.5,388.6 291.1,387.8 M312.0,370.0 Q312.1,367.8 312.3,365.5 M318.0,366.0 Q317.6,363.0 317.0,360.1 M324.0,368.0 Q324.7,366.0 325.7,364.1 M316.0,378.0 Q316.3,374.8 316.7,371.6 M372.0,404.0 Q371.3,400.9 370.5,397.8 M370.0,396.0 Q368.1,392.0 366.0,388.0 M370.0,396.0 Q366.7,395.4 363.3,394.9 M370.0,396.0 Q371.8,394.8 373.8,394.0 M370.0,396.0 Q369.9,393.4 369.1,391.0 M370.0,380.0 Q368.2,377.1 366.3,374.3 M370.0,380.0 Q370.7,377.7 371.6,375.6 M372.0,372.0 Q366.7,370.9 361.6,369.6 M372.0,372.0 Q372.3,368.4 371.8,365.0 M372.0,372.0 Q372.4,368.3 372.2,364.6 M372.0,372.0 Q373.8,369.6 376.0,367.6 M376.0,365.0 Q374.9,361.3 373.5,357.8 M376.0,365.0 Q373.4,360.2 371.0,355.4 M376.0,365.0 Q376.9,362.2 378.3,359.7 M380.0,360.0 Q376.0,359.3 371.9,359.4 M380.0,360.0 Q381.8,357.9 383.6,355.9 M380.0,360.0 Q381.5,357.8 383.5,356.0 M380.0,360.0 Q382.1,356.9 384.3,354.0 M360.0,402.0 Q359.3,398.3 358.0,394.8 M360.0,402.0 Q360.9,399.5 361.9,397.0 M364.0,410.0 Q366.5,408.7 369.1,407.6 M382.0,400.0 Q377.5,396.0 374.1,391.2 M382.0,400.0 Q384.6,398.3 387.3,396.8 M386.0,392.0 Q387.4,388.7 389.6,385.9 M352.0,364.0 Q351.0,362.7 349.7,361.8 M358.0,360.0 Q359.0,357.8 359.4,355.5 M358.0,360.0 Q356.3,358.8 354.7,357.6 M358.0,360.0 Q357.0,358.6 355.9,357.4 M346.0,360.0 Q345.5,356.6 344.2,353.5 M346.0,360.0 Q346.9,358.7 348.0,357.7 M346.0,360.0 Q346.5,357.7 347.3,355.6"/>
<path fill="none" stroke="#c24c5e" stroke-width="3.00" stroke-linecap="round" opacity="0.7" d="M296.0,412.0 Q292.0,410.5 287.9,409.2 M296.0,412.0 Q299.2,411.2 302.4,410.3 M293.0,404.0 Q289.0,402.6 284.9,401.4 M293.0,404.0 Q292.6,398.5 293.6,393.2 M293.0,404.0 Q292.0,401.2 291.6,398.3 M293.0,404.0 Q288.4,400.8 283.4,398.1 M293.0,404.0 Q294.0,401.2 295.1,398.4 M293.0,404.0 Q296.5,402.5 299.5,400.3 M291.0,396.0 Q295.0,394.4 299.2,393.7 M291.0,396.0 Q293.3,395.7 295.6,396.0 M290.0,388.0 Q286.5,386.4 282.7,385.4 M290.0,388.0 Q286.1,386.9 282.2,385.7 M290.0,388.0 Q293.6,386.0 297.3,384.0 M290.0,388.0 Q292.6,385.6 294.6,382.8 M292.0,380.0 Q292.8,374.6 294.4,369.4 M292.0,380.0 Q287.1,380.2 282.3,379.7 M292.0,380.0 Q293.1,376.3 293.4,372.5 M292.0,380.0 Q291.8,376.8 291.0,373.7 M295.0,372.0 Q294.8,367.8 294.4,363.7 M295.0,372.0 Q297.9,370.5 300.9,369.3 M295.0,372.0 Q297.4,370.8 299.8,369.7 M295.0,372.0 Q295.8,370.0 296.2,367.9 M299.0,365.0 Q296.3,360.6 294.7,355.7 M299.0,365.0 Q301.8,364.0 304.7,363.5 M299.0,365.0 Q301.0,363.0 302.7,360.7 M299.0,365.0 Q301.4,363.4 303.5,361.4 M299.0,365.0 Q299.4,362.2 299.9,359.5 M303.0,358.0 Q300.2,356.5 297.4,354.9 M303.0,358.0 Q298.8,357.8 294.5,357.6 M303.0,358.0 Q305.7,356.5 307.8,354.3 M303.0,358.0 Q302.8,354.3 302.3,350.7 M303.0,358.0 Q303.7,355.3 303.7,352.5 M306.0,352.0 Q301.1,351.3 296.6,349.5 M306.0,352.0 Q303.9,348.1 301.5,344.3 M306.0,352.0 Q301.9,351.2 297.8,350.9 M306.0,352.0 Q309.1,350.6 312.1,348.9 M284.0,414.0 Q282.2,411.0 280.0,408.4 M284.0,414.0 Q278.8,413.9 273.6,413.9 M284.0,414.0 Q280.7,411.6 277.1,409.9 M284.0,414.0 Q282.1,409.3 281.3,404.4 M284.0,414.0 Q286.7,412.5 289.2,410.7 M280.0,408.0 Q280.4,404.7 281.6,401.6 M280.0,408.0 Q278.1,406.1 276.6,403.8 M280.0,408.0 Q281.6,405.6 283.4,403.4 M280.0,408.0 Q280.4,405.2 280.9,402.5 M302.0,415.0 Q296.6,414.2 291.2,413.5 M302.0,415.0 Q297.9,411.4 293.5,408.1 M302.0,415.0 Q305.7,414.8 309.4,415.5 M309.0,414.0 Q304.9,412.3 301.4,409.7 M309.0,414.0 Q307.5,411.4 306.5,408.6 M309.0,414.0 Q306.9,408.9 304.3,404.0 M309.0,414.0 Q312.7,413.0 316.4,412.2 M286.0,398.0 Q285.6,394.8 285.8,391.7 M286.0,398.0 Q285.4,395.3 284.8,392.6 M286.0,398.0 Q282.3,395.2 278.1,393.6 M286.0,398.0 Q287.8,394.8 290.1,392.0 M286.0,398.0 Q288.3,396.5 290.5,394.7 M286.0,398.0 Q288.6,396.1 291.6,394.7 M284.0,390.0 Q282.7,385.4 282.7,380.8 M284.0,390.0 Q284.9,387.2 285.7,384.4 M284.0,390.0 Q287.8,389.3 291.7,389.5 M288.0,370.0 Q284.8,368.0 281.8,365.8 M288.0,370.0 Q289.7,367.8 291.8,366.0 M288.0,370.0 Q289.6,367.0 291.0,363.9 M288.0,370.0 Q290.1,368.3 291.9,366.3 M288.0,370.0 Q291.1,368.0 293.8,365.6 M312.0,370.0 Q312.6,366.6 313.4,363.4 M312.0,370.0 Q313.0,368.8 314.3,367.8 M318.0,366.0 Q318.4,364.0 319.3,362.2 M318.0,366.0 Q316.4,363.2 315.2,360.2 M324.0,368.0 Q321.3,366.2 318.3,365.3 M324.0,368.0 Q323.9,366.4 323.7,364.8 M316.0,378.0 Q317.4,375.2 319.0,372.4 M372.0,404.0 Q369.2,402.6 366.7,400.8 M372.0,404.0 Q367.0,402.3 362.0,400.8 M372.0,404.0 Q367.1,403.3 362.2,402.4 M372.0,404.0 Q367.4,400.8 362.8,397.7 M372.0,404.0 Q372.8,402.0 373.1,399.9 M370.0,396.0 Q365.3,392.8 361.6,388.6 M370.0,396.0 Q366.0,393.6 361.6,392.2 M370.0,396.0 Q373.4,394.0 376.7,392.0 M369.0,388.0 Q367.7,383.2 366.1,378.4 M369.0,388.0 Q365.8,386.8 362.8,385.2 M369.0,388.0 Q371.1,387.0 373.2,386.3 M369.0,388.0 Q370.8,385.1 372.8,382.3 M370.0,380.0 Q370.6,378.0 371.2,376.0 M370.0,380.0 Q370.9,378.2 372.2,376.6 M372.0,372.0 Q371.1,369.6 370.6,367.1 M372.0,372.0 Q370.9,366.4 368.6,361.2 M376.0,365.0 Q375.2,361.0 374.1,357.1 M376.0,365.0 Q373.8,361.3 371.6,357.5 M376.0,365.0 Q370.6,363.2 364.9,362.3 M380.0,360.0 Q379.6,354.5 379.8,349.0 M380.0,360.0 Q377.5,357.9 375.6,355.3 M360.0,402.0 Q355.6,398.6 350.9,395.9 M360.0,402.0 Q358.7,399.6 357.0,397.5 M360.0,402.0 Q357.9,399.2 356.0,396.3 M360.0,402.0 Q357.0,400.7 354.3,398.8 M360.0,402.0 Q360.9,399.7 361.5,397.4 M360.0,402.0 Q362.0,400.0 364.0,397.9 M364.0,410.0 Q363.3,407.5 363.0,404.9 M364.0,410.0 Q359.5,406.2 355.6,401.9 M364.0,410.0 Q360.0,409.8 355.9,409.7 M364.0,410.0 Q362.1,407.0 360.9,403.7 M364.0,410.0 Q360.5,410.0 357.1,410.9 M364.0,410.0 Q363.9,404.2 364.4,398.4 M364.0,410.0 Q364.2,407.0 364.3,404.0 M364.0,410.0 Q365.4,407.0 365.9,403.8 M382.0,400.0 Q378.9,397.9 375.7,396.1 M382.0,400.0 Q384.1,399.2 386.4,398.9 M382.0,400.0 Q383.0,397.8 384.2,395.8 M386.0,392.0 Q385.3,389.2 385.1,386.4 M386.0,392.0 Q382.4,388.4 379.1,384.6 M386.0,392.0 Q382.0,390.7 377.9,390.5 M386.0,392.0 Q388.4,390.9 390.9,390.2 M352.0,364.0 Q351.8,362.3 351.7,360.5 M352.0,364.0 Q354.4,362.2 357.2,361.0 M352.0,364.0 Q350.7,362.1 349.9,360.0 M358.0,360.0 Q360.4,357.9 362.9,356.1 M346.0,360.0 Q343.5,357.7 341.2,355.3"/>
<path fill="none" stroke="#c24c5e" stroke-width="3.25" stroke-linecap="round" opacity="0.7" d="M296.0,412.0 Q292.8,409.5 289.2,407.7 M296.0,412.0 Q293.2,411.1 290.4,410.1 M296.0,412.0 Q296.7,409.0 297.9,406.2 M296.0,412.0 Q296.0,407.9 295.8,403.7 M296.0,412.0 Q297.2,409.8 298.5,407.6 M293.0,404.0 Q289.1,399.8 285.3,395.5 M291.0,396.0 Q287.1,395.9 283.3,396.6 M291.0,396.0 Q285.3,396.6 279.5,397.1 M291.0,396.0 Q289.1,393.0 288.1,389.6 M291.0,396.0 Q291.5,391.8 291.4,387.7 M290.0,388.0 Q286.8,387.9 283.7,388.6 M290.0,388.0 Q288.7,385.0 287.8,381.9 M290.0,388.0 Q284.9,387.4 279.8,387.1 M290.0,388.0 Q293.9,385.8 297.6,383.2 M292.0,380.0 Q289.3,379.1 286.8,377.8 M292.0,380.0 Q287.1,377.0 283.1,373.1 M292.0,380.0 Q288.3,377.5 284.3,375.5 M292.0,380.0 Q289.0,377.5 285.6,375.8 M292.0,380.0 Q292.5,377.8 293.0,375.6 M295.0,372.0 Q295.1,368.8 295.3,365.7 M295.0,372.0 Q291.9,370.7 289.4,368.6 M295.0,372.0 Q291.9,367.2 287.8,363.3 M295.0,372.0 Q290.0,370.5 284.9,370.0 M295.0,372.0 Q296.0,368.2 297.1,364.5 M299.0,365.0 Q293.2,363.7 287.6,361.6 M299.0,365.0 Q297.9,362.2 296.8,359.4 M299.0,365.0 Q296.8,362.8 294.2,361.2 M303.0,358.0 Q301.7,353.6 300.8,349.1 M303.0,358.0 Q303.5,354.2 304.8,350.7 M303.0,358.0 Q302.6,353.5 301.0,349.4 M306.0,352.0 Q303.3,351.2 300.8,350.0 M306.0,352.0 Q304.3,350.1 302.3,348.3 M306.0,352.0 Q304.1,347.2 303.6,342.1 M284.0,414.0 Q279.5,412.8 275.2,411.3 M284.0,414.0 Q286.4,412.7 288.2,410.9 M280.0,408.0 Q277.0,406.7 274.0,405.4 M280.0,408.0 Q280.9,404.4 281.0,400.7 M302.0,415.0 Q298.8,413.5 295.6,412.0 M302.0,415.0 Q299.8,413.7 297.6,412.4 M302.0,415.0 Q298.9,412.3 295.8,409.7 M302.0,415.0 Q305.2,412.3 308.8,410.4 M302.0,415.0 Q304.8,413.7 307.8,412.7 M309.0,414.0 Q303.9,413.9 299.0,415.0 M309.0,414.0 Q309.1,410.7 309.7,407.5 M309.0,414.0 Q305.0,411.1 300.6,409.1 M286.0,398.0 Q284.1,394.4 282.4,390.6 M286.0,398.0 Q283.6,394.5 281.2,391.0 M286.0,398.0 Q280.2,396.9 274.5,396.0 M284.0,390.0 Q281.2,389.2 278.7,387.9 M284.0,390.0 Q282.0,387.7 279.9,385.5 M284.0,390.0 Q284.6,387.8 284.8,385.5 M284.0,390.0 Q284.2,386.1 284.2,382.3 M288.0,370.0 Q287.8,367.5 287.8,365.0 M288.0,370.0 Q286.2,366.5 283.8,363.5 M288.0,370.0 Q290.2,368.3 292.7,367.2 M324.0,368.0 Q325.1,366.0 325.7,363.7 M316.0,378.0 Q315.7,375.7 316.0,373.4 M372.0,404.0 Q368.8,404.2 365.7,404.9 M372.0,404.0 Q372.7,400.3 373.7,396.7 M372.0,404.0 Q372.5,401.8 373.3,399.8 M372.0,404.0 Q375.3,402.4 378.7,400.9 M370.0,396.0 Q365.1,393.9 360.8,390.8 M370.0,396.0 Q370.9,392.4 371.1,388.7 M369.0,388.0 Q364.6,387.3 360.2,387.3 M369.0,388.0 Q365.2,385.5 361.5,383.0 M369.0,388.0 Q366.0,383.0 363.2,378.0 M369.0,388.0 Q367.7,385.1 366.4,382.2 M369.0,388.0 Q371.4,385.6 374.3,383.9 M369.0,388.0 Q370.8,387.0 372.3,385.7 M370.0,380.0 Q367.3,376.3 365.8,372.1 M370.0,380.0 Q369.4,376.5 369.2,372.9 M370.0,380.0 Q367.2,379.3 364.4,378.8 M370.0,380.0 Q369.0,376.6 368.4,373.1 M370.0,380.0 Q364.9,378.3 359.7,377.9 M370.0,380.0 Q372.3,378.5 374.9,377.5 M372.0,372.0 Q367.9,369.3 363.6,367.0 M372.0,372.0 Q372.2,366.7 372.8,361.5 M372.0,372.0 Q368.1,369.3 364.4,366.3 M372.0,372.0 Q368.1,368.7 363.6,366.0 M372.0,372.0 Q373.7,369.4 375.2,366.7 M376.0,365.0 Q370.5,363.6 365.0,363.4 M376.0,365.0 Q371.3,362.3 367.3,358.7 M376.0,365.0 Q378.1,364.1 380.2,363.1 M376.0,365.0 Q378.7,362.6 380.7,359.7 M376.0,365.0 Q377.3,363.4 378.8,362.1 M380.0,360.0 Q378.1,355.9 376.1,351.8 M380.0,360.0 Q374.2,358.7 368.4,357.4 M360.0,402.0 Q358.8,399.5 356.9,397.4 M360.0,402.0 Q355.6,401.8 351.3,402.6 M360.0,402.0 Q358.9,398.0 357.4,394.3 M360.0,402.0 Q362.9,399.2 366.3,397.3 M364.0,410.0 Q359.5,409.6 355.0,409.8 M364.0,410.0 Q361.0,408.8 357.9,407.9 M364.0,410.0 Q365.3,408.0 366.3,405.8 M382.0,400.0 Q379.2,398.4 376.3,397.2 M382.0,400.0 Q378.4,397.1 374.2,395.1 M382.0,400.0 Q381.0,396.5 379.5,393.3 M382.0,400.0 Q384.2,398.4 386.6,397.2 M386.0,392.0 Q382.6,389.3 379.3,386.4 M386.0,392.0 Q381.8,389.9 377.4,388.3 M386.0,392.0 Q388.2,390.9 390.4,390.2 M386.0,392.0 Q387.2,389.9 388.9,388.2"/>
<path fill="none" stroke="#c24c5e" stroke-width="3.50" stroke-linecap="round" opacity="0.7" d="M296.0,412.0 Q292.4,409.0 289.7,405.2 M296.0,412.0 Q294.6,406.7 292.5,401.7 M296.0,412.0 Q291.5,410.3 286.9,409.2 M296.0,412.0 Q292.7,409.4 289.5,406.8 M291.0,396.0 Q288.4,392.9 286.6,389.4 M291.0,396.0 Q287.5,394.2 284.0,392.2 M291.0,396.0 Q287.7,396.1 284.4,396.2 M291.0,396.0 Q288.6,393.9 285.9,392.1 M292.0,380.0 Q291.2,375.9 290.6,371.8 M292.0,380.0 Q288.7,377.3 285.6,374.5 M295.0,372.0 Q293.7,369.0 292.4,366.0 M295.0,372.0 Q290.9,370.8 286.7,370.0 M299.0,365.0 Q297.7,361.3 296.4,357.7 M303.0,358.0 Q301.1,354.1 298.3,350.9 M303.0,358.0 Q303.0,354.9 302.9,351.8 M284.0,414.0 Q283.8,408.7 284.3,403.4 M284.0,414.0 Q280.0,409.7 275.6,405.9 M280.0,408.0 Q276.2,406.0 272.2,404.5 M280.0,408.0 Q276.8,407.5 273.6,407.7 M280.0,408.0 Q274.3,406.6 268.5,406.3 M302.0,415.0 Q296.0,414.9 290.2,416.1 M286.0,398.0 Q281.8,396.1 277.4,394.6 M284.0,390.0 Q281.0,388.3 278.5,386.1 M284.0,390.0 Q278.2,389.5 272.7,387.9 M288.0,370.0 Q284.4,367.6 281.2,364.8 M288.0,370.0 Q283.6,369.2 279.1,368.4 M288.0,370.0 Q288.1,365.4 289.1,361.0 M288.0,370.0 Q282.8,368.5 277.9,366.1 M288.0,370.0 Q283.0,368.7 278.1,367.2 M372.0,404.0 Q372.8,399.9 374.5,396.2 M372.0,404.0 Q367.5,402.5 362.8,401.5 M370.0,396.0 Q370.6,391.5 371.7,387.1 M370.0,396.0 Q365.6,393.3 360.7,391.8 M370.0,396.0 Q364.1,396.1 358.3,397.1 M369.0,388.0 Q367.0,382.4 365.5,376.6 M369.0,388.0 Q366.2,382.8 363.0,377.9 M370.0,380.0 Q367.2,375.1 363.4,371.0 M370.0,380.0 Q365.2,377.4 360.8,374.2 M372.0,372.0 Q371.8,369.4 371.3,366.8 M376.0,365.0 Q370.7,363.7 365.3,362.9 M380.0,360.0 Q375.4,357.5 370.8,355.1 M380.0,360.0 Q377.4,358.5 374.6,357.3 M380.0,360.0 Q374.7,357.8 369.3,356.2 M382.0,400.0 Q380.0,396.9 377.3,394.3 M382.0,400.0 Q381.9,394.7 382.2,389.5 M382.0,400.0 Q379.3,395.9 377.1,391.6 M386.0,392.0 Q384.9,389.2 383.2,386.9 M386.0,392.0 Q381.0,390.2 375.8,389.9 M386.0,392.0 Q382.1,389.5 378.0,387.4"/>
<path fill="none" stroke="#f3b2b8" stroke-width="1.50" stroke-linecap="round" d="M293.0,404.0 Q295.9,401.9 298.2,399.3 M280.0,408.0 Q280.8,405.8 281.7,403.7 M312.0,370.0 Q313.3,367.2 315.3,365.0 M318.0,366.0 Q318.4,363.9 318.9,361.8 M316.0,378.0 Q314.7,376.4 313.7,374.7 M380.0,360.0 Q382.0,359.0 383.8,357.7"/>
<path fill="none" stroke="#f3b2b8" stroke-width="1.75" stroke-linecap="round" d="M296.0,412.0 Q294.4,408.0 293.4,403.7 M296.0,412.0 Q298.6,408.7 301.5,405.7 M293.0,404.0 Q290.2,399.2 287.7,394.2 M293.0,404.0 Q289.4,402.9 285.8,401.6 M293.0,404.0 Q289.4,404.4 285.9,405.2 M293.0,404.0 Q294.2,402.3 295.6,400.9 M293.0,404.0 Q295.7,401.5 298.3,398.9 M291.0,396.0 Q287.8,390.8 283.5,386.7 M291.0,396.0 Q291.7,392.7 292.6,389.5 M291.0,396.0 Q291.5,393.9 291.9,391.8 M290.0,388.0 Q285.7,384.6 282.1,380.4 M290.0,388.0 Q285.2,386.8 280.3,386.0 M290.0,388.0 Q287.1,384.3 284.0,380.8 M290.0,388.0 Q291.8,384.1 293.9,380.5 M290.0,388.0 Q291.7,386.2 293.5,384.6 M292.0,380.0 Q292.8,377.1 293.8,374.2 M292.0,380.0 Q295.0,378.6 297.9,377.1 M295.0,372.0 Q291.8,370.2 289.3,367.7 M295.0,372.0 Q298.4,370.3 301.7,368.3 M299.0,365.0 Q298.0,362.1 296.2,359.7 M299.0,365.0 Q297.2,362.1 295.8,359.0 M299.0,365.0 Q294.1,364.0 289.2,363.8 M299.0,365.0 Q301.2,363.2 303.8,362.1 M303.0,358.0 Q300.3,355.6 297.1,354.1 M303.0,358.0 Q299.9,355.4 296.6,353.2 M303.0,358.0 Q300.0,354.4 296.8,351.0 M306.0,352.0 Q304.8,347.9 303.9,343.7 M306.0,352.0 Q304.6,347.9 304.4,343.6 M306.0,352.0 Q306.2,349.1 305.7,346.3 M306.0,352.0 Q308.2,349.2 310.0,346.2 M306.0,352.0 Q306.3,349.6 306.5,347.1 M306.0,352.0 Q306.5,348.2 307.5,344.5 M284.0,414.0 Q278.9,412.7 274.3,410.2 M284.0,414.0 Q286.8,412.6 289.2,410.6 M284.0,414.0 Q285.7,411.5 288.0,409.7 M284.0,414.0 Q283.9,409.8 283.3,405.6 M280.0,408.0 Q280.4,402.8 281.8,397.9 M280.0,408.0 Q279.6,402.3 279.3,396.6 M280.0,408.0 Q282.5,406.6 284.7,404.7 M302.0,415.0 Q297.8,412.0 293.5,409.0 M302.0,415.0 Q296.7,414.7 291.4,415.1 M302.0,415.0 Q304.1,414.4 306.1,413.7 M302.0,415.0 Q301.6,410.7 300.3,406.7 M309.0,414.0 Q308.4,410.6 308.2,407.1 M309.0,414.0 Q306.4,409.5 304.3,404.8 M309.0,414.0 Q309.7,409.8 310.3,405.6 M309.0,414.0 Q311.2,410.9 313.1,407.7 M309.0,414.0 Q312.2,411.7 315.2,409.1 M309.0,414.0 Q311.9,412.9 314.5,411.3 M286.0,398.0 Q284.3,395.2 282.3,392.8 M286.0,398.0 Q285.9,394.9 285.8,391.8 M286.0,398.0 Q287.0,396.1 288.0,394.2 M284.0,390.0 Q280.9,387.8 277.3,386.7 M284.0,390.0 Q279.3,388.4 274.7,386.4 M284.0,390.0 Q283.4,386.7 283.8,383.4 M284.0,390.0 Q287.5,388.6 291.1,387.8 M312.0,370.0 Q312.1,367.8 312.3,365.5 M318.0,366.0 Q317.6,363.0 317.0,360.1 M324.0,368.0 Q324.7,366.0 325.7,364.1 M316.0,378.0 Q316.3,374.8 316.7,371.6 M372.0,404.0 Q371.3,400.9 370.5,397.8 M370.0,396.0 Q368.1,392.0 366.0,388.0 M370.0,396.0 Q366.7,395.4 363.3,394.9 M370.0,396.0 Q371.8,394.8 373.8,394.0 M370.0,396.0 Q369.9,393.4 369.1,391.0 M370.0,380.0 Q368.2,377.1 366.3,374.3 M370.0,380.0 Q370.7,377.7 371.6,375.6 M372.0,372.0 Q366.7,370.9 361.6,369.6 M372.0,372.0 Q372.3,368.4 371.8,365.0 M372.0,372.0 Q372.4,368.3 372.2,364.6 M372.0,372.0 Q373.8,369.6 376.0,367.6 M376.0,365.0 Q374.9,361.3 373.5,357.8 M376.0,365.0 Q373.4,360.2 371.0,355.4 M376.0,365.0 Q376.9,362.2 378.3,359.7 M380.0,360.0 Q376.0,359.3 371.9,359.4 M380.0,360.0 Q381.8,357.9 383.6,355.9 M380.0,360.0 Q381.5,357.8 383.5,356.0 M380.0,360.0 Q382.1,356.9 384.3,354.0 M360.0,402.0 Q359.3,398.3 358.0,394.8 M360.0,402.0 Q360.9,399.5 361.9,397.0 M364.0,410.0 Q366.5,408.7 369.1,407.6 M382.0,400.0 Q377.5,396.0 374.1,391.2 M382.0,400.0 Q384.6,398.3 387.3,396.8 M386.0,392.0 Q387.4,388.7 389.6,385.9 M352.0,364.0 Q351.0,362.7 349.7,361.8 M358.0,360.0 Q359.0,357.8 359.4,355.5 M358.0,360.0 Q356.3,358.8 354.7,357.6 M358.0,360.0 Q357.0,358.6 355.9,357.4 M346.0,360.0 Q345.5,356.6 344.2,353.5 M346.0,360.0 Q346.9,358.7 348.0,357.7 M346.0,360.0 Q346.5,357.7 347.3,355.6"/>
<path fill="none" stroke="#f3b2b8" stroke-width="2.00" stroke-linecap="round" d="M296.0,412.0 Q292.0,410.5 287.9,409.2 M296.0,412.0 Q299.2,411.2 302.4,410.3 M293.0,404.0 Q289.0,402.6 284.9,401.4 M293.0,404.0 Q292.6,398.5 293.6,393.2 M293.0,404.0 Q292.0,401.2 291.6,398.3 M293.0,404.0 Q288.4,400.8 283.4,398.1 M293.0,404.0 Q294.0,401.2 295.1,398.4 M293.0,404.0 Q296.5,402.5 299.5,400.3 M291.0,396.0 Q295.0,394.4 299.2,393.7 M291.0,396.0 Q293.3,395.7 295.6,396.0 M290.0,388.0 Q286.5,386.4 282.7,385.4 M290.0,388.0 Q286.1,386.9 282.2,385.7 M290.0,388.0 Q293.6,386.0 297.3,384.0 M290.0,388.0 Q292.6,385.6 294.6,382.8 M292.0,380.0 Q292.8,374.6 294.4,369.4 M292.0,380.0 Q287.1,380.2 282.3,379.7 M292.0,380.0 Q293.1,376.3 293.4,372.5 M292.0,380.0 Q291.8,376.8 291.0,373.7 M295.0,372.0 Q294.8,367.8 294.4,363.7 M295.0,372.0 Q297.9,370.5 300.9,369.3 M295.0,372.0 Q297.4,370.8 299.8,369.7 M295.0,372.0 Q295.8,370.0 296.2,367.9 M299.0,365.0 Q296.3,360.6 294.7,355.7 M299.0,365.0 Q301.8,364.0 304.7,363.5 M299.0,365.0 Q301.0,363.0 302.7,360.7 M299.0,365.0 Q301.4,363.4 303.5,361.4 M299.0,365.0 Q299.4,362.2 299.9,359.5 M303.0,358.0 Q300.2,356.5 297.4,354.9 M303.0,358.0 Q298.8,357.8 294.5,357.6 M303.0,358.0 Q305.7,356.5 307.8,354.3 M303.0,358.0 Q302.8,354.3 302.3,350.7 M303.0,358.0 Q303.7,355.3 303.7,352.5 M306.0,352.0 Q301.1,351.3 296.6,349.5 M306.0,352.0 Q303.9,348.1 301.5,344.3 M306.0,352.0 Q301.9,351.2 297.8,350.9 M306.0,352.0 Q309.1,350.6 312.1,348.9 M284.0,414.0 Q282.2,411.0 280.0,408.4 M284.0,414.0 Q278.8,413.9 273.6,413.9 M284.0,414.0 Q280.7,411.6 277.1,409.9 M284.0,414.0 Q282.1,409.3 281.3,404.4 M284.0,414.0 Q286.7,412.5 289.2,410.7 M280.0,408.0 Q280.4,404.7 281.6,401.6 M280.0,408.0 Q278.1,406.1 276.6,403.8 M280.0,408.0 Q281.6,405.6 283.4,403.4 M280.0,408.0 Q280.4,405.2 280.9,402.5 M302.0,415.0 Q296.6,414.2 291.2,413.5 M302.0,415.0 Q297.9,411.4 293.5,408.1 M302.0,415.0 Q305.7,414.8 309.4,415.5 M309.0,414.0 Q304.9,412.3 301.4,409.7 M309.0,414.0 Q307.5,411.4 306.5,408.6 M309.0,414.0 Q306.9,408.9 304.3,404.0 M309.0,414.0 Q312.7,413.0 316.4,412.2 M286.0,398.0 Q285.6,394.8 285.8,391.7 M286.0,398.0 Q285.4,395.3 284.8,392.6 M286.0,398.0 Q282.3,395.2 278.1,393.6 M286.0,398.0 Q287.8,394.8 290.1,392.0 M286.0,398.0 Q288.3,396.5 290.5,394.7 M286.0,398.0 Q288.6,396.1 291.6,394.7 M284.0,390.0 Q282.7,385.4 282.7,380.8 M284.0,390.0 Q284.9,387.2 285.7,384.4 M284.0,390.0 Q287.8,389.3 291.7,389.5 M288.0,370.0 Q284.8,368.0 281.8,365.8 M288.0,370.0 Q289.7,367.8 291.8,366.0 M288.0,370.0 Q289.6,367.0 291.0,363.9 M288.0,370.0 Q290.1,368.3 291.9,366.3 M288.0,370.0 Q291.1,368.0 293.8,365.6 M312.0,370.0 Q312.6,366.6 313.4,363.4 M312.0,370.0 Q313.0,368.8 314.3,367.8 M318.0,366.0 Q318.4,364.0 319.3,362.2 M318.0,366.0 Q316.4,363.2 315.2,360.2 M324.0,368.0 Q321.3,366.2 318.3,365.3 M324.0,368.0 Q323.9,366.4 323.7,364.8 M316.0,378.0 Q317.4,375.2 319.0,372.4 M372.0,404.0 Q369.2,402.6 366.7,400.8 M372.0,404.0 Q367.0,402.3 362.0,400.8 M372.0,404.0 Q367.1,403.3 362.2,402.4 M372.0,404.0 Q367.4,400.8 362.8,397.7 M372.0,404.0 Q372.8,402.0 373.1,399.9 M370.0,396.0 Q365.3,392.8 361.6,388.6 M370.0,396.0 Q366.0,393.6 361.6,392.2 M370.0,396.0 Q373.4,394.0 376.7,392.0 M369.0,388.0 Q367.7,383.2 366.1,378.4 M369.0,388.0 Q365.8,386.8 362.8,385.2 M369.0,388.0 Q371.1,387.0 373.2,386.3 M369.0,388.0 Q370.8,385.1 372.8,382.3 M370.0,380.0 Q370.6,378.0 371.2,376.0 M370.0,380.0 Q370.9,378.2 372.2,376.6 M372.0,372.0 Q371.1,369.6 370.6,367.1 M372.0,372.0 Q370.9,366.4 368.6,361.2 M376.0,365.0 Q375.2,361.0 374.1,357.1 M376.0,365.0 Q373.8,361.3 371.6,357.5 M376.0,365.0 Q370.6,363.2 364.9,362.3 M380.0,360.0 Q379.6,354.5 379.8,349.0 M380.0,360.0 Q377.5,357.9 375.6,355.3 M360.0,402.0 Q355.6,398.6 350.9,395.9 M360.0,402.0 Q358.7,399.6 357.0,397.5 M360.0,402.0 Q357.9,399.2 356.0,396.3 M360.0,402.0 Q357.0,400.7 354.3,398.8 M360.0,402.0 Q360.9,399.7 361.5,397.4 M360.0,402.0 Q362.0,400.0 364.0,397.9 M364.0,410.0 Q363.3,407.5 363.0,404.9 M364.0,410.0 Q359.5,406.2 355.6,401.9 M364.0,410.0 Q360.0,409.8 355.9,409.7 M364.0,410.0 Q362.1,407.0 360.9,403.7 M364.0,410.0 Q360.5,410.0 357.1,410.9 M364.0,410.0 Q363.9,404.2 364.4,398.4 M364.0,410.0 Q364.2,407.0 364.3,404.0 M364.0,410.0 Q365.4,407.0 365.9,403.8 M382.0,400.0 Q378.9,397.9 375.7,396.1 M382.0,400.0 Q384.1,399.2 386.4,398.9 M382.0,400.0 Q383.0,397.8 384.2,395.8 M386.0,392.0 Q385.3,389.2 385.1,386.4 M386.0,392.0 Q382.4,388.4 379.1,384.6 M386.0,392.0 Q382.0,390.7 377.9,390.5 M386.0,392.0 Q388.4,390.9 390.9,390.2 M352.0,364.0 Q351.8,362.3 351.7,360.5 M352.0,364.0 Q354.4,362.2 357.2,361.0 M352.0,364.0 Q350.7,362.1 349.9,360.0 M358.0,360.0 Q360.4,357.9 362.9,356.1 M346.0,360.0 Q343.5,357.7 341.2,355.3"/>
<path fill="none" stroke="#f3b2b8" stroke-width="2.25" stroke-linecap="round" d="M296.0,412.0 Q292.8,409.5 289.2,407.7 M296.0,412.0 Q293.2,411.1 290.4,410.1 M296.0,412.0 Q296.7,409.0 297.9,406.2 M296.0,412.0 Q296.0,407.9 295.8,403.7 M296.0,412.0 Q297.2,409.8 298.5,407.6 M293.0,404.0 Q289.1,399.8 285.3,395.5 M291.0,396.0 Q287.1,395.9 283.3,396.6 M291.0,396.0 Q285.3,396.6 279.5,397.1 M291.0,396.0 Q289.1,393.0 288.1,389.6 M291.0,396.0 Q291.5,391.8 291.4,387.7 M290.0,388.0 Q286.8,387.9 283.7,388.6 M290.0,388.0 Q288.7,385.0 287.8,381.9 M290.0,388.0 Q284.9,387.4 279.8,387.1 M290.0,388.0 Q293.9,385.8 297.6,383.2 M292.0,380.0 Q289.3,379.1 286.8,377.8 M292.0,380.0 Q287.1,377.0 283.1,373.1 M292.0,380.0 Q288.3,377.5 284.3,375.5 M292.0,380.0 Q289.0,377.5 285.6,375.8 M292.0,380.0 Q292.5,377.8 293.0,375.6 M295.0,372.0 Q295.1,368.8 295.3,365.7 M295.0,372.0 Q291.9,370.7 289.4,368.6 M295.0,372.0 Q291.9,367.2 287.8,363.3 M295.0,372.0 Q290.0,370.5 284.9,370.0 M295.0,372.0 Q296.0,368.2 297.1,364.5 M299.0,365.0 Q293.2,363.7 287.6,361.6 M299.0,365.0 Q297.9,362.2 296.8,359.4 M299.0,365.0 Q296.8,362.8 294.2,361.2 M303.0,358.0 Q301.7,353.6 300.8,349.1 M303.0,358.0 Q303.5,354.2 304.8,350.7 M303.0,358.0 Q302.6,353.5 301.0,349.4 M306.0,352.0 Q303.3,351.2 300.8,350.0 M306.0,352.0 Q304.3,350.1 302.3,348.3 M306.0,352.0 Q304.1,347.2 303.6,342.1 M284.0,414.0 Q279.5,412.8 275.2,411.3 M284.0,414.0 Q286.4,412.7 288.2,410.9 M280.0,408.0 Q277.0,406.7 274.0,405.4 M280.0,408.0 Q280.9,404.4 281.0,400.7 M302.0,415.0 Q298.8,413.5 295.6,412.0 M302.0,415.0 Q299.8,413.7 297.6,412.4 M302.0,415.0 Q298.9,412.3 295.8,409.7 M302.0,415.0 Q305.2,412.3 308.8,410.4 M302.0,415.0 Q304.8,413.7 307.8,412.7 M309.0,414.0 Q303.9,413.9 299.0,415.0 M309.0,414.0 Q309.1,410.7 309.7,407.5 M309.0,414.0 Q305.0,411.1 300.6,409.1 M286.0,398.0 Q284.1,394.4 282.4,390.6 M286.0,398.0 Q283.6,394.5 281.2,391.0 M286.0,398.0 Q280.2,396.9 274.5,396.0 M284.0,390.0 Q281.2,389.2 278.7,387.9 M284.0,390.0 Q282.0,387.7 279.9,385.5 M284.0,390.0 Q284.6,387.8 284.8,385.5 M284.0,390.0 Q284.2,386.1 284.2,382.3 M288.0,370.0 Q287.8,367.5 287.8,365.0 M288.0,370.0 Q286.2,366.5 283.8,363.5 M288.0,370.0 Q290.2,368.3 292.7,367.2 M324.0,368.0 Q325.1,366.0 325.7,363.7 M316.0,378.0 Q315.7,375.7 316.0,373.4 M372.0,404.0 Q368.8,404.2 365.7,404.9 M372.0,404.0 Q372.7,400.3 373.7,396.7 M372.0,404.0 Q372.5,401.8 373.3,399.8 M372.0,404.0 Q375.3,402.4 378.7,400.9 M370.0,396.0 Q365.1,393.9 360.8,390.8 M370.0,396.0 Q370.9,392.4 371.1,388.7 M369.0,388.0 Q364.6,387.3 360.2,387.3 M369.0,388.0 Q365.2,385.5 361.5,383.0 M369.0,388.0 Q366.0,383.0 363.2,378.0 M369.0,388.0 Q367.7,385.1 366.4,382.2 M369.0,388.0 Q371.4,385.6 374.3,383.9 M369.0,388.0 Q370.8,387.0 372.3,385.7 M370.0,380.0 Q367.3,376.3 365.8,372.1 M370.0,380.0 Q369.4,376.5 369.2,372.9 M370.0,380.0 Q367.2,379.3 364.4,378.8 M370.0,380.0 Q369.0,376.6 368.4,373.1 M370.0,380.0 Q364.9,378.3 359.7,377.9 M370.0,380.0 Q372.3,378.5 374.9,377.5 M372.0,372.0 Q367.9,369.3 363.6,367.0 M372.0,372.0 Q372.2,366.7 372.8,361.5 M372.0,372.0 Q368.1,369.3 364.4,366.3 M372.0,372.0 Q368.1,368.7 363.6,366.0 M372.0,372.0 Q373.7,369.4 375.2,366.7 M376.0,365.0 Q370.5,363.6 365.0,363.4 M376.0,365.0 Q371.3,362.3 367.3,358.7 M376.0,365.0 Q378.1,364.1 380.2,363.1 M376.0,365.0 Q378.7,362.6 380.7,359.7 M376.0,365.0 Q377.3,363.4 378.8,362.1 M380.0,360.0 Q378.1,355.9 376.1,351.8 M380.0,360.0 Q374.2,358.7 368.4,357.4 M360.0,402.0 Q358.8,399.5 356.9,397.4 M360.0,402.0 Q355.6,401.8 351.3,402.6 M360.0,402.0 Q358.9,398.0 357.4,394.3 M360.0,402.0 Q362.9,399.2 366.3,397.3 M364.0,410.0 Q359.5,409.6 355.0,409.8 M364.0,410.0 Q361.0,408.8 357.9,407.9 M364.0,410.0 Q365.3,408.0 366.3,405.8 M382.0,400.0 Q379.2,398.4 376.3,397.2 M382.0,400.0 Q378.4,397.1 374.2,395.1 M382.0,400.0 Q381.0,396.5 379.5,393.3 M382.0,400.0 Q384.2,398.4 386.6,397.2 M386.0,392.0 Q382.6,389.3 379.3,386.4 M386.0,392.0 Q381.8,389.9 377.4,388.3 M386.0,392.0 Q388.2,390.9 390.4,390.2 M386.0,392.0 Q387.2,389.9 388.9,388.2"/>
<path fill="none" stroke="#f3b2b8" stroke-width="2.50" stroke-linecap="round" d="M296.0,412.0 Q292.4,409.0 289.7,405.2 M296.0,412.0 Q294.6,406.7 292.5,401.7 M296.0,412.0 Q291.5,410.3 286.9,409.2 M296.0,412.0 Q292.7,409.4 289.5,406.8 M291.0,396.0 Q288.4,392.9 286.6,389.4 M291.0,396.0 Q287.5,394.2 284.0,392.2 M291.0,396.0 Q287.7,396.1 284.4,396.2 M291.0,396.0 Q288.6,393.9 285.9,392.1 M292.0,380.0 Q291.2,375.9 290.6,371.8 M292.0,380.0 Q288.7,377.3 285.6,374.5 M295.0,372.0 Q293.7,369.0 292.4,366.0 M295.0,372.0 Q290.9,370.8 286.7,370.0 M299.0,365.0 Q297.7,361.3 296.4,357.7 M303.0,358.0 Q301.1,354.1 298.3,350.9 M303.0,358.0 Q303.0,354.9 302.9,351.8 M284.0,414.0 Q283.8,408.7 284.3,403.4 M284.0,414.0 Q280.0,409.7 275.6,405.9 M280.0,408.0 Q276.2,406.0 272.2,404.5 M280.0,408.0 Q276.8,407.5 273.6,407.7 M280.0,408.0 Q274.3,406.6 268.5,406.3 M302.0,415.0 Q296.0,414.9 290.2,416.1 M286.0,398.0 Q281.8,396.1 277.4,394.6 M284.0,390.0 Q281.0,388.3 278.5,386.1 M284.0,390.0 Q278.2,389.5 272.7,387.9 M288.0,370.0 Q284.4,367.6 281.2,364.8 M288.0,370.0 Q283.6,369.2 279.1,368.4 M288.0,370.0 Q288.1,365.4 289.1,361.0 M288.0,370.0 Q282.8,368.5 277.9,366.1 M288.0,370.0 Q283.0,368.7 278.1,367.2 M372.0,404.0 Q372.8,399.9 374.5,396.2 M372.0,404.0 Q367.5,402.5 362.8,401.5 M370.0,396.0 Q370.6,391.5 371.7,387.1 M370.0,396.0 Q365.6,393.3 360.7,391.8 M370.0,396.0 Q364.1,396.1 358.3,397.1 M369.0,388.0 Q367.0,382.4 365.5,376.6 M369.0,388.0 Q366.2,382.8 363.0,377.9 M370.0,380.0 Q367.2,375.1 363.4,371.0 M370.0,380.0 Q365.2,377.4 360.8,374.2 M372.0,372.0 Q371.8,369.4 371.3,366.8 M376.0,365.0 Q370.7,363.7 365.3,362.9 M380.0,360.0 Q375.4,357.5 370.8,355.1 M380.0,360.0 Q377.4,358.5 374.6,357.3 M380.0,360.0 Q374.7,357.8 369.3,356.2 M382.0,400.0 Q380.0,396.9 377.3,394.3 M382.0,400.0 Q381.9,394.7 382.2,389.5 M382.0,400.0 Q379.3,395.9 377.1,391.6 M386.0,392.0 Q384.9,389.2 383.2,386.9 M386.0,392.0 Q381.0,390.2 375.8,389.9 M386.0,392.0 Q382.1,389.5 378.0,387.4"/>
<path fill="none" stroke="#c75a6c" stroke-width="13" stroke-linecap="round" d="M331.0,281.0 L331.3,280.3 L331.6,279.6 L331.8,278.8 L332.1,278.1 L332.3,277.3 L332.6,276.6 L332.9,275.9 L333.1,275.1 L333.4,274.4 L333.7,273.7 L334.0,273.0 L334.3,272.3 L334.7,271.7 L335.0,271.0 L335.4,270.4 L335.7,269.7 L336.1,269.1 L336.5,268.5 L336.8,267.9 L337.2,267.3 L337.6,266.8 L338.0,266.2 L338.5,265.6 L338.9,265.1 L339.4,264.5 L339.9,264.0 L340.4,263.5 L341.0,263.0 L341.6,262.5 L342.2,262.0 L342.8,261.5 L343.4,261.1 L344.1,260.6 L344.8,260.1 L345.5,259.7 L346.2,259.3 L347.0,258.8 L347.7,258.4 L348.5,258.1 L349.3,257.7 L350.2,257.3 L351.0,257.0 L351.9,256.7 L352.8,256.4 L353.8,256.1 L354.7,255.8 L355.7,255.5 L356.8,255.3 L357.8,255.0 L358.9,254.8 L359.9,254.6 L361.0,254.4 L362.0,254.3 L363.0,254.2 L364.0,254.1 L365.0,254.0 L366.0,254.0 L366.9,253.9 L367.9,254.0"/>
<path fill="none" stroke="#55788b" stroke-width="13.6" stroke-linecap="round" d="M366.0,254.0 L366.9,253.9 L367.9,254.0 L368.9,254.0 L369.8,254.0 L370.8,254.1 L371.8,254.2 L372.7,254.3 L373.6,254.5 L374.5,254.6 L375.4,254.8 L376.3,255.0 L377.2,255.3 L378.0,255.5 L378.8,255.8 L379.6,256.1 L380.3,256.4 L381.1,256.7 L381.8,257.1 L382.5,257.5 L383.2,257.9 L383.9,258.3 L384.6,258.8 L385.2,259.2 L385.9,259.7 L386.6,260.1 L387.3,260.6 L388.0,261.0 L388.7,261.4 L389.4,261.9 L390.1,262.3 L390.8,262.7 L391.4,263.1 L392.1,263.6 L392.8,264.0 L393.5,264.5 L394.2,265.0 L394.9,265.5 L395.7,266.1 L396.4,266.7 L397.2,267.3 L398.0,268.0 L398.8,268.7 L399.7,269.5 L400.6,270.3 L401.5,271.2 L402.5,272.1 L403.4,273.0 L404.4,273.9 L405.3,274.9 L406.3,275.9 L407.3,276.9 L408.2,277.9 L409.2,278.9 L410.1,280.0 L411.0,281.0 L411.9,282.1 L412.8,283.1 L413.7,284.2 L414.5,285.4 L415.4,286.5 L416.3,287.6 L417.1,288.8 L418.0,290.0 L418.8,291.2 L419.7,292.3 L420.5,293.5 L421.3,294.7 L422.2,295.9 L423.0,297.0 L423.8,298.1 L424.6,299.3 L425.4,300.4 L426.2,301.6 L427.0,302.7 L427.8,303.9 L428.6,305.0 L429.3,306.1 L430.1,307.3 L430.9,308.4 L431.7,309.6 L432.4,310.7 L433.2,311.9 L434.0,313.0"/>
<path fill="none" stroke="#ee98a6" stroke-width="11.8" stroke-linecap="round" d="M331.0,281.0 L331.3,280.3 L331.6,279.6 L331.8,278.8 L332.1,278.1 L332.3,277.3 L332.6,276.6 L332.9,275.9 L333.1,275.1 L333.4,274.4 L333.7,273.7 L334.0,273.0 L334.3,272.3 L334.7,271.7 L335.0,271.0 L335.4,270.4 L335.7,269.7 L336.1,269.1 L336.5,268.5 L336.8,267.9 L337.2,267.3 L337.6,266.8 L338.0,266.2 L338.5,265.6 L338.9,265.1 L339.4,264.5 L339.9,264.0 L340.4,263.5 L341.0,263.0 L341.6,262.5 L342.2,262.0 L342.8,261.5 L343.4,261.1 L344.1,260.6 L344.8,260.1 L345.5,259.7 L346.2,259.3 L347.0,258.8 L347.7,258.4 L348.5,258.1 L349.3,257.7 L350.2,257.3 L351.0,257.0 L351.9,256.7 L352.8,256.4 L353.8,256.1 L354.7,255.8 L355.7,255.5 L356.8,255.3 L357.8,255.0 L358.9,254.8 L359.9,254.6 L361.0,254.4 L362.0,254.3 L363.0,254.2 L364.0,254.1 L365.0,254.0 L366.0,254.0 L366.9,253.9 L367.9,254.0 L368.9,254.0 L369.8,254.0 L370.8,254.1 L371.8,254.2 L372.7,254.3 L373.6,254.5 L374.5,254.6 L375.4,254.8 L376.3,255.0 L377.2,255.3 L378.0,255.5 L378.8,255.8 L379.6,256.1 L380.3,256.4 L381.1,256.7 L381.8,257.1 L382.5,257.5 L383.2,257.9 L383.9,258.3 L384.6,258.8 L385.2,259.2 L385.9,259.7 L386.6,260.1 L387.3,260.6 L388.0,261.0 L388.7,261.4 L389.4,261.9 L390.1,262.3 L390.8,262.7 L391.4,263.1 L392.1,263.6 L392.8,264.0 L393.5,264.5 L394.2,265.0 L394.9,265.5 L395.7,266.1 L396.4,266.7 L397.2,267.3 L398.0,268.0 L398.8,268.7 L399.7,269.5 L400.6,270.3 L401.5,271.2 L402.5,272.1 L403.4,273.0 L404.4,273.9 L405.3,274.9 L406.3,275.9 L407.3,276.9 L408.2,277.9 L409.2,278.9 L410.1,280.0 L411.0,281.0 L411.9,282.1 L412.8,283.1 L413.7,284.2 L414.5,285.4 L415.4,286.5 L416.3,287.6 L417.1,288.8 L418.0,290.0 L418.8,291.2 L419.7,292.3 L420.5,293.5 L421.3,294.7 L422.2,295.9 L423.0,297.0 L423.8,298.1 L424.6,299.3 L425.4,300.4 L426.2,301.6 L427.0,302.7 L427.8,303.9 L428.6,305.0 L429.3,306.1 L430.1,307.3 L430.9,308.4 L431.7,309.6 L432.4,310.7 L433.2,311.9 L434.0,313.0"/>
<path fill="none" stroke="#c9cde0" stroke-width="3.6" d="M369.5,258.0 L370.4,258.1 L371.3,258.2 L372.1,258.3 L373.0,258.4 L373.8,258.6 L374.6,258.7 L375.4,258.9 L376.1,259.1 L376.8,259.3 L377.5,259.5 L378.1,259.8 L378.7,260.0 L379.3,260.3 L379.9,260.6 L380.5,261.0 L381.1,261.3 L381.7,261.7 L382.4,262.1 L383.0,262.6 L383.7,263.0 L384.4,263.5 L385.1,263.9 L385.9,264.4 L386.6,264.8 L387.3,265.3 L388.0,265.7 L388.6,266.1 L389.3,266.5 L389.9,266.9 L390.6,267.4 L391.2,267.8 L391.9,268.2 L392.5,268.7 L393.2,269.2 L393.9,269.8 L394.6,270.4 L395.4,271.0 L396.2,271.7 L397.0,272.5 L397.9,273.3 L398.8,274.1 L399.7,275.0 L400.6,275.9 L401.6,276.8 L402.5,277.7 L403.4,278.7 L404.4,279.6 L405.3,280.6 L406.2,281.6 L407.1,282.6 L408.0,283.6 L408.8,284.6 L409.7,285.6 L410.5,286.7 L411.4,287.8 L412.2,288.9 L413.1,290.0 L413.9,291.2 L414.7,292.3 L415.6,293.5 L416.4,294.7 L417.3,295.8 L418.1,297.0 L418.9,298.2 L419.7,299.3 L420.6,300.5 L421.4,301.6 L422.1,302.7 L422.9,303.8 L423.7,305.0 L424.5,306.1 L425.3,307.2 L426.0,308.4 L426.8,309.5 L427.6,310.7 L428.4,311.8 L429.1,313.0 L429.9,314.1 L430.7,315.3"/>
<path fill="none" stroke="#f6bcc6" stroke-width="3.4" d="M331.1,278.6 L331.3,277.8 L331.6,277.1 L331.9,276.3 L332.1,275.6 L332.4,274.9 L332.7,274.1 L333.0,273.4 L333.3,272.7 L333.6,272.0 L333.9,271.3 L334.3,270.6 L334.7,270.0 L335.0,269.3 L335.4,268.7 L335.8,268.1 L336.2,267.5 L336.6,266.9 L337.0,266.3 L337.4,265.7 L337.9,265.1 L338.3,264.6 L338.8,264.0 L339.3,263.5 L339.9,262.9 L340.5,262.4 L341.1,261.9 L341.7,261.4 L342.3,260.9 L343.0,260.4 L343.7,259.9 L344.4,259.5 L345.1,259.0 L345.8,258.6 L346.6,258.1 L347.4,257.7 L348.2,257.3 L349.0,257.0 L349.9,256.6 L350.7,256.3 L351.6,255.9 L352.6,255.6 L353.5,255.3 L354.5,255.0 L355.5,254.7 L356.6,254.5 L357.6,254.2 L358.7,254.0 L359.8,253.8 L360.8,253.7 L361.9,253.5 L362.9,253.4 L364.0,253.3 L365.0,253.2 L365.9,253.2 L366.9,253.1 L367.9,253.2 L368.9,253.2 L369.9,253.2 L370.9,253.3 L371.8,253.4 L372.8,253.5 L373.8,253.7 L374.7,253.9 L375.6,254.1 L376.5,254.3 L377.4,254.5 L378.2,254.7 L379.1,255.0 L379.9,255.3 L380.7,255.7 L381.4,256.0 L382.2,256.4 L382.9,256.8 L383.6,257.2 L384.3,257.7 L385.0,258.1 L385.7,258.5 L386.4,259.0 L387.0,259.4 L387.7,259.9 L388.4,260.3 L389.1,260.8 L389.8,261.2 L390.5,261.6 L391.2,262.0 L391.9,262.5 L392.6,262.9 L393.3,263.4 L394.0,263.8 L394.7,264.3 L395.4,264.9 L396.1,265.4 L396.9,266.0 L397.7,266.7 L398.5,267.4 L399.4,268.1 L400.2,268.9 L401.1,269.7 L402.1,270.6 L403.0,271.5 L404.0,272.4 L404.9,273.4 L405.9,274.3 L406.9,275.3 L407.9,276.3 L408.8,277.4 L409.8,278.4 L410.7,279.4 L411.6,280.5 L412.5,281.5 L413.4,282.6 L414.3,283.7 L415.2,284.9 L416.0,286.0 L416.9,287.2 L417.8,288.3 L418.6,289.5 L419.5,290.7 L420.3,291.9 L421.2,293.1 L422.0,294.2 L422.8,295.4 L423.7,296.5 L424.5,297.7 L425.3,298.8 L426.1,300.0 L426.9,301.1 L427.7,302.3 L428.4,303.4 L429.2,304.6 L430.0,305.7 L430.8,306.8 L431.5,308.0 L432.3,309.1 L433.1,310.3 L433.9,311.4 L434.7,312.5"/>
<path fill="none" stroke="#fdeef1" stroke-width="1.5" d="M331.1,277.7 L331.4,277.0 L331.7,276.3 L331.9,275.5 L332.2,274.8 L332.5,274.1 L332.8,273.3 L333.1,272.6 L333.4,271.9 L333.8,271.2 L334.1,270.5 L334.5,269.9 L334.9,269.2 L335.2,268.6 L335.6,268.0 L336.0,267.4 L336.4,266.8 L336.8,266.2 L337.2,265.6 L337.7,265.0 L338.2,264.4 L338.7,263.9 L339.2,263.3 L339.8,262.8 L340.3,262.2 L340.9,261.7 L341.6,261.2 L342.2,260.7 L342.9,260.2 L343.5,259.8 L344.3,259.3 L345.0,258.8 L345.7,258.4 L346.5,258.0 L347.3,257.5 L348.1,257.1 L348.9,256.8 L349.8,256.4 L350.6,256.1 L351.6,255.7 L352.5,255.4 L353.5,255.1 L354.5,254.8 L355.5,254.6 L356.5,254.3 L357.6,254.1 L358.7,253.8 L359.7,253.6 L360.8,253.5 L361.9,253.3 L362.9,253.2 L363.9,253.1 L364.9,253.0 L365.9,253.0 L366.9,252.9 L367.9,253.0 L368.9,253.0 L369.9,253.0 L370.9,253.1 L371.9,253.2 L372.8,253.4 L373.8,253.5 L374.7,253.7 L375.6,253.9 L376.5,254.1 L377.4,254.3 L378.3,254.5 L379.1,254.8 L380.0,255.1 L380.8,255.5 L381.5,255.8 L382.3,256.2 L383.0,256.6 L383.7,257.0 L384.4,257.5 L385.1,257.9 L385.8,258.4 L386.5,258.8 L387.1,259.3 L387.8,259.7 L388.5,260.2 L389.2,260.6 L389.9,261.0 L390.6,261.4 L391.3,261.9 L392.0,262.3 L392.7,262.7 L393.4,263.2 L394.1,263.7 L394.8,264.2 L395.5,264.7 L396.3,265.3 L397.0,265.9 L397.8,266.5 L398.7,267.2 L399.5,268.0 L400.4,268.8 L401.3,269.6 L402.2,270.5 L403.2,271.4 L404.1,272.3 L405.1,273.2 L406.1,274.2 L407.0,275.2 L408.0,276.2 L409.0,277.2 L409.9,278.3 L410.8,279.3 L411.8,280.3 L412.7,281.4 L413.6,282.5 L414.4,283.6 L415.3,284.7 L416.2,285.9 L417.1,287.1 L417.9,288.2 L418.8,289.4 L419.6,290.6 L420.5,291.8 L421.3,292.9 L422.2,294.1 L423.0,295.3 L423.8,296.4 L424.6,297.6 L425.4,298.7 L426.2,299.9 L427.0,301.0 L427.8,302.1 L428.6,303.3 L429.4,304.4 L430.2,305.6 L430.9,306.7 L431.7,307.9 L432.5,309.0 L433.3,310.2 L434.0,311.3 L434.8,312.4"/>
<path fill="none" stroke="#d87a88" stroke-width="0.8" opacity="0.7" d="M366.0,255.8 L366.9,255.7 L367.9,255.8 L368.8,255.8 L369.7,255.8 L370.6,255.9 L371.5,256.0 L372.4,256.1 L373.3,256.3 L374.2,256.4 L375.0,256.6 L375.9,256.8 L376.7,257.0 L377.5,257.2 L378.2,257.5 L378.9,257.7 L379.6,258.0 L380.3,258.3 L380.9,258.7 L381.6,259.1 L382.3,259.4 L382.9,259.9 L383.6,260.3 L384.2,260.7 L384.9,261.2 L385.6,261.6 L386.3,262.1 L387.0,262.5 L387.8,263.0 L388.5,263.4 L389.1,263.8 L389.8,264.2 L390.5,264.7 L391.1,265.1 L391.8,265.5 L392.5,266.0 L393.2,266.5 L393.8,267.0 L394.6,267.5 L395.3,268.1 L396.0,268.7 L396.8,269.4 L397.6,270.1 L398.5,270.9 L399.4,271.7 L400.3,272.5 L401.2,273.4 L402.2,274.3 L403.1,275.2 L404.1,276.2 L405.0,277.1 L406.0,278.1 L406.9,279.1 L407.8,280.1 L408.7,281.2 L409.6,282.2 L410.5,283.2 L411.4,284.3 L412.2,285.3 L413.1,286.5 L414.0,287.6 L414.8,288.7 L415.7,289.9 L416.5,291.0 L417.4,292.2 L418.2,293.4 L419.0,294.6 L419.9,295.7 L420.7,296.9 L421.5,298.0 L422.3,299.2 L423.2,300.3 L423.9,301.5 L424.7,302.6 L425.5,303.7 L426.3,304.9 L427.1,306.0 L427.8,307.2 L428.6,308.3 L429.4,309.4 L430.2,310.6 L430.9,311.7 L431.7,312.9 L432.5,314.0"/>
<path fill="#f08aa8" stroke="#e2648a" stroke-width="1" d="M331.0,274.0 L332.0,273.7 L332.9,273.4 L333.9,273.1 L334.8,272.9 L335.7,272.7 L336.6,272.5 L337.4,272.4 L338.3,272.3 L339.1,272.3 L340.0,272.3 L340.9,272.3 L341.7,272.4 L342.6,272.5 L343.4,272.6 L344.2,272.8 L345.0,273.0 L345.8,273.3 L346.6,273.6 L347.3,274.0 L348.0,274.5 L348.7,275.0 L349.3,275.6 L349.9,276.3 L350.5,277.0 L351.1,277.7 L351.7,278.6 L352.2,279.4 L352.7,280.4 L353.1,281.4 L353.5,282.5 L353.9,283.7 L354.2,284.9 L354.4,286.3 L354.7,287.7 L354.9,289.1 L355.1,290.6 L355.2,292.2 L355.4,293.8 L355.5,295.4 L355.6,297.0 L355.7,298.6 L355.8,300.3 L355.8,302.0 L355.8,303.8 L355.8,305.6 L355.8,307.4 L355.8,309.3 L355.7,311.2 L355.7,313.1 L355.6,315.0 L355.5,317.0 L355.5,319.0 L355.5,321.0 L355.4,323.1 L355.4,325.2 L355.2,327.3 L355.1,329.5 L354.8,331.6 L354.5,333.8 L354.0,336.0 L353.4,338.3 L352.8,340.6 L352.0,343.1 L351.2,345.6 L350.3,348.0 L349.4,350.5 L348.4,352.8 L347.3,355.0 L346.2,357.1 L345.0,359.0 L343.7,360.7 L342.4,362.4 L340.9,364.0 L339.4,365.4 L337.9,366.8 L336.3,368.0 L334.7,369.1 L333.1,370.1 L331.5,370.9 L330.0,371.5 L328.5,372.0 L326.9,372.2 L325.4,372.3 L323.8,372.3 L322.3,372.2 L320.7,371.9 L319.2,371.5 L317.8,371.1 L316.4,370.6 L315.0,370.0 L313.7,369.4 L312.4,368.7 L311.1,367.9 L309.9,367.1 L308.6,366.2 L307.5,365.1 L306.4,364.0 L305.3,362.8 L304.4,361.4 L303.5,360.0 L302.7,358.4 L301.9,356.7 L301.3,354.8 L300.6,352.8 L300.1,350.8 L299.6,348.6 L299.1,346.5 L298.8,344.3 L298.5,342.1 L298.2,340.0 L298.0,337.9 L297.9,335.6 L297.9,333.4 L297.9,331.1 L298.0,328.8 L298.1,326.5 L298.3,324.3 L298.5,322.1 L298.7,320.0 L299.0,318.0 L299.3,316.1 L299.7,314.2 L300.1,312.4 L300.6,310.6 L301.1,308.9 L301.7,307.3 L302.2,305.6 L302.8,304.1 L303.4,302.5 L304.0,301.0 L304.6,299.5 L305.2,298.1 L305.9,296.7 L306.6,295.3 L307.2,294.0 L308.0,292.7 L308.7,291.5 L309.4,290.3 L310.2,289.1 L311.0,288.0 L311.8,286.9 L312.6,285.9 L313.5,284.9 L314.4,283.9 L315.2,283.0 L316.2,282.1 L317.1,281.3 L318.0,280.5 L319.0,279.7 L320.0,279.0 L321.0,278.3 L322.1,277.7 L323.2,277.1 L324.4,276.6 L325.5,276.0 L326.6,275.6 L327.8,275.1 L328.9,274.7 L330.0,274.3 Z"/>
<path fill="#f3b0c4" stroke="#f9cedb" stroke-width="1.6" d="M330.7,280.5 L331.5,280.3 L332.3,280.0 L333.1,279.8 L333.9,279.6 L334.6,279.4 L335.4,279.3 L336.1,279.2 L336.8,279.1 L337.5,279.1 L338.2,279.1 L338.9,279.1 L339.7,279.2 L340.4,279.3 L341.1,279.4 L341.8,279.5 L342.5,279.7 L343.1,279.9 L343.8,280.2 L344.4,280.6 L345.0,281.0 L345.5,281.4 L346.1,281.9 L346.6,282.4 L347.1,283.0 L347.6,283.7 L348.0,284.4 L348.5,285.1 L348.9,285.9 L349.2,286.8 L349.6,287.7 L349.9,288.7 L350.1,289.7 L350.4,290.8 L350.6,292.0 L350.7,293.2 L350.9,294.5 L351.0,295.8 L351.1,297.1 L351.2,298.5 L351.3,299.9 L351.4,301.2 L351.5,302.7 L351.5,304.1 L351.5,305.6 L351.5,307.1 L351.5,308.6 L351.5,310.2 L351.5,311.7 L351.4,313.4 L351.3,315.0 L351.3,316.6 L351.3,318.3 L351.2,320.0 L351.2,321.8 L351.1,323.5 L351.0,325.3 L350.9,327.1 L350.7,328.9 L350.4,330.8 L350.0,332.6 L349.5,334.5 L349.0,336.5 L348.3,338.6 L347.7,340.6 L346.9,342.7 L346.1,344.8 L345.3,346.7 L344.4,348.6 L343.4,350.4 L342.4,351.9 L341.4,353.4 L340.2,354.8 L339.0,356.1 L337.8,357.3 L336.4,358.5 L335.1,359.5 L333.8,360.4 L332.4,361.2 L331.1,361.9 L329.8,362.4 L328.6,362.8 L327.3,363.1 L326.0,363.1 L324.7,363.1 L323.4,363.0 L322.1,362.8 L320.8,362.5 L319.6,362.1 L318.4,361.6 L317.2,361.2 L316.1,360.7 L315.0,360.1 L314.0,359.4 L312.9,358.7 L311.9,357.9 L310.9,357.1 L310.0,356.1 L309.1,355.1 L308.3,354.0 L307.6,352.8 L306.9,351.4 L306.3,350.0 L305.7,348.4 L305.2,346.7 L304.7,345.0 L304.3,343.2 L303.9,341.4 L303.6,339.6 L303.3,337.8 L303.1,336.0 L303.0,334.2 L302.9,332.3 L302.8,330.4 L302.9,328.5 L302.9,326.6 L303.0,324.7 L303.2,322.8 L303.4,321.0 L303.6,319.2 L303.8,317.5 L304.1,315.9 L304.4,314.3 L304.7,312.8 L305.1,311.3 L305.6,309.9 L306.0,308.5 L306.5,307.1 L307.0,305.8 L307.5,304.5 L308.0,303.2 L308.5,302.0 L309.0,300.8 L309.6,299.6 L310.1,298.4 L310.7,297.3 L311.3,296.3 L311.9,295.2 L312.6,294.2 L313.2,293.2 L313.9,292.3 L314.6,291.4 L315.3,290.5 L316.0,289.7 L316.7,288.9 L317.4,288.1 L318.2,287.4 L319.0,286.7 L319.8,286.0 L320.6,285.3 L321.4,284.7 L322.3,284.2 L323.2,283.6 L324.1,283.1 L325.1,282.7 L326.1,282.3 L327.0,281.9 L328.0,281.5 L328.9,281.1 L329.8,280.8 Z"/>
<path fill="#d8336a" stroke="#b262c8" stroke-width="0.6" d="M328.9,284.5 L329.9,284.1 L331.0,283.6 L332.1,283.0 L333.2,282.5 L334.3,282.1 L335.5,281.8 L336.8,281.6 L338.1,281.6 L339.4,281.8 L340.7,282.2 L341.9,282.7 L343.0,283.4 L344.1,284.0 L345.1,284.7 L346.2,285.4 L347.2,286.0 L346.8,287.0 L345.6,286.6 L344.4,286.3 L343.2,285.9 L342.0,285.5 L340.9,285.1 L339.8,284.8 L338.8,284.6 L337.9,284.4 L336.9,284.4 L336.0,284.5 L334.9,284.6 L333.8,284.8 L332.7,285.0 L331.5,285.2 L330.3,285.4 L329.1,285.5 Z M318.6,296.1 L319.1,295.4 L319.5,294.6 L319.9,293.8 L320.4,293.1 L321.0,292.3 L321.6,291.6 L322.4,291.0 L323.4,290.5 L324.4,290.2 L325.4,290.0 L326.4,290.1 L327.4,290.2 L328.3,290.3 L329.2,290.5 L330.1,290.7 L331.0,290.9 L331.0,292.1 L330.1,292.3 L329.2,292.5 L328.3,292.7 L327.4,292.8 L326.6,293.0 L325.8,293.1 L325.2,293.3 L324.6,293.5 L324.1,293.8 L323.6,294.1 L323.0,294.5 L322.3,294.9 L321.7,295.4 L320.9,296.0 L320.2,296.5 L319.4,296.9 Z M320.1,296.5 L320.9,296.3 L321.7,296.2 L322.5,296.1 L323.2,296.2 L324.0,296.4 L324.7,296.7 L325.4,297.1 L326.1,297.5 L325.9,298.5 L325.1,298.7 L324.3,298.8 L323.5,298.9 L322.8,298.8 L322.0,298.6 L321.3,298.3 L320.6,297.9 L319.9,297.5 Z M323.6,303.6 L324.1,302.7 L324.7,301.7 L325.2,300.7 L325.9,299.7 L326.6,298.7 L327.4,297.8 L328.5,297.1 L329.9,296.7 L331.3,296.9 L332.4,297.4 L333.4,298.2 L334.3,299.0 L335.1,299.9 L335.9,300.8 L336.6,301.7 L337.4,302.5 L336.6,303.5 L335.6,303.0 L334.6,302.4 L333.5,301.8 L332.5,301.2 L331.7,300.7 L330.9,300.4 L330.4,300.3 L330.1,300.3 L329.9,300.3 L329.4,300.5 L328.8,301.0 L328.0,301.6 L327.2,302.3 L326.3,303.1 L325.4,303.8 L324.4,304.4 Z M338.4,286.5 L339.4,287.1 L340.4,287.6 L341.4,288.2 L342.5,288.8 L343.6,289.5 L344.5,290.3 L345.3,291.4 L345.7,292.8 L345.7,294.2 L345.3,295.5 L344.6,296.6 L343.8,297.6 L343.0,298.6 L342.1,299.5 L341.3,300.4 L340.5,301.3 L339.5,300.7 L339.8,299.6 L340.4,298.4 L340.9,297.2 L341.4,296.1 L341.9,295.1 L342.1,294.3 L342.3,293.6 L342.3,293.2 L342.2,292.9 L341.9,292.4 L341.4,291.7 L340.7,291.0 L339.9,290.2 L339.1,289.3 L338.3,288.4 L337.6,287.5 Z M343.9,292.6 L344.5,292.1 L345.2,291.6 L345.9,291.2 L346.6,290.9 L347.4,290.7 L348.2,290.6 L349.0,290.6 L349.9,290.6 L350.1,291.4 L349.5,291.9 L348.8,292.4 L348.1,292.8 L347.4,293.1 L346.6,293.3 L345.8,293.4 L345.0,293.4 L344.1,293.4 Z M332.6,311.3 L333.5,310.4 L334.5,309.4 L335.5,308.4 L336.5,307.5 L337.6,306.6 L338.7,305.7 L339.9,305.0 L341.1,304.4 L342.3,303.9 L343.5,303.6 L344.6,303.5 L345.7,303.4 L346.7,303.5 L347.8,303.6 L348.8,303.6 L349.8,303.7 L350.2,305.3 L349.2,305.8 L348.3,306.3 L347.3,306.7 L346.4,307.1 L345.5,307.5 L344.7,307.9 L343.8,308.2 L342.9,308.6 L342.0,309.0 L340.9,309.5 L339.8,310.1 L338.6,310.6 L337.3,311.2 L336.0,311.7 L334.7,312.2 L333.4,312.7 Z M338.1,312.4 L339.1,312.3 L340.2,312.2 L341.3,312.2 L342.3,312.2 L343.3,312.1 L344.2,312.1 L345.0,312.0 L345.6,311.9 L346.2,311.7 L346.7,311.6 L347.2,311.3 L347.8,311.0 L348.5,310.6 L349.2,310.2 L349.9,309.9 L350.6,309.5 L351.4,310.5 L350.9,311.1 L350.5,311.7 L350.0,312.4 L349.6,313.0 L349.0,313.7 L348.3,314.3 L347.4,314.8 L346.4,315.1 L345.3,315.3 L344.2,315.2 L343.1,315.1 L342.0,314.8 L341.0,314.5 L339.9,314.2 L338.9,313.9 L337.9,313.6 Z M310.4,323.8 L310.7,322.3 L311.0,320.8 L311.3,319.3 L311.6,317.8 L312.0,316.3 L312.4,314.9 L312.9,313.5 L313.4,312.2 L314.1,311.1 L314.8,310.0 L315.5,309.2 L316.3,308.4 L317.1,307.7 L317.9,307.0 L318.7,306.3 L319.5,305.6 L320.5,306.4 L320.0,307.4 L319.5,308.3 L319.1,309.2 L318.6,310.1 L318.1,311.0 L317.6,311.9 L317.1,312.8 L316.6,313.8 L316.0,314.9 L315.5,316.1 L314.9,317.4 L314.3,318.7 L313.6,320.1 L313.0,321.5 L312.3,322.9 L311.6,324.2 Z M328.5,313.9 L328.8,314.6 L329.2,315.3 L329.5,316.0 L329.9,316.7 L330.2,317.5 L330.4,318.4 L330.5,319.3 L330.4,320.2 L330.2,321.2 L329.8,322.0 L329.3,322.8 L328.8,323.6 L328.2,324.3 L327.6,324.9 L327.0,325.6 L326.4,326.2 L325.6,325.8 L325.8,324.9 L326.1,324.1 L326.4,323.2 L326.7,322.4 L327.0,321.7 L327.3,321.0 L327.5,320.3 L327.6,319.8 L327.7,319.2 L327.7,318.6 L327.7,318.0 L327.6,317.3 L327.6,316.5 L327.5,315.7 L327.5,314.9 L327.5,314.1 Z M329.2,319.7 L330.0,320.0 L330.8,320.3 L331.5,320.7 L332.2,321.1 L332.8,321.7 L333.3,322.3 L333.8,323.0 L334.2,323.7 L333.8,324.3 L333.0,324.0 L332.2,323.7 L331.5,323.3 L330.8,322.9 L330.2,322.3 L329.7,321.7 L329.2,321.0 L328.8,320.3 Z M307.7,300.8 L308.1,300.1 L308.4,299.4 L308.8,298.7 L309.2,298.1 L309.6,297.4 L310.1,296.8 L310.7,296.1 L311.4,295.6 L312.1,295.1 L312.9,294.8 L313.7,294.5 L314.6,294.3 L315.4,294.1 L316.2,294.0 L317.1,293.8 L317.9,293.6 L318.1,294.4 L317.4,294.8 L316.7,295.2 L315.9,295.6 L315.2,296.0 L314.5,296.3 L313.8,296.7 L313.2,297.0 L312.6,297.4 L312.1,297.8 L311.6,298.2 L311.1,298.7 L310.6,299.2 L310.0,299.7 L309.5,300.2 L308.9,300.8 L308.3,301.2 Z M348.4,295.8 L348.9,296.3 L349.4,296.8 L349.9,297.2 L350.4,297.8 L350.9,298.3 L351.4,299.0 L351.8,299.8 L352.2,300.6 L352.4,301.6 L352.5,302.6 L352.6,303.7 L352.6,304.7 L352.6,305.8 L352.5,306.9 L352.5,307.9 L352.4,309.0 L351.6,309.0 L351.3,308.0 L351.1,307.0 L350.9,305.9 L350.6,304.9 L350.5,303.9 L350.3,303.0 L350.1,302.1 L349.8,301.4 L349.6,300.7 L349.4,300.1 L349.1,299.5 L348.8,298.9 L348.5,298.3 L348.2,297.6 L347.9,296.9 L347.6,296.2 Z M315.4,337.7 L315.7,336.7 L316.1,335.7 L316.4,334.6 L316.7,333.7 L317.1,332.7 L317.5,331.8 L317.9,330.9 L318.4,330.1 L318.8,329.3 L319.3,328.7 L319.7,328.0 L320.2,327.4 L320.7,326.9 L321.3,326.3 L321.8,325.8 L322.4,325.2 L323.6,325.8 L323.4,326.6 L323.3,327.4 L323.1,328.1 L322.9,328.9 L322.7,329.6 L322.4,330.4 L322.0,331.1 L321.6,331.9 L321.2,332.7 L320.6,333.5 L320.0,334.3 L319.4,335.2 L318.7,336.0 L318.0,336.8 L317.3,337.6 L316.6,338.3 Z M324.4,339.8 L324.5,339.0 L324.5,338.2 L324.5,337.4 L324.6,336.6 L324.7,335.7 L324.9,334.9 L325.2,334.0 L325.6,333.2 L326.0,332.4 L326.6,331.7 L327.2,331.1 L327.9,330.6 L328.5,330.1 L329.2,329.6 L329.9,329.1 L330.6,328.6 L331.4,329.4 L331.1,330.1 L330.7,330.9 L330.3,331.6 L329.9,332.3 L329.5,333.0 L329.1,333.6 L328.8,334.2 L328.4,334.8 L328.1,335.4 L327.8,336.0 L327.5,336.6 L327.2,337.3 L326.8,338.0 L326.4,338.7 L326.0,339.5 L325.6,340.2 Z M333.4,339.7 L333.7,338.7 L334.0,337.7 L334.3,336.7 L334.7,335.7 L335.1,334.8 L335.5,333.9 L335.9,333.0 L336.4,332.1 L336.9,331.2 L337.5,330.4 L338.1,329.5 L338.7,328.7 L339.3,328.0 L340.0,327.2 L340.7,326.4 L341.4,325.7 L342.6,326.3 L342.3,327.3 L342.0,328.3 L341.7,329.3 L341.3,330.3 L340.9,331.2 L340.5,332.1 L340.1,333.0 L339.6,333.9 L339.1,334.8 L338.5,335.6 L337.9,336.5 L337.3,337.3 L336.7,338.0 L336.0,338.8 L335.3,339.6 L334.6,340.3 Z M302.5,337.8 L302.5,337.1 L302.5,336.4 L302.6,335.7 L302.6,335.1 L302.7,334.3 L302.9,333.6 L303.2,332.9 L303.6,332.2 L304.1,331.5 L304.6,330.8 L305.2,330.2 L305.9,329.6 L306.5,329.1 L307.2,328.6 L307.9,328.1 L308.6,327.6 L309.4,328.4 L309.1,329.1 L308.7,329.9 L308.3,330.6 L307.9,331.4 L307.5,332.1 L307.1,332.7 L306.7,333.3 L306.4,333.8 L306.1,334.4 L305.8,334.9 L305.5,335.4 L305.1,335.9 L304.8,336.5 L304.4,337.1 L304.0,337.6 L303.5,338.2 Z M324.9,321.6 L325.5,321.3 L326.1,321.0 L326.8,320.7 L327.4,320.5 L328.1,320.2 L328.7,320.0 L329.4,319.9 L330.1,319.9 L330.8,320.1 L331.4,320.4 L331.8,320.7 L332.2,321.1 L332.5,321.5 L332.7,321.9 L333.0,322.3 L333.2,322.7 L332.8,323.3 L332.3,323.1 L331.9,322.9 L331.4,322.7 L331.0,322.5 L330.7,322.3 L330.4,322.2 L330.1,322.1 L329.9,322.1 L329.5,322.1 L329.0,322.1 L328.5,322.1 L327.8,322.2 L327.2,322.2 L326.5,322.3 L325.8,322.4 L325.1,322.4 Z M313.7,289.7 L314.2,289.0 L314.7,288.2 L315.2,287.5 L315.7,286.7 L316.3,286.0 L316.9,285.3 L317.6,284.6 L318.4,284.0 L319.3,283.6 L320.3,283.3 L321.2,283.1 L322.2,282.9 L323.1,282.9 L324.1,282.8 L325.0,282.7 L325.9,282.6 L326.1,283.4 L325.2,283.7 L324.3,284.1 L323.4,284.4 L322.6,284.7 L321.7,285.0 L320.9,285.3 L320.2,285.6 L319.6,286.0 L318.9,286.4 L318.3,286.8 L317.7,287.3 L317.0,287.9 L316.4,288.5 L315.7,289.1 L315.0,289.7 L314.3,290.3 Z M340.2,278.7 L340.9,279.1 L341.6,279.4 L342.3,279.8 L343.0,280.2 L343.7,280.6 L344.4,281.1 L345.1,281.7 L345.8,282.4 L346.4,283.2 L346.9,284.0 L347.3,285.0 L347.8,285.9 L348.2,286.9 L348.5,287.9 L348.9,288.9 L349.3,289.8 L348.7,290.2 L348.1,289.3 L347.5,288.5 L346.9,287.6 L346.4,286.7 L345.8,285.8 L345.3,285.0 L344.7,284.3 L344.2,283.6 L343.7,283.0 L343.2,282.5 L342.7,282.0 L342.1,281.5 L341.5,280.9 L340.9,280.4 L340.4,279.9 L339.8,279.3 Z M304.7,315.0 L304.6,314.1 L304.6,313.2 L304.6,312.3 L304.6,311.4 L304.6,310.4 L304.7,309.5 L304.8,308.6 L305.1,307.7 L305.4,306.8 L305.8,306.0 L306.2,305.3 L306.7,304.6 L307.2,303.9 L307.7,303.2 L308.2,302.5 L308.7,301.8 L309.3,302.2 L309.0,303.0 L308.7,303.8 L308.4,304.6 L308.1,305.3 L307.8,306.1 L307.5,306.8 L307.2,307.6 L306.9,308.3 L306.7,309.0 L306.5,309.8 L306.4,310.7 L306.2,311.5 L306.0,312.4 L305.8,313.3 L305.6,314.2 L305.3,315.0 Z M347.4,317.8 L347.9,318.6 L348.5,319.4 L349.1,320.2 L349.6,321.0 L350.2,321.9 L350.6,322.8 L351.0,323.8 L351.2,324.8 L351.3,325.9 L351.2,327.0 L351.0,328.1 L350.7,329.1 L350.4,330.1 L350.1,331.1 L349.7,332.1 L349.4,333.1 L348.6,332.9 L348.6,331.9 L348.6,330.8 L348.7,329.8 L348.8,328.8 L348.9,327.8 L348.9,326.8 L348.9,326.0 L348.8,325.2 L348.7,324.4 L348.5,323.6 L348.2,322.7 L347.9,321.9 L347.5,321.0 L347.2,320.1 L346.9,319.1 L346.6,318.2 Z M340.3,317.7 L340.9,318.1 L341.5,318.5 L342.1,318.8 L342.7,319.2 L343.3,319.7 L343.9,320.2 L344.5,320.8 L344.9,321.4 L345.3,322.2 L345.6,323.0 L345.8,323.8 L346.0,324.6 L346.1,325.5 L346.2,326.3 L346.3,327.1 L346.4,327.9 L345.6,328.1 L345.3,327.4 L344.9,326.6 L344.6,325.9 L344.3,325.1 L344.0,324.4 L343.7,323.7 L343.4,323.1 L343.1,322.6 L342.7,322.1 L342.4,321.6 L342.0,321.1 L341.5,320.5 L341.1,320.0 L340.6,319.5 L340.2,318.9 L339.7,318.3 Z M318.2,314.7 L318.8,315.1 L319.5,315.5 L320.1,316.0 L320.7,316.5 L321.2,316.8 L321.6,317.1 L321.7,317.1 L321.6,317.1 L321.6,317.1 L321.8,316.8 L322.1,316.1 L322.3,315.4 L322.7,314.5 L323.0,313.6 L323.3,312.7 L323.7,311.9 L324.3,312.1 L324.2,312.9 L324.1,313.8 L324.0,314.8 L323.9,315.8 L323.7,316.7 L323.5,317.5 L323.1,318.3 L322.4,318.9 L321.5,319.0 L320.7,318.7 L320.1,318.2 L319.6,317.6 L319.1,317.0 L318.6,316.4 L318.2,315.8 L317.8,315.3 Z"/>
<path fill="#e25470" stroke="#c22872" stroke-width="0.7" d="M319.0,346.0 L320.2,344.7 L321.8,343.7 L323.5,343.1 L325.0,343.0 L326.4,343.6 L327.9,344.7 L329.1,346.2 L330.0,348.0 L330.4,350.2 L330.6,352.9 L330.4,355.6 L330.0,358.0 L329.3,360.2 L328.4,362.3 L327.2,364.0 L326.0,365.0 L324.5,365.1 L322.9,364.4 L321.3,363.3 L320.0,362.0 L319.1,360.4 L318.6,358.3 L318.2,356.1 L318.0,354.0 L317.9,351.9 L318.0,349.7 L318.3,347.6 Z M329.0,344.0 L330.2,342.6 L332.1,341.9 L334.2,341.7 L336.0,342.0 L337.5,342.9 L338.9,344.4 L340.1,346.2 L341.0,348.0 L341.4,350.0 L341.6,352.1 L341.4,354.2 L341.0,356.0 L340.3,357.5 L339.4,358.8 L338.2,359.7 L337.0,360.0 L335.5,359.8 L333.9,359.0 L332.3,357.8 L331.0,356.0 L330.0,353.3 L329.2,349.9 L328.8,346.5 Z M304.0,350.0 L305.0,349.1 L306.6,348.4 L308.3,348.1 L310.0,348.0 L311.6,348.1 L313.4,348.4 L314.9,349.1 L316.0,350.0 L316.5,351.5 L316.7,353.4 L316.5,355.4 L316.0,357.0 L315.1,358.2 L313.9,359.1 L312.4,359.8 L311.0,360.0 L309.5,359.8 L307.8,359.1 L306.2,358.2 L305.0,357.0 L304.2,355.4 L303.8,353.4 L303.6,351.5 Z M329.0,365.0 L329.8,364.5 L330.9,364.0 L332.1,363.8 L333.0,364.0 L333.8,364.7 L334.5,365.8 L335.0,367.0 L335.0,368.0 L334.4,368.8 L333.3,369.6 L332.1,370.2 L331.0,370.5 L330.1,370.4 L329.2,369.9 L328.4,369.2 L328.0,368.5 L327.9,367.7 L328.1,366.7 L328.4,365.7 Z M345.0,336.0 L346.0,335.0 L347.4,334.2 L348.9,333.8 L350.0,334.0 L350.9,334.9 L351.6,336.5 L352.0,338.3 L352.0,340.0 L351.4,341.7 L350.4,343.6 L349.1,345.1 L348.0,346.0 L346.9,346.0 L345.7,345.3 L344.6,344.2 L344.0,343.0 L343.8,341.4 L343.9,339.4 L344.4,337.5 Z"/>
<ellipse cx="434.5" cy="313.5" rx="8" ry="7.2" fill="#c5cadd" stroke="#5a7d90" stroke-width="1" transform="rotate(-35 434.3 313)"/>
<path class="cap" d="M406.0,296.0 L406.3,295.7 L406.6,295.5 L407.0,295.4 L407.4,295.3 L407.9,295.3 L408.3,295.4 L408.8,295.5 L409.3,295.7 L409.8,296.0 L410.2,296.3 L410.6,296.6 L411.0,297.0 L411.3,297.5 L411.7,298.0 L412.0,298.7 L412.3,299.4 L412.6,300.2 L412.9,301.1 L413.1,301.9 L413.4,302.8 L413.6,303.6 L413.8,304.5 L413.9,305.3 L414.0,306.0 L414.1,306.7 L414.1,307.5 L414.1,308.3 L414.1,309.1 L414.0,309.9 L413.9,310.6 L413.8,311.4 L413.7,312.0 L413.6,312.7 L413.4,313.2 L413.2,313.7 L413.0,314.0 L412.8,314.3 L412.5,314.4 L412.2,314.5 L411.9,314.6 L411.5,314.6 L411.2,314.5 L410.8,314.4 L410.4,314.2 L410.0,314.0 L409.7,313.7 L409.3,313.4 L409.0,313.0 L408.7,312.6 L408.3,312.1 L408.0,311.5 L407.6,310.9 L407.3,310.2 L407.0,309.5 L406.6,308.8 L406.4,308.0 L406.1,307.2 L405.8,306.5 L405.7,305.7 L405.5,305.0 L405.4,304.3 L405.3,303.4 L405.2,302.6 L405.2,301.7 L405.2,300.8 L405.2,299.9 L405.3,299.1 L405.4,298.3 L405.5,297.6 L405.6,296.9 L405.8,296.4 Z"/>
<path fill="none" stroke="#2a809e" stroke-width="7.2" stroke-linecap="round" d="M417.0,318.0 L417.3,319.2 L417.6,320.4 L418.0,321.5 L418.3,322.7 L418.6,323.8 L418.9,325.0 L419.2,326.2 L419.5,327.4 L419.8,328.7 L420.0,330.0 L420.2,331.4 L420.4,332.8 L420.5,334.3 L420.7,335.8 L420.8,337.3 L420.9,338.9 L421.0,340.4 L421.0,342.0 L421.0,343.5 L421.0,345.0 L420.9,346.5 L420.8,348.0 L420.7,349.6 L420.6,351.1 L420.4,352.7 L420.2,354.2 L419.9,355.7 L419.6,357.2 L419.3,358.6 L419.0,360.0 L418.6,361.3 L418.2,362.6 L417.8,363.8 L417.3,365.0 L416.8,366.2 L416.3,367.3 L415.7,368.5 L415.2,369.6 L414.6,370.8 L414.0,372.0 L413.4,373.2 L412.7,374.4 L412.0,375.6 L411.2,376.8 L410.5,378.0 L409.8,379.2 L409.0,380.4 L408.3,381.6 L407.6,382.8 L407.0,384.0 L406.4,385.2 L405.9,386.4 L405.4,387.6 L404.9,388.8 L404.4,390.0 L403.9,391.2 L403.4,392.4 L403.0,393.6 L402.5,394.8 L402.0,396.0"/>
<path fill="none" stroke="#56c6ee" stroke-width="5.6" stroke-linecap="round" d="M417.0,318.0 L417.3,319.2 L417.6,320.4 L418.0,321.5 L418.3,322.7 L418.6,323.8 L418.9,325.0 L419.2,326.2 L419.5,327.4 L419.8,328.7 L420.0,330.0 L420.2,331.4 L420.4,332.8 L420.5,334.3 L420.7,335.8 L420.8,337.3 L420.9,338.9 L421.0,340.4 L421.0,342.0 L421.0,343.5 L421.0,345.0 L420.9,346.5 L420.8,348.0 L420.7,349.6 L420.6,351.1 L420.4,352.7 L420.2,354.2 L419.9,355.7 L419.6,357.2 L419.3,358.6 L419.0,360.0 L418.6,361.3 L418.2,362.6 L417.8,363.8 L417.3,365.0 L416.8,366.2 L416.3,367.3 L415.7,368.5 L415.2,369.6 L414.6,370.8 L414.0,372.0 L413.4,373.2 L412.7,374.4 L412.0,375.6 L411.2,376.8 L410.5,378.0 L409.8,379.2 L409.0,380.4 L408.3,381.6 L407.6,382.8 L407.0,384.0 L406.4,385.2 L405.9,386.4 L405.4,387.6 L404.9,388.8 L404.4,390.0 L403.9,391.2 L403.4,392.4 L403.0,393.6 L402.5,394.8 L402.0,396.0"/>
<path fill="none" stroke="#2a9cc8" stroke-width="1.4" stroke-linecap="round" d="M420.0,330.0 L420.1,331.5 L420.2,333.0 L420.4,334.5 L420.5,336.0 L420.7,337.5 L420.8,339.0 L420.9,340.5 L421.0,342.0 L421.0,343.5 L421.0,345.0 L420.9,346.5 L420.8,348.0 L420.7,349.6 L420.6,351.1 L420.4,352.7 L420.2,354.2 L419.9,355.7 L419.6,357.2 L419.3,358.6 L419.0,360.0 L418.6,361.3 L418.2,362.6 L417.8,363.8 L417.3,365.0 L416.8,366.2 L416.3,367.3 L415.7,368.5 L415.2,369.6 L414.6,370.8 L414.0,372.0 L413.4,373.2 L412.7,374.4 L412.0,375.6 L411.3,376.8 L410.6,378.0 L409.9,379.2 L409.2,380.4 L408.4,381.6 L407.7,382.8 L407.0,384.0"/>
<path class="cap" style="fill:#c9cde2" d="M401.5,369.5 L401.9,369.5 L402.3,369.5 L402.7,369.5 L403.1,369.6 L403.5,369.7 L403.9,369.9 L404.2,370.1 L404.6,370.4 L404.9,370.7 L405.1,371.1 L405.3,371.5 L405.5,372.0 L405.6,372.6 L405.7,373.2 L405.8,373.9 L405.8,374.7 L405.8,375.5 L405.8,376.3 L405.8,377.2 L405.7,378.2 L405.5,379.1 L405.4,380.1 L405.2,381.0 L405.0,382.0 L404.7,383.0 L404.5,384.0 L404.1,385.1 L403.7,386.2 L403.3,387.4 L402.9,388.5 L402.5,389.6 L402.0,390.8 L401.5,391.9 L401.0,393.0 L400.5,394.0 L400.0,395.0 L399.5,396.0 L398.9,396.9 L398.4,397.9 L397.8,398.8 L397.2,399.7 L396.6,400.6 L395.9,401.4 L395.3,402.3 L394.7,403.0 L394.1,403.7 L393.6,404.4 L393.0,405.0 L392.5,405.5 L391.9,406.0 L391.3,406.5 L390.8,406.9 L390.3,407.3 L389.7,407.6 L389.2,407.9 L388.7,408.1 L388.2,408.3 L387.8,408.4 L387.4,408.5 L387.0,408.5 L386.7,408.5 L386.3,408.4 L386.0,408.2 L385.8,408.1 L385.5,407.8 L385.3,407.5 L385.1,407.2 L384.9,406.8 L384.8,406.4 L384.6,406.0 L384.6,405.5 L384.5,405.0 L384.5,404.5 L384.5,403.9 L384.5,403.2 L384.6,402.6 L384.7,401.8 L384.8,401.1 L384.9,400.3 L385.1,399.5 L385.3,398.7 L385.5,397.8 L385.7,396.9 L386.0,396.0 L386.3,395.0 L386.6,394.0 L387.0,392.9 L387.4,391.8 L387.8,390.7 L388.3,389.5 L388.7,388.4 L389.2,387.2 L389.7,386.1 L390.1,385.0 L390.6,384.0 L391.0,383.0 L391.4,382.1 L391.8,381.2 L392.2,380.2 L392.6,379.4 L393.1,378.5 L393.5,377.7 L393.9,376.9 L394.3,376.1 L394.7,375.4 L395.1,374.7 L395.6,374.1 L396.0,373.5 L396.4,373.0 L396.9,372.4 L397.4,372.0 L397.9,371.5 L398.3,371.1 L398.8,370.8 L399.3,370.4 L399.8,370.1 L400.2,369.9 L400.7,369.7 L401.1,369.6 Z"/>
<path class="cap" style="fill:#d0d4e7" d="M285.0,428.5 L285.0,428.2 L285.1,427.8 L285.3,427.5 L285.6,427.1 L285.9,426.8 L286.2,426.5 L286.6,426.2 L287.0,426.0 L287.5,425.8 L288.0,425.5 L288.5,425.3 L289.1,425.1 L289.8,425.0 L290.5,424.9 L291.2,424.9 L292.0,425.0 L292.8,425.2 L293.6,425.6 L294.5,426.1 L295.4,426.6 L296.4,427.2 L297.4,427.7 L298.6,428.2 L300.0,428.5 L301.5,428.7 L303.3,428.9 L305.1,429.1 L307.1,429.2 L309.1,429.3 L311.1,429.4 L313.1,429.4 L315.0,429.5 L316.9,429.6 L318.8,429.7 L320.6,429.8 L322.5,429.8 L324.4,429.9 L326.2,429.9 L328.1,429.9 L330.0,429.8 L331.9,429.7 L333.8,429.6 L335.7,429.4 L337.6,429.2 L339.5,429.0 L341.4,428.7 L343.2,428.4 L345.0,428.0 L346.7,427.5 L348.5,427.0 L350.2,426.4 L351.8,425.8 L353.4,425.2 L355.0,424.5 L356.5,423.7 L358.0,423.0 L359.4,422.2 L360.8,421.5 L362.1,420.7 L363.3,419.8 L364.5,418.9 L365.7,418.0 L366.9,417.0 L368.0,416.0 L369.1,414.8 L370.2,413.6 L371.3,412.2 L372.3,410.8 L373.3,409.4 L374.3,408.1 L375.2,407.0 L376.0,406.0 L376.7,405.2 L377.4,404.5 L378.0,403.9 L378.6,403.4 L379.1,403.0 L379.6,402.7 L380.1,402.6 L380.5,402.5 L381.0,402.6 L381.4,402.8 L381.9,403.1 L382.3,403.5 L382.7,404.1 L382.9,404.6 L383.1,405.3 L383.0,406.0 L382.8,406.8 L382.4,407.6 L381.9,408.6 L381.3,409.6 L380.6,410.7 L379.8,411.8 L378.9,412.9 L378.0,414.0 L377.0,415.2 L376.0,416.4 L374.9,417.7 L373.7,419.1 L372.4,420.4 L371.0,421.7 L369.6,422.9 L368.0,424.0 L366.3,425.0 L364.4,426.0 L362.5,427.0 L360.4,427.9 L358.3,428.7 L356.2,429.5 L354.1,430.3 L352.0,431.0 L349.9,431.7 L347.9,432.3 L345.8,432.9 L343.8,433.4 L341.6,433.9 L339.5,434.3 L337.3,434.7 L335.0,435.0 L332.6,435.2 L330.2,435.4 L327.7,435.5 L325.1,435.6 L322.6,435.6 L320.0,435.6 L317.5,435.5 L315.0,435.5 L312.5,435.5 L309.9,435.4 L307.4,435.3 L304.8,435.2 L302.3,435.1 L300.0,434.9 L297.9,434.7 L296.0,434.5 L294.3,434.2 L292.9,433.9 L291.6,433.5 L290.4,433.1 L289.4,432.7 L288.5,432.3 L287.7,431.9 L287.0,431.5 L286.4,431.1 L285.9,430.7 L285.6,430.4 L285.3,430.0 L285.1,429.6 L285.1,429.2 L285.0,428.9 Z"/>
<path fill="none" stroke="#eef0f8" stroke-width="1.6" stroke-linecap="round" opacity="0.8" d="M289,428.5 C292,427 296,428 300,430"/>

<!-- ============ LOGO ============ -->
<path fill="#121212" d="M478.25,11.08 C480,4.67 491.67,0.58 503.92,2.33 C495.17,3.5 488.17,8.17 486.42,14 C485.25,19.83 488.17,26.83 497.5,28.58 C502.17,29.17 505.67,28.58 506.83,27.77 C503.33,31.5 496.33,34.42 489.33,33.83 C483.5,33.25 478.83,26.83 478.25,21 Z"/>
<path fill="#121212" d="M463.7,6.4 C465,12 467,16 470.1,18.7 L461.9,18.7 C462.5,14 463,10 463.7,6.4 Z"/>
<path fill="url(#logoG)" d="M454.92,17.5 C460.17,19.25 468.33,20.42 474.17,17.5 C477.67,12.83 480,9.33 482.33,9.92 C485.83,11.08 488.17,16.33 488.17,23.33 C488.17,30.33 484.67,35 478.83,35 C470.67,35 466,31.5 461.33,26.83 C457.83,23.33 456.08,20.42 454.92,17.5 Z"/>
<path fill="none" stroke="#d8f2b0" stroke-width="0.8" opacity="0.8" d="M466,27.5 C472,30 480,30.5 487,28 M469,31 C475,33 481,33 486.5,31.5"/>
<path fill="#e6f7c8" opacity="0.55" d="M476,16 C478,12 481,11 483.5,12.5 C485,15 484,19 481,21 C478,22 475.5,20 476,16 Z"/>
<circle cx="494.6" cy="15.2" r="5.3" fill="url(#logoB)"/>

<!-- ============ LEADER LINES ============ -->
<polyline class="ll" points="351.5,170 351.5,154.5 446,154.5"/>
<circle cx="351.5" cy="170" r="1.8" fill="#222"/>
<line class="ll" x1="343.5" y1="343.8" x2="436.3" y2="343.8"/>
<circle cx="343.5" cy="343.8" r="1.8" fill="#222"/>
<line class="ll" x1="181" y1="391.5" x2="253" y2="391.5"/>
<circle cx="253" cy="391.5" r="1.8" fill="#222"/>
<polyline class="ll" points="314.5,401 374,472 374,394"/>
<circle cx="314.5" cy="401" r="1.8" fill="#222"/>
<circle cx="374" cy="394" r="1.8" fill="#222"/>

<!-- ============ TEXT ============ -->
<text class="b" x="93.2" y="12">Normal anatomy</text>
<text class="b" x="289.2" y="131.8">Diseased anatomy</text>
<text x="449.2" y="160.2">Inflamed</text>
<text x="449.2" y="177.7">acromio-</text>
<text x="449.2" y="195.3">clavicular</text>
<text x="449.2" y="212.8">joint</text>
<text x="438.4" y="349">Loss of</text>
<text x="438.4" y="366.4">articular</text>
<text x="438.4" y="383.6">cartilage</text>
<text x="178.9" y="397" text-anchor="end">Inflamed and</text>
<text x="178.9" y="414.6" text-anchor="end">thickened</text>
<text x="178.9" y="432" text-anchor="end">joint capsule</text>
<text x="92.6" y="487.1"><tspan class="b" style="font-size:13px">Lateral</tspan> (right)</text>
<text x="371" y="487">Synovitic fronds</text>
</svg>
</body></html>
